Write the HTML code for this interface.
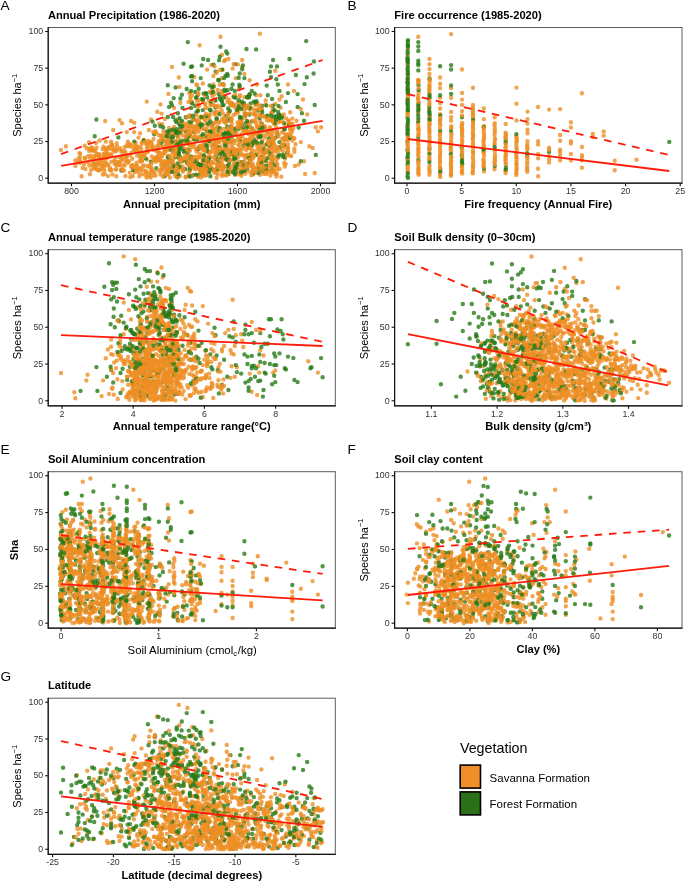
<!DOCTYPE html><html><head><meta charset="utf-8"><style>html,body{margin:0;padding:0;background:#fff;width:685px;height:881px;overflow:hidden} svg{display:block;filter:blur(0.3px)} text{font-family:"Liberation Sans", sans-serif} .tk{font-size:8.8px;fill:#333333} .ti{font-size:11.15px;font-weight:bold;fill:#000} .xt{font-size:11.1px;font-weight:bold;fill:#000} .xtr{font-size:11.4px;fill:#000} .yt{font-size:11px;fill:#000} .lt{font-size:13.6px;fill:#000} path.o{fill:none;stroke:rgb(238, 143, 36);stroke-opacity:0.8;stroke-width:4.4;stroke-linecap:round} path.g{fill:none;stroke:rgb(38, 122, 22);stroke-opacity:0.8;stroke-width:4.4;stroke-linecap:round} .rl{stroke:#FF1A0A;stroke-width:1.8;stroke-linecap:butt} .rd{stroke:#FF1A0A;stroke-width:1.8;stroke-dasharray:7.6 6.8}</style></head><body>
<svg width="685" height="881" viewBox="0 0 685 881">
<rect width="685" height="881" fill="#fff"/>
<clipPath id="cA"><rect x="48.2" y="27.5" width="287.1" height="155.7"/></clipPath>
<g clip-path="url(#cA)">
<path class="o" d="M221.7 163.2h0M167.7 170.1h0M132.8 165.2h0M133.1 147.5h0M145.2 174.8h0M317.9 131.4h0M166.6 144.2h0M170.0 148.1h0M251.9 157.3h0M250.0 127.2h0M231.3 129.8h0M189.3 143.5h0M290.8 133.4h0M195.4 165.5h0M241.5 119.9h0M239.5 96.7h0M218.6 169.9h0M161.5 113.6h0M201.4 155.7h0M229.7 159.9h0M159.5 154.1h0M272.8 160.1h0M182.5 135.4h0M175.6 131.0h0M238.4 161.5h0M280.6 107.7h0M109.7 169.6h0M211.0 132.1h0M117.7 162.0h0M200.7 168.1h0M217.7 153.5h0M117.6 149.6h0M125.7 161.5h0M243.9 130.2h0M163.5 131.7h0M240.5 107.7h0M176.4 141.4h0M251.8 108.0h0M160.6 136.2h0M252.8 163.6h0M263.9 151.3h0M277.4 164.5h0M129.8 172.6h0M189.1 125.7h0M292.5 123.7h0M154.6 160.2h0M259.9 174.8h0M271.4 141.1h0M138.8 168.4h0M105.9 157.6h0M178.8 156.1h0M182.6 166.5h0M281.6 96.3h0M190.0 115.5h0M227.3 101.8h0M96.0 143.0h0M206.1 137.0h0M166.7 161.7h0M153.7 150.0h0M160.5 174.5h0M236.7 132.0h0M194.4 119.2h0M189.6 160.7h0M153.6 139.0h0M80.5 162.0h0M249.9 147.2h0M231.5 145.4h0M161.2 164.5h0M222.6 69.7h0M177.3 146.9h0M196.4 84.5h0M218.5 112.3h0M269.7 155.0h0M192.0 95.5h0M150.6 173.3h0M246.8 139.9h0M188.2 155.5h0M212.5 148.2h0M143.8 139.9h0M280.9 149.5h0M266.9 120.4h0M273.5 168.2h0M216.4 135.0h0M257.6 127.4h0M233.4 96.7h0M200.7 173.7h0M210.5 162.8h0M134.2 132.1h0M122.0 123.3h0M240.9 142.0h0M202.5 162.2h0M207.1 108.1h0M191.8 176.3h0M92.5 150.6h0M215.3 144.0h0M219.9 84.8h0M168.8 135.8h0M284.4 144.4h0M241.6 172.5h0M95.1 168.7h0M253.2 174.4h0M225.2 60.0h0M199.1 119.8h0M312.6 148.0h0M269.5 129.2h0M278.8 155.1h0M140.4 160.3h0M185.0 159.9h0M105.2 121.0h0M286.1 118.4h0M182.2 143.1h0M148.0 148.6h0M199.6 124.8h0M220.9 135.8h0M103.5 146.7h0M242.6 167.3h0M231.4 120.1h0M144.3 165.5h0M254.6 151.1h0M275.3 70.7h0M131.0 153.0h0M256.0 105.0h0M112.7 146.5h0M189.8 150.4h0M94.5 157.8h0M213.0 91.2h0M261.0 156.8h0M233.1 105.5h0M149.1 165.5h0M263.1 115.6h0M223.7 128.9h0M246.8 155.6h0M226.3 156.1h0M185.7 176.7h0M190.2 133.9h0M191.9 103.1h0M112.4 174.5h0M232.6 68.6h0M285.3 124.4h0M170.1 155.7h0M288.1 148.8h0M245.1 115.7h0M253.7 114.0h0M270.7 136.2h0M204.9 115.6h0M175.1 175.7h0M255.5 121.9h0M90.0 174.2h0M294.4 148.7h0M95.3 163.8h0M81.6 176.3h0M103.8 168.4h0M194.1 131.2h0M300.8 142.1h0M231.2 170.8h0M198.0 109.9h0M164.1 151.4h0M220.5 36.8h0M204.0 148.3h0M214.5 100.1h0M178.8 77.5h0M219.0 122.8h0M222.3 152.9h0M234.6 140.7h0M157.3 111.7h0M224.5 121.9h0M269.0 171.4h0M206.3 174.8h0M134.6 172.0h0M158.8 141.4h0M107.6 153.2h0M212.3 123.3h0M244.4 73.9h0M161.1 147.1h0M218.7 159.0h0M237.8 64.4h0M198.1 95.1h0M228.3 166.1h0M265.4 104.8h0M238.3 156.7h0M168.5 93.9h0M180.3 161.5h0M234.8 149.6h0M220.4 107.2h0M294.0 90.9h0M207.9 169.9h0M194.2 139.9h0M189.4 165.7h0M246.1 150.0h0M288.5 139.6h0M160.3 159.7h0M104.8 174.2h0M202.8 83.5h0M261.2 134.4h0M174.3 166.8h0M254.4 131.7h0M222.6 94.8h0M249.7 94.1h0M278.3 136.5h0M126.6 155.9h0M180.4 102.7h0M279.3 121.6h0M262.2 166.7h0M184.0 152.3h0M137.5 150.6h0M204.1 129.0h0M169.9 177.5h0M98.2 154.2h0M222.0 54.7h0M206.0 158.1h0M226.8 172.5h0M242.0 67.1h0M264.9 126.6h0M213.4 76.0h0M75.3 160.5h0M296.6 120.8h0M196.7 151.7h0M193.8 126.1h0M139.5 155.7h0M205.2 93.7h0M106.1 162.8h0M272.8 108.9h0M199.3 129.9h0M245.4 105.9h0M86.8 148.3h0M257.4 168.0h0M263.2 171.5h0M225.8 144.3h0M140.1 133.2h0M215.7 129.3h0M111.1 141.6h0M138.5 137.6h0M225.1 138.8h0M237.2 112.4h0M266.1 144.5h0M286.4 135.3h0M151.8 156.5h0M260.3 95.2h0M209.2 118.6h0M132.3 158.8h0M217.7 89.9h0M211.3 64.9h0M125.5 176.0h0M210.7 105.1h0M164.7 119.1h0M80.1 157.0h0M284.8 166.6h0M182.1 129.6h0M179.9 176.0h0M240.5 150.8h0M75.4 165.9h0M218.8 147.9h0M85.4 168.9h0M294.4 138.5h0M124.4 151.2h0M202.9 100.7h0M255.8 141.6h0M237.4 122.4h0M300.8 109.0h0M144.8 153.4h0M244.4 97.3h0M283.8 114.4h0M162.3 124.2h0M173.1 152.0h0M121.5 157.7h0M228.3 150.4h0M248.6 171.4h0M268.3 166.4h0M212.1 157.2h0M261.9 108.9h0M292.3 118.6h0M275.3 103.7h0M139.2 176.3h0M177.6 171.0h0M248.9 134.5h0M271.0 147.1h0M259.9 33.8h0M315.8 127.2h0M198.8 105.2h0M127.0 146.0h0M238.0 102.7h0M85.2 158.7h0M290.2 112.2h0M305.1 174.0h0M105.8 141.6h0M155.3 131.2h0M222.0 173.7h0M236.8 168.3h0M155.7 175.4h0M228.5 113.7h0M233.7 164.3h0M201.0 140.0h0M282.0 132.1h0M199.6 45.3h0M184.0 125.1h0M116.7 143.3h0M239.0 88.8h0M100.8 163.2h0M111.3 155.9h0M273.1 121.8h0M131.0 121.0h0M111.4 161.7h0M207.1 69.6h0M264.2 160.7h0M289.8 155.4h0M278.0 117.1h0M171.4 161.5h0M121.1 169.8h0M298.7 164.5h0M253.3 136.6h0M242.2 60.0h0M239.2 126.9h0M182.9 171.5h0M61.0 150.0h0M89.0 142.2h0M276.0 149.0h0M206.1 124.0h0M126.8 132.1h0M304.0 161.3h0M194.4 145.4h0M288.0 84.5h0M216.6 177.8h0M285.0 158.8h0M260.2 121.2h0M211.6 138.4h0M148.9 130.0h0M257.1 84.5h0M135.6 142.5h0M213.4 84.5h0M194.3 77.1h0M207.1 143.5h0M189.0 172.3h0M146.1 144.1h0M151.0 119.5h0M160.5 104.4h0M235.8 78.1h0M276.9 173.7h0M208.9 100.8h0M179.4 86.9h0M214.3 172.8h0M265.1 137.4h0M161.2 169.4h0M65.9 146.2h0M240.7 135.9h0M279.6 169.0h0M303.0 99.5h0M281.3 176.7h0M143.4 170.1h0M259.6 148.1h0M262.0 141.6h0M307.2 114.4h0M115.9 169.6h0M199.4 146.1h0M195.2 156.8h0M140.6 146.7h0M321.1 127.2h0M314.7 173.0h0M208.6 151.7h0M258.7 161.6h0M174.1 107.9h0M248.5 122.8h0M113.2 130.0h0M147.1 159.6h0M221.6 78.3h0M146.8 101.6h0M235.1 174.9h0M276.1 127.0h0M89.3 165.5h0M172.0 66.9h0M168.9 127.9h0M277.2 131.5h0M178.3 119.5h0M244.6 161.8h0M249.7 80.3h0"/>
<path class="g" d="M212.7 132.2h0M227.1 134.4h0M187.0 139.7h0M185.4 169.1h0M218.7 131.1h0M304.5 84.1h0M290.2 137.8h0M314.7 105.0h0M207.0 147.8h0M238.9 128.8h0M238.8 164.5h0M195.1 105.8h0M197.9 163.9h0M230.5 118.6h0M279.7 147.1h0M200.4 126.7h0M240.0 139.4h0M174.9 157.3h0M272.3 143.6h0M228.2 108.5h0M167.8 117.0h0M236.0 172.2h0M222.0 69.6h0M258.7 168.9h0M288.0 93.1h0M278.5 105.9h0M277.3 133.5h0M134.2 141.6h0M222.0 101.6h0M176.4 141.9h0M193.5 119.6h0M195.3 92.0h0M279.4 114.6h0M261.8 157.2h0M250.6 142.7h0M239.7 73.5h0M279.5 90.9h0M239.3 84.7h0M170.0 137.0h0M258.0 135.6h0M225.6 75.6h0M271.5 170.2h0M118.4 137.4h0M208.6 140.5h0M251.9 121.4h0M279.5 154.9h0M237.8 109.3h0M167.0 131.5h0M196.2 98.0h0M145.8 158.4h0M203.7 93.7h0M219.1 60.3h0M268.0 151.0h0M266.7 116.5h0M301.9 113.3h0M247.2 96.9h0M209.6 85.4h0M96.4 119.5h0M215.6 100.5h0M212.7 124.5h0M202.8 110.1h0M256.1 49.4h0M269.0 138.4h0M240.2 118.9h0M272.6 118.6h0M243.3 145.9h0M216.2 155.8h0M246.5 49.0h0M188.8 157.1h0M263.4 167.8h0M247.4 157.2h0M223.1 84.2h0M265.8 160.8h0M224.7 144.1h0M275.3 137.8h0M226.4 157.7h0M258.5 144.2h0M198.9 148.1h0M273.1 111.2h0M207.0 158.2h0M289.1 125.0h0M94.7 136.3h0M133.1 170.0h0M249.8 161.2h0M272.1 99.0h0M174.6 132.7h0M251.1 153.7h0M272.0 163.2h0M164.7 163.7h0M238.8 100.4h0M283.6 138.8h0M283.8 123.0h0M201.7 65.4h0M277.0 66.4h0M179.0 123.7h0M263.6 152.5h0M284.0 128.8h0M249.4 114.5h0M186.7 131.1h0M235.8 158.1h0M166.8 172.1h0M190.9 76.4h0M95.3 164.7h0M121.6 170.6h0M177.9 113.2h0M196.4 112.2h0M205.8 165.0h0M180.4 98.5h0M250.6 103.4h0M172.0 105.2h0M260.7 127.3h0M182.5 161.0h0M177.6 136.2h0M182.4 148.8h0M170.4 168.2h0M193.3 175.1h0M277.8 84.5h0M189.9 170.0h0M245.6 123.4h0M284.8 157.0h0M156.3 168.3h0M243.9 103.2h0M256.0 103.6h0M194.1 138.9h0M173.7 98.1h0M198.7 88.8h0M231.4 150.7h0M315.8 154.9h0M192.1 66.4h0M175.6 87.5h0M174.1 148.9h0M306.2 41.1h0M210.4 176.3h0M205.0 118.7h0M177.7 163.5h0M215.6 71.8h0M246.8 106.9h0M273.1 60.0h0M189.0 122.2h0M267.8 95.2h0M161.2 143.1h0M240.6 171.4h0M232.3 104.2h0M287.0 152.7h0M175.4 120.3h0M230.7 126.6h0M298.7 127.6h0M227.5 90.2h0M152.5 121.6h0M201.7 99.3h0M201.2 136.3h0M233.9 96.7h0M242.2 69.2h0M213.2 169.9h0M271.0 66.4h0M237.6 153.7h0M277.9 119.6h0M218.4 162.1h0M187.8 42.1h0M259.6 118.1h0M276.3 79.2h0M252.7 167.1h0M178.5 152.4h0M216.7 119.3h0M226.1 115.9h0M235.0 64.1h0M269.9 71.8h0M271.0 77.1h0M251.9 128.5h0M203.2 59.0h0M170.4 160.5h0M234.9 133.7h0M177.4 177.3h0M218.8 80.3h0M217.9 150.3h0M183.6 63.8h0M224.0 166.7h0M257.9 110.5h0M261.8 105.8h0M313.6 73.5h0M188.3 149.8h0M228.4 169.3h0M289.5 59.0h0M164.7 176.3h0M198.7 175.3h0M168.7 142.1h0M143.6 140.5h0M251.8 90.9h0M300.8 161.3h0M279.5 142.1h0M180.4 129.0h0M253.6 173.3h0M218.8 94.0h0M210.7 110.6h0M215.3 107.5h0M244.4 78.1h0M208.1 60.0h0M214.2 145.1h0M297.6 94.1h0M261.5 163.4h0M151.0 161.6h0M219.6 114.3h0M273.0 105.8h0M206.1 136.1h0M266.4 105.4h0M304.0 120.8h0M266.7 85.6h0M232.6 84.5h0M295.9 75.0h0M285.9 102.0h0M154.8 125.8h0M190.0 116.5h0M266.9 144.4h0M267.2 131.6h0M221.6 157.5h0M186.7 89.0h0M224.1 150.7h0M215.5 140.0h0M234.8 90.9h0M247.1 168.2h0M154.2 134.2h0M189.7 135.7h0M193.9 131.9h0M179.6 118.2h0M213.6 64.7h0M211.3 93.1h0M231.5 141.2h0M228.4 174.0h0M314.0 61.5h0M207.1 97.3h0M227.3 53.6h0M246.5 131.2h0M229.1 163.1h0M167.8 85.2h0M220.5 46.8h0M182.5 107.9h0M297.6 106.9h0M306.8 77.3h0M192.1 81.3h0M163.2 127.5h0M240.5 124.1h0M207.0 130.9h0M200.7 78.1h0"/>
<path class="o" d="M290.2 129.3h0M171.0 143.0h0M226.3 159.7h0M126.3 157.6h0M158.5 170.5h0M172.4 130.7h0M221.4 168.0h0M247.9 148.6h0M229.8 141.9h0M180.3 158.2h0M113.2 150.2h0M219.7 70.1h0M129.0 161.4h0M283.8 146.3h0M186.7 126.6h0M148.0 140.9h0M262.2 148.8h0M195.9 120.3h0M198.7 168.0h0M249.4 162.6h0M163.0 168.1h0M245.2 118.0h0M119.5 120.1h0M159.2 152.7h0M202.0 171.7h0M193.3 167.5h0M241.2 126.7h0M205.3 103.9h0M254.3 110.5h0M216.0 115.6h0M245.3 173.8h0M240.2 137.7h0M251.0 130.5h0M288.3 134.0h0M198.5 156.9h0M246.2 144.4h0M272.1 140.3h0M120.2 148.3h0M214.4 139.7h0M202.7 138.7h0M217.0 152.0h0M164.3 161.5h0M92.7 166.0h0M147.9 152.1h0M107.3 154.4h0M232.4 147.4h0M138.4 172.5h0M121.0 161.1h0M150.0 176.3h0M309.4 146.3h0M182.7 170.0h0M244.5 168.4h0M197.2 125.1h0M241.4 162.5h0M239.4 144.0h0M167.9 155.9h0M270.6 157.4h0M165.0 173.2h0M230.6 130.9h0M240.5 121.2h0M211.6 161.9h0M251.8 151.4h0M215.9 144.1h0M214.7 93.7h0M209.4 115.2h0M254.4 103.6h0M230.8 105.5h0M218.7 134.1h0M110.3 170.0h0M188.1 116.5h0M124.9 165.4h0M89.3 150.9h0M221.7 110.4h0M194.7 131.0h0M151.8 148.2h0M212.3 151.4h0M223.8 117.6h0M80.1 162.8h0M96.6 147.6h0M164.3 147.2h0M243.4 105.7h0M99.5 140.5h0M272.0 129.7h0M158.6 160.4h0M244.6 112.1h0M248.1 105.5h0M255.9 172.9h0M107.8 148.1h0M265.7 100.5h0M98.0 164.0h0M206.5 151.2h0M261.2 116.2h0M183.1 145.5h0M288.0 144.2h0M213.5 129.8h0M187.6 162.5h0M277.0 166.5h0M151.6 163.5h0M291.0 124.4h0M99.0 170.5h0M198.0 94.0h0M166.3 140.4h0M223.6 138.4h0M250.0 138.5h0M271.5 145.4h0M228.9 99.8h0M178.0 137.5h0M141.3 149.5h0M142.1 143.2h0M172.3 169.3h0M131.9 166.9h0M173.0 135.9h0M176.3 148.0h0M134.8 150.0h0M161.9 135.5h0M252.0 157.3h0M238.9 150.3h0M134.9 144.6h0M205.1 165.4h0M256.8 126.8h0M178.0 175.7h0M208.5 131.6h0M153.6 159.3h0M189.6 145.4h0M256.3 117.1h0M202.6 146.9h0M275.4 121.0h0M240.4 172.5h0M295.5 144.3h0M208.7 171.6h0M227.2 174.6h0M108.4 164.6h0M260.3 105.9h0M78.5 158.4h0M254.0 168.5h0M191.8 101.6h0M114.9 164.2h0M231.5 166.8h0M222.6 155.8h0M258.9 164.6h0M232.5 153.5h0M259.0 133.5h0M137.0 155.6h0M99.4 156.1h0M170.7 162.6h0M142.9 154.2h0M192.1 161.1h0M224.1 61.1h0M269.3 170.6h0M264.4 126.2h0M142.0 160.8h0M202.7 161.3h0M185.7 135.9h0M231.9 123.7h0M175.3 155.4h0M154.2 172.2h0M186.5 149.1h0M285.7 164.0h0M201.0 177.4h0M263.6 156.7h0M233.8 172.9h0M278.8 134.9h0M164.4 153.0h0M292.4 140.5h0M231.6 118.9h0M216.2 121.0h0M216.3 172.3h0M235.1 133.0h0M278.3 148.1h0M185.0 156.5h0M256.1 95.2h0M270.4 175.5h0M166.3 133.9h0M188.8 132.1h0M125.4 152.3h0M178.6 130.9h0M209.3 157.5h0M197.8 149.8h0M199.8 117.0h0M250.2 113.1h0M204.4 155.9h0M279.5 99.5h0M111.9 145.0h0M294.4 151.7h0M215.3 159.0h0M116.3 176.3h0M190.0 92.4h0M245.2 158.3h0M246.2 132.5h0M266.6 116.9h0M223.9 85.0h0M265.9 152.7h0M236.5 110.0h0M256.7 154.8h0M284.9 140.2h0M191.5 175.2h0M159.4 123.7h0M194.1 136.8h0M282.1 116.2h0M271.0 105.9h0M263.6 170.7h0M124.7 147.0h0M247.6 125.4h0M271.4 163.2h0M251.3 173.1h0M90.8 155.8h0M209.9 91.8h0M264.7 135.1h0M211.2 104.3h0M220.6 146.4h0M211.2 145.0h0M212.4 125.0h0M185.6 177.4h0M190.3 97.2h0M153.1 132.1h0M136.6 165.8h0M256.2 139.3h0M207.3 139.6h0M288.1 151.7h0M104.4 170.7h0M271.3 135.0h0M203.3 129.1h0M222.0 90.9h0M197.4 105.8h0M205.0 95.3h0M252.5 121.0h0M177.2 142.1h0M129.9 144.2h0M236.4 127.4h0M240.1 95.2h0M115.5 157.4h0M291.2 156.0h0M228.7 111.9h0M122.5 170.5h0M228.4 59.0h0M159.4 141.6h0M222.1 175.9h0M199.0 100.3h0M252.3 142.9h0M282.2 121.7h0M214.5 66.4h0M204.5 118.5h0M235.2 94.7h0M168.4 149.8h0M241.6 154.1h0M177.1 170.9h0M134.2 122.7h0M278.5 157.6h0M142.7 166.2h0M283.6 132.8h0M238.7 105.6h0M84.6 157.8h0M288.4 120.5h0M145.7 170.9h0M245.5 139.8h0M197.1 85.2h0M102.6 149.1h0M181.1 122.2h0M187.5 140.2h0M217.3 107.3h0M257.3 146.5h0M271.6 150.8h0M79.5 153.1h0M227.5 147.6h0M217.8 127.2h0M295.0 166.0h0M217.1 165.6h0M116.2 169.0h0M270.6 120.1h0M275.3 174.0h0M102.5 166.3h0M272.1 112.8h0M130.3 177.0h0M262.3 140.8h0M233.7 64.3h0M236.3 156.6h0M211.9 167.7h0M234.4 143.0h0M84.8 145.8h0M225.9 123.3h0M88.1 162.3h0M231.3 159.9h0M82.7 167.9h0M108.1 176.1h0M147.7 166.3h0M226.1 152.1h0M103.5 159.1h0M221.4 162.9h0"/>
<path class="o" d="M179.5 155.9h0M174.1 126.9h0M169.4 138.9h0M116.4 150.8h0M228.5 157.8h0M202.4 175.0h0M248.3 147.7h0M237.7 140.1h0M217.8 170.5h0M188.1 123.8h0M217.6 140.8h0M124.0 159.3h0M251.3 159.3h0M180.7 166.5h0M197.2 166.3h0M146.5 177.6h0M197.6 157.8h0M222.4 159.4h0M181.0 161.3h0M232.6 127.9h0M168.8 160.3h0M221.5 133.9h0M198.2 131.9h0M246.0 114.0h0M119.6 165.0h0M283.4 145.8h0M90.6 149.5h0M190.9 165.4h0M174.5 145.2h0M160.6 172.3h0M264.4 151.9h0M168.8 145.2h0M248.0 141.5h0M250.7 154.0h0M190.6 131.1h0M163.0 146.8h0M248.0 132.0h0M222.0 166.6h0M157.2 151.4h0M242.2 122.8h0M241.4 175.7h0M210.9 130.7h0M189.6 158.8h0M158.6 159.4h0M97.9 165.2h0M241.9 128.7h0M163.7 165.5h0M255.6 109.8h0M154.6 147.4h0M238.3 145.1h0M271.9 142.6h0M203.1 150.5h0M106.1 151.3h0M257.7 149.6h0M269.8 154.9h0M190.2 170.0h0M232.5 133.7h0M184.6 143.3h0M184.8 158.6h0M212.3 137.0h0M243.5 171.6h0M192.3 120.5h0M226.9 119.2h0M185.4 149.1h0M207.5 167.8h0M245.9 164.7h0M133.8 150.5h0M190.1 115.7h0M205.6 107.6h0M245.2 107.8h0M287.0 135.1h0M282.8 150.7h0M274.4 137.8h0M126.7 154.9h0M236.6 150.8h0M252.4 170.8h0M253.2 133.2h0M108.8 146.9h0M153.5 175.6h0M172.1 134.1h0M224.9 174.7h0M208.2 116.5h0M222.1 119.2h0M288.0 147.1h0M105.1 157.8h0M137.0 146.2h0M260.9 114.8h0M173.2 162.4h0M121.8 150.6h0M205.0 162.3h0M212.1 142.1h0M231.4 102.8h0M255.3 120.0h0M170.5 171.4h0M131.7 167.5h0M117.0 146.2h0M270.1 130.9h0M141.8 142.5h0M214.6 163.1h0M111.0 155.2h0M271.6 159.6h0M277.5 169.6h0M93.3 161.7h0M163.5 136.6h0M284.1 163.2h0M104.1 165.3h0M163.0 154.0h0M265.9 169.4h0M128.0 162.7h0M291.3 129.5h0M111.6 169.6h0M258.7 126.4h0M100.0 169.5h0M145.9 152.0h0M212.5 96.2h0M137.6 168.2h0M249.9 127.0h0M222.7 138.8h0M231.1 142.5h0M151.4 167.4h0M167.3 133.8h0M175.8 131.3h0M201.6 168.5h0M277.7 118.4h0M98.9 154.6h0M265.5 128.6h0M257.5 103.3h0M243.3 141.7h0M271.0 167.7h0M242.1 149.2h0M80.4 161.0h0M205.9 140.6h0M234.4 169.2h0M243.8 155.6h0M140.2 160.1h0M177.1 176.7h0M216.7 145.6h0M198.0 123.2h0M215.8 111.6h0M182.5 125.8h0M226.3 141.7h0M215.4 122.7h0M188.5 175.4h0M241.6 103.2h0M173.8 150.9h0M285.1 139.6h0M268.9 120.5h0M226.2 97.3h0M198.1 176.8h0M195.9 148.9h0M230.1 172.5h0M231.2 150.9h0M261.8 109.9h0M251.5 165.8h0M178.3 148.7h0M276.8 132.8h0M200.8 116.4h0M253.9 142.4h0M88.1 156.3h0M209.6 151.8h0M188.6 102.0h0M93.9 167.9h0M98.0 160.2h0M189.4 93.2h0M151.5 142.4h0M228.3 113.5h0M273.4 172.3h0M216.6 72.8h0M262.3 162.7h0M216.7 154.1h0M276.6 146.7h0M258.3 165.0h0M274.1 124.1h0M114.3 160.7h0M234.2 157.2h0M234.4 163.3h0M95.5 150.7h0M240.6 164.7h0M186.8 163.2h0M269.2 147.8h0M175.4 171.3h0M192.2 144.9h0M139.6 152.8h0M93.9 156.1h0M191.5 137.1h0M212.2 88.3h0M119.2 156.9h0M155.1 132.6h0M197.2 101.5h0M198.5 93.1h0M204.7 134.8h0M130.7 145.0h0M258.5 136.0h0M206.8 158.0h0M234.5 106.8h0M200.4 145.6h0M275.3 151.4h0M198.9 137.4h0M242.5 136.6h0M276.7 159.2h0M208.5 125.4h0M288.9 121.2h0M254.5 114.6h0M84.1 164.3h0M180.8 140.2h0M221.7 149.8h0M235.5 113.8h0M268.6 163.2h0M210.4 103.7h0M221.7 93.3h0M147.9 145.3h0M180.9 133.1h0M257.1 154.2h0M163.0 176.7h0M226.4 130.6h0M217.0 127.2h0M186.0 137.6h0M286.7 155.4h0M146.1 171.9h0M124.0 170.5h0M249.8 108.8h0M217.7 105.7h0M141.9 174.3h0M263.5 145.8h0M263.9 174.1h0M199.0 105.8h0M196.0 115.2h0M271.1 112.9h0M221.9 83.9h0M205.4 120.6h0M80.1 153.6h0M102.8 174.5h0M222.9 113.6h0M142.8 156.3h0M293.4 137.8h0M258.6 144.4h0M174.3 155.6h0M247.7 121.5h0M229.3 168.0h0M167.1 150.5h0M132.8 176.0h0M276.4 176.5h0"/>
<path class="g" d="M188.1 136.8h0M178.6 157.9h0M233.2 172.0h0M252.8 143.2h0M195.3 160.6h0M192.2 103.3h0M269.6 142.8h0M209.9 132.2h0M212.1 87.0h0M191.1 108.0h0M283.1 154.6h0M279.4 114.9h0M267.3 115.8h0M234.8 129.3h0M261.0 161.7h0M226.0 134.4h0M239.8 116.7h0M187.4 153.4h0M166.7 135.8h0M171.4 137.5h0M204.5 144.3h0M238.7 77.7h0M170.0 130.4h0M283.8 145.3h0M289.5 137.7h0M210.2 121.5h0M258.6 172.9h0M198.6 167.7h0M249.2 95.5h0M180.1 125.7h0M247.9 164.2h0M175.7 131.6h0M193.1 115.7h0M182.0 121.0h0M198.5 149.0h0M227.7 75.7h0M274.6 110.1h0M245.4 114.4h0M178.5 144.1h0M186.7 161.6h0M229.9 111.0h0M190.9 159.0h0M263.7 148.6h0M185.6 131.6h0M217.3 159.1h0M230.4 152.4h0M192.1 76.0h0M209.3 141.0h0M196.1 174.6h0M253.9 101.6h0M199.0 126.4h0M228.3 120.4h0M205.6 93.4h0M245.6 144.0h0M224.6 154.8h0M196.4 97.3h0M267.2 158.3h0M176.3 122.0h0M175.2 165.8h0M190.9 122.7h0M225.2 146.5h0M242.1 162.0h0M266.0 169.5h0M209.3 172.1h0M211.2 101.6h0M209.0 158.5h0M218.4 166.1h0M183.8 140.7h0M223.8 97.5h0M254.8 132.1h0M242.9 65.4h0M235.6 166.7h0M228.8 160.0h0M260.6 136.6h0M220.0 154.1h0M218.6 147.6h0M224.4 141.5h0M181.9 94.7h0M243.3 170.8h0M190.0 168.3h0M167.8 157.4h0M227.2 126.7h0M227.7 165.7h0M222.6 104.7h0M197.9 111.0h0M241.9 101.7h0M167.3 164.6h0M234.6 157.8h0M203.9 155.3h0M170.9 171.5h0M206.7 116.0h0M247.1 121.2h0M274.3 116.8h0M243.3 127.6h0M191.1 90.9h0M249.8 108.3h0M202.8 134.2h0M235.4 97.8h0M178.3 153.1h0M241.6 109.0h0M206.6 167.9h0M278.1 156.2h0M270.8 153.7h0M219.8 128.1h0M224.5 89.8h0M178.3 174.2h0M261.5 142.5h0M203.2 99.4h0M201.7 117.3h0M231.5 88.8h0M255.3 155.1h0M171.0 102.7h0M207.2 150.9h0M274.5 164.7h0M261.8 123.6h0M212.7 91.9h0M196.9 139.7h0M185.7 117.3h0M173.1 117.0h0M189.6 176.5h0M231.5 136.5h0M162.6 140.5h0M210.1 109.8h0M275.3 122.9h0M216.7 118.6h0M254.6 93.5h0M171.2 149.8h0M249.6 158.0h0M169.1 106.9h0M239.8 86.6h0M218.2 80.0h0M226.2 51.5h0M227.6 172.0h0M219.8 56.8h0M160.4 126.2h0M262.2 112.0h0M190.9 66.9h0M284.8 129.3h0M259.5 130.0h0"/>
<path class="o" d="M173.6 140.5h0M181.5 160.0h0M200.0 171.6h0M224.7 158.6h0M218.8 166.5h0M286.4 148.0h0M168.5 146.7h0M249.9 159.5h0M220.8 130.8h0M247.3 143.2h0M200.5 157.6h0M267.9 141.7h0M249.4 147.8h0M114.6 151.6h0M105.5 155.2h0M253.8 155.5h0M193.4 164.5h0M256.7 170.1h0M89.6 148.8h0M223.6 121.2h0M282.3 144.3h0M116.9 165.2h0M157.6 159.0h0M147.5 176.6h0M253.0 166.5h0M195.0 134.2h0M273.4 142.4h0M222.3 170.0h0M195.3 129.4h0M285.9 135.7h0M240.3 121.2h0M175.2 145.3h0M246.8 166.2h0M135.2 146.4h0M235.7 154.1h0M132.7 165.4h0M206.7 168.7h0M292.1 131.5h0M231.9 132.4h0M173.3 158.9h0M154.1 172.6h0M230.2 160.4h0M234.5 104.7h0M110.8 170.5h0M260.3 150.6h0M273.2 159.1h0M238.9 174.3h0M205.7 161.1h0M176.5 154.0h0M231.8 139.7h0M273.9 130.3h0M96.0 168.4h0M225.2 139.2h0M170.1 135.4h0M188.4 164.4h0M204.9 103.8h0M152.1 145.9h0M195.1 169.3h0M190.8 156.8h0M266.4 172.4h0M99.2 157.5h0M105.4 148.5h0M95.6 163.6h0M164.0 165.4h0M159.6 152.4h0M259.2 114.8h0M110.0 148.9h0M170.8 170.8h0M231.1 118.5h0M182.4 169.6h0M259.2 108.8h0M217.7 135.6h0M168.4 164.3h0M266.4 149.9h0M175.7 173.1h0M212.5 137.4h0M219.1 159.9h0M123.0 165.2h0M252.8 129.7h0M121.4 151.5h0M270.8 146.5h0M204.6 175.8h0M246.0 131.1h0M175.3 165.9h0M252.4 135.8h0M262.2 125.0h0M243.9 146.6h0M228.6 149.4h0M93.4 159.5h0M121.4 159.4h0M290.5 136.0h0M177.5 131.4h0M271.0 172.2h0M144.7 156.4h0M188.7 128.4h0M140.2 161.6h0M102.0 166.0h0M212.5 146.7h0M272.5 121.2h0M167.0 174.2h0M211.9 127.2h0M241.2 169.4h0M106.8 165.4h0M145.4 142.2h0M212.5 162.6h0M136.5 170.4h0M219.9 148.7h0M200.6 148.3h0M271.9 167.4h0M256.4 124.2h0M267.8 132.5h0M238.0 149.6h0M149.1 166.6h0M77.6 162.4h0M218.1 141.1h0M126.3 156.6h0M166.6 141.6h0M264.4 117.2h0M263.7 158.7h0M276.6 149.1h0M209.8 114.8h0M209.1 154.7h0M247.4 108.0h0M226.1 175.5h0M279.8 118.2h0M160.9 140.0h0M127.9 141.6h0M129.7 146.4h0M261.8 171.2h0M215.2 152.9h0M91.1 170.0h0M213.5 170.1h0M184.8 123.8h0M187.4 143.9h0M257.6 104.2h0M184.0 128.7h0M269.2 117.6h0M158.4 145.1h0M247.3 154.6h0M217.7 174.4h0M241.6 154.9h0M111.6 144.1h0M204.9 150.3h0M247.1 114.2h0M237.9 136.5h0M262.9 131.1h0M198.7 137.1h0M146.9 148.0h0M158.8 134.9h0M214.9 157.8h0M190.8 100.3h0M188.9 133.7h0M197.5 121.6h0M242.1 126.2h0M186.7 117.4h0M164.6 152.6h0M257.0 134.2h0M238.3 111.7h0M214.6 105.8h0M228.5 127.4h0M256.4 143.7h0M208.6 134.1h0M196.0 149.1h0M263.3 165.9h0M276.3 162.8h0M249.8 125.7h0M212.7 100.4h0M214.7 112.4h0M259.1 158.3h0M228.4 155.4h0M281.9 139.3h0M289.2 122.5h0M258.0 163.9h0M269.9 127.2h0M205.0 119.5h0M203.6 143.8h0M189.2 151.1h0M206.7 128.5h0M200.8 165.4h0M251.3 175.2h0M242.4 162.3h0M162.4 169.9h0M229.6 103.3h0"/>
<path class="o" d="M197.7 168.5h0M179.2 158.3h0M219.0 165.1h0M269.4 140.7h0M170.5 146.1h0M255.9 169.9h0M92.4 148.1h0M226.4 120.6h0M193.6 165.1h0M157.5 156.5h0M103.5 157.8h0M199.7 153.9h0M239.8 122.1h0M118.8 163.0h0M165.7 143.2h0M184.8 157.8h0M282.6 145.2h0M236.1 153.6h0M271.2 159.5h0M151.9 171.2h0M131.1 165.9h0M290.2 129.5h0M251.6 148.0h0M155.8 161.8h0M205.5 169.7h0M166.6 134.4h0M168.4 168.7h0M214.8 138.6h0M108.2 157.3h0M247.3 141.6h0M165.0 149.3h0M274.2 138.6h0M175.7 146.9h0M206.0 160.3h0M261.7 147.6h0M259.2 109.3h0M193.6 129.6h0M210.7 134.8h0M179.0 168.5h0M109.9 167.6h0M246.2 167.8h0M255.0 133.0h0M198.1 127.9h0M97.4 170.0h0M272.6 133.6h0M224.2 142.0h0M136.3 165.4h0M230.1 134.1h0M99.4 154.6h0M231.9 127.9h0M237.9 168.8h0M136.4 149.2h0M163.1 164.5h0M244.2 131.5h0M157.2 151.2h0M172.8 152.3h0M287.9 151.6h0M186.8 131.4h0M149.5 166.6h0M114.1 149.3h0M175.5 134.0h0M263.3 153.8h0M223.2 170.0h0M274.3 145.1h0M208.8 164.8h0M92.5 163.9h0M213.3 128.7h0M231.1 120.9h0M219.1 121.7h0M210.5 152.1h0M162.2 156.1h0M271.1 165.2h0M130.1 155.2h0M90.3 158.7h0M260.2 159.7h0M168.2 174.5h0M196.0 137.6h0M190.4 161.3h0M215.9 149.8h0M171.6 163.0h0M232.8 140.2h0M228.9 152.0h0M106.4 149.3h0M283.9 137.7h0M261.1 124.1h0M250.4 163.1h0M219.3 142.0h0M245.3 108.8h0M140.6 169.9h0M273.1 120.3h0M260.7 167.9h0M266.3 172.4h0M214.2 113.7h0M140.6 157.1h0M201.7 173.2h0M181.0 130.9h0M241.1 174.1h0M205.9 113.8h0M215.5 144.9h0M215.8 169.5h0M127.7 160.8h0M227.7 115.6h0M186.5 136.0h0M151.4 142.9h0M245.6 155.4h0M224.5 149.3h0M204.1 147.6h0M169.9 156.4h0M252.5 158.8h0M233.4 115.1h0M277.7 151.9h0M244.3 114.2h0M227.3 160.5h0M150.6 177.6h0M122.1 168.9h0M238.9 137.9h0M122.6 155.1h0M225.2 136.8h0M163.0 139.2h0M206.7 175.0h0M192.1 147.3h0M233.8 149.4h0M190.3 142.0h0M255.3 114.0h0M230.5 103.7h0M183.4 169.9h0M200.7 123.2h0M190.2 126.1h0M157.6 145.6h0M156.2 132.8h0M278.1 122.4h0M240.1 148.3h0M127.5 144.0h0M183.5 143.4h0M237.8 127.3h0M104.5 162.6h0M273.0 151.0h0M197.0 160.5h0M213.3 105.1h0M274.5 170.7h0M248.6 126.9h0M98.8 162.6h0"/>
<path class="g" d="M187.3 140.9h0M276.3 116.3h0M278.1 112.0h0M197.1 163.1h0M224.1 133.6h0M283.0 156.8h0M206.6 145.6h0M229.8 135.0h0M210.4 131.5h0M247.5 97.5h0M168.2 132.5h0M176.8 144.9h0M172.0 135.9h0M202.4 124.9h0M176.2 132.1h0M256.8 142.4h0M180.6 141.7h0M208.2 123.5h0M282.1 117.5h0M266.0 165.6h0M183.8 151.2h0M191.6 156.6h0M227.3 73.9h0M252.1 145.1h0M220.3 99.0h0M237.2 163.7h0M213.8 86.6h0M216.9 168.9h0M226.4 159.3h0M210.4 168.2h0M256.5 101.1h0M224.1 78.1h0M179.2 166.8h0M259.6 136.2h0M241.6 125.6h0M241.2 117.6h0M271.0 115.4h0M234.9 169.2h0M244.8 170.5h0M270.5 146.2h0M205.6 165.9h0M225.2 91.1h0M237.2 110.1h0M246.9 127.1h0M232.3 154.4h0M206.5 93.5h0M243.8 104.4h0M234.9 174.1h0M173.1 166.4h0M182.2 126.3h0M223.6 105.1h0M178.7 151.8h0M262.6 127.7h0M208.1 161.0h0M203.6 159.9h0M234.2 159.2h0M226.7 143.7h0M262.3 170.6h0M171.9 141.7h0M222.0 152.2h0M172.3 172.0h0M243.6 165.4h0M180.4 157.4h0"/>
<path class="o" d="M180.4 158.2h0M195.3 161.7h0M172.6 147.5h0M201.1 170.6h0M282.2 145.0h0M167.9 146.9h0M235.7 150.3h0M158.1 160.3h0M206.8 159.8h0M196.5 167.7h0M252.5 170.7h0M152.0 169.6h0M217.7 137.0h0M191.3 166.9h0M205.9 164.7h0M210.4 135.8h0M293.4 128.2h0M164.4 167.1h0M214.8 133.2h0M190.4 126.6h0M245.1 140.3h0M187.1 156.1h0M136.0 168.8h0M96.5 155.2h0M175.8 151.1h0M224.1 165.9h0M91.6 147.4h0M111.2 154.1h0M196.1 126.7h0M248.0 133.2h0M238.7 124.3h0M273.7 143.9h0M103.8 153.7h0M166.3 171.8h0M137.6 147.4h0M118.4 164.4h0M210.4 166.0h0M268.6 134.7h0M95.0 166.5h0M189.7 132.2h0M217.5 167.4h0M246.2 164.7h0M254.8 131.7h0M272.2 155.0h0M176.6 171.5h0M101.5 158.1h0M263.7 153.4h0M225.9 140.5h0M219.1 149.8h0M170.5 167.6h0M218.8 141.6h0M250.5 139.5h0M100.6 169.6h0M262.2 170.2h0M228.6 130.9h0M149.7 141.6h0M241.5 133.8h0M172.7 134.9h0M268.3 142.0h0M192.3 157.2h0M200.0 148.2h0M141.6 159.8h0M168.1 140.7h0M240.5 165.3h0M286.5 139.8h0M253.7 156.9h0M112.0 145.2h0M169.9 161.5h0M164.8 161.3h0M148.3 173.6h0M260.0 157.8h0M136.6 162.7h0M157.7 148.5h0M249.9 145.3h0M230.0 155.3h0M266.6 174.1h0M152.2 146.4h0M245.2 105.4h0M187.8 160.8h0"/>
<path class="o" d="M180.8 161.4h0M200.8 168.1h0M196.5 164.8h0M203.9 172.0h0M160.2 158.3h0M233.7 153.1h0M246.1 141.4h0M214.2 135.4h0M191.8 164.2h0M150.8 170.5h0M167.2 164.3h0M251.9 133.1h0M93.7 150.6h0M208.5 137.5h0M161.6 166.5h0M168.2 145.2h0M220.8 139.6h0M155.2 157.8h0M273.5 139.9h0M167.9 172.6h0M210.6 162.6h0M101.5 161.3h0M189.2 131.3h0M119.2 164.4h0M271.4 147.0h0M261.2 166.7h0M249.0 166.2h0M192.8 127.1h0M215.5 148.0h0M259.1 132.2h0M253.7 166.7h0M224.7 167.5h0M175.7 147.0h0M114.8 161.7h0M227.6 142.7h0M140.2 168.5h0M244.0 168.1h0M271.8 157.9h0M266.1 152.2h0M217.6 164.5h0M240.9 125.3h0M216.3 153.0h0M187.7 155.9h0M259.8 152.4h0M108.8 155.7h0M141.8 161.4h0M148.2 144.1h0M214.3 169.6h0M103.8 154.8h0M176.8 167.4h0M176.7 154.9h0"/>
<path class="g" d="M279.8 117.8h0M200.6 164.9h0M223.5 134.7h0M180.4 146.3h0M194.7 161.3h0M166.8 136.3h0M172.9 129.4h0M221.5 100.5h0M179.5 132.5h0M228.3 132.7h0M249.6 94.4h0M248.1 144.6h0M255.4 102.4h0M241.3 172.2h0M236.0 167.5h0M259.3 137.1h0M200.7 124.5h0M254.2 140.4h0M228.1 138.7h0M178.8 154.3h0M172.9 137.0h0M238.6 106.5h0"/>
<path class="o" d="M179.7 160.0h0M199.6 169.6h0M204.8 170.4h0M234.2 152.4h0M93.7 150.2h0M157.0 156.9h0M160.7 160.6h0M164.8 163.3h0M192.9 160.1h0M273.3 139.7h0M96.6 154.0h0M165.3 168.0h0M188.5 165.1h0M196.6 127.0h0M169.2 144.3h0M268.9 143.7h0M272.5 147.9h0M238.7 124.3h0M216.5 148.7h0M106.1 158.5h0M274.1 156.7h0M116.4 164.0h0M101.0 158.9h0M264.3 167.7h0"/>
<path class="o" d="M203.4 167.2h0M204.6 173.0h0M163.9 162.7h0M156.5 159.5h0M196.6 166.9h0M269.0 143.4h0M233.7 149.0h0"/>
<path class="g" d="M279.5 117.6h0M176.7 129.1h0M198.3 164.3h0M249.1 97.3h0M179.6 149.1h0M260.6 136.6h0M225.6 133.0h0M219.8 97.3h0"/>
<path class="o" d="M203.9 170.1h0M162.2 163.3h0M166.9 164.1h0M154.8 158.9h0"/>
<path class="o" d="M204.4 168.6h0"/>
<path class="g" d="M276.0 119.7h0M176.4 132.9h0M201.2 165.0h0"/>
<path class="o" d="M204.7 168.3h0"/>
<line x1="61.1" y1="165.8" x2="322.6" y2="120.8" class="rl"/>
<line x1="61.1" y1="154.1" x2="322.6" y2="60.0" class="rd"/>
</g>
<rect x="48.2" y="27.5" width="287.1" height="155.7" fill="none" stroke="#5c5c5c" stroke-width="1.0"/>
<path d="M48.2 27.0V183.2H335.8" fill="none" stroke="#111" stroke-width="1.2"/>
<line x1="45.2" y1="178.20" x2="48.2" y2="178.20" stroke="#111" stroke-width="1.1"/>
<text x="43.2" y="180.90" class="tk" text-anchor="end">0</text>
<line x1="45.2" y1="141.52" x2="48.2" y2="141.52" stroke="#111" stroke-width="1.1"/>
<text x="43.2" y="144.22" class="tk" text-anchor="end">25</text>
<line x1="45.2" y1="104.85" x2="48.2" y2="104.85" stroke="#111" stroke-width="1.1"/>
<text x="43.2" y="107.55" class="tk" text-anchor="end">50</text>
<line x1="45.2" y1="68.17" x2="48.2" y2="68.17" stroke="#111" stroke-width="1.1"/>
<text x="43.2" y="70.87" class="tk" text-anchor="end">75</text>
<line x1="45.2" y1="31.50" x2="48.2" y2="31.50" stroke="#111" stroke-width="1.1"/>
<text x="43.2" y="34.20" class="tk" text-anchor="end">100</text>
<line x1="71.50" y1="183.2" x2="71.50" y2="186.2" stroke="#111" stroke-width="1.1"/>
<text x="71.50" y="194.30" class="tk" text-anchor="middle">800</text>
<line x1="154.50" y1="183.2" x2="154.50" y2="186.2" stroke="#111" stroke-width="1.1"/>
<text x="154.50" y="194.30" class="tk" text-anchor="middle">1200</text>
<line x1="237.50" y1="183.2" x2="237.50" y2="186.2" stroke="#111" stroke-width="1.1"/>
<text x="237.50" y="194.30" class="tk" text-anchor="middle">1600</text>
<line x1="320.50" y1="183.2" x2="320.50" y2="186.2" stroke="#111" stroke-width="1.1"/>
<text x="320.50" y="194.30" class="tk" text-anchor="middle">2000</text>
<text x="47.900000000000006" y="18.7" class="ti">Annual Precipitation (1986-2020)</text>
<text x="0.6" y="9.899999999999999" class="lt">A</text>
<text x="191.8" y="207.6" class="xt" text-anchor="middle">Annual precipitation (mm)</text>
<text transform="translate(21.2,105.3) rotate(-90)" class="yt" text-anchor="middle">Species ha<tspan font-size="7.5" dy="-4.5">−1</tspan></text>
<clipPath id="cB"><rect x="394.6" y="27.5" width="287.4" height="155.7"/></clipPath>
<g clip-path="url(#cB)">
<path class="o" d="M429.5 88.5h0M473.1 118.4h0M538.1 107.0h0M527.5 129.7h0M450.8 163.1h0M440.0 123.5h0M407.8 98.6h0M451.3 126.2h0M418.6 127.8h0M483.7 132.0h0M483.9 162.2h0M483.8 153.3h0M473.2 167.2h0M440.0 155.2h0M516.3 174.9h0M418.5 134.1h0M462.3 141.3h0M516.4 142.5h0M451.3 137.6h0M505.8 145.9h0M516.5 87.6h0M407.5 112.2h0M451.1 117.3h0M451.2 152.1h0M527.2 168.5h0M407.9 88.0h0M494.5 144.2h0M494.5 169.3h0M581.9 155.1h0M451.0 173.6h0M494.7 130.5h0M418.6 92.2h0M451.2 157.6h0M462.0 92.9h0M472.7 132.6h0M418.4 144.9h0M516.5 157.4h0M407.6 143.6h0M462.0 134.7h0M636.5 159.7h0M570.9 160.4h0M472.9 152.2h0M429.4 129.6h0M440.4 169.0h0M440.1 140.5h0M440.1 88.1h0M440.1 103.1h0M483.9 126.3h0M462.2 129.8h0M451.1 97.8h0M473.1 147.1h0M570.9 127.5h0M603.7 135.6h0M472.9 111.2h0M570.9 141.3h0M440.0 175.3h0M505.9 134.2h0M527.4 141.1h0M451.1 112.0h0M418.5 157.0h0M581.9 147.0h0M429.5 103.2h0M429.2 109.1h0M451.3 144.4h0M451.1 88.1h0M418.6 102.6h0M473.0 87.7h0M418.4 120.8h0M473.2 124.0h0M462.1 158.2h0M429.5 64.2h0M407.9 48.0h0M473.3 161.4h0M440.0 145.8h0M560.1 140.7h0M516.5 120.5h0M527.5 123.5h0M451.2 168.1h0M581.9 167.8h0M429.5 160.1h0M581.9 93.3h0M429.7 124.1h0M429.4 142.7h0M527.3 161.5h0M505.7 170.8h0M549.1 162.5h0M407.9 161.1h0M462.0 165.5h0M549.1 156.1h0M495.0 148.9h0M538.1 144.5h0M505.8 164.8h0M527.5 111.6h0M440.1 132.7h0M516.7 169.3h0M429.5 170.3h0M538.1 168.8h0M483.8 119.1h0M407.9 153.1h0M494.7 117.3h0M418.5 107.6h0M494.7 159.3h0M472.7 138.6h0M462.1 151.4h0M483.5 140.3h0M516.5 152.6h0M560.1 109.1h0M505.6 158.7h0M440.1 114.1h0M495.0 138.4h0M592.9 137.1h0M440.1 161.4h0M462.0 99.6h0M418.6 174.7h0M560.1 135.0h0M440.1 77.5h0M429.2 98.5h0M408.0 138.0h0M429.5 73.9h0M472.7 172.3h0M407.7 170.1h0M418.3 36.7h0M484.0 145.0h0M407.8 125.8h0M462.3 173.5h0M570.9 122.3h0M418.1 112.8h0M505.7 153.7h0M418.5 81.2h0M516.3 136.5h0M462.0 111.1h0M440.1 108.5h0M429.2 152.2h0M462.0 69.5h0M494.5 125.3h0M549.1 147.7h0M581.9 160.4h0M418.4 151.3h0M429.5 69.1h0M473.0 105.0h0M429.6 165.6h0M516.5 103.7h0M538.1 154.0h0M429.5 135.8h0M560.1 151.9h0M407.6 54.8h0M429.7 117.1h0M462.0 104.9h0M527.2 149.3h0M408.0 74.8h0M451.1 34.1h0M429.5 58.9h0M516.5 147.9h0M462.2 122.9h0M418.5 167.1h0M407.5 81.3h0M538.1 176.2h0M429.7 79.9h0M429.5 93.7h0M516.5 163.7h0M440.1 97.8h0M560.1 160.4h0M570.9 154.0h0M407.6 64.5h0M505.7 124.0h0M549.1 109.6h0M483.8 108.5h0M614.7 170.3h0M484.0 171.4h0M614.7 160.8h0M451.3 132.9h0"/>
<path class="g" d="M461.8 155.2h0M440.1 66.3h0M407.6 89.5h0M407.6 123.9h0M484.0 168.5h0M418.2 115.1h0M407.5 59.1h0M407.9 46.7h0M407.6 82.8h0M429.4 162.1h0M418.5 85.0h0M429.5 154.1h0M516.4 134.2h0M407.7 77.9h0M429.4 112.7h0M527.2 154.9h0M407.5 117.5h0M407.8 106.1h0M505.7 142.4h0M407.8 135.3h0M407.9 111.0h0M451.1 69.5h0M429.7 120.3h0M429.7 97.2h0M505.6 170.0h0M407.7 158.2h0M440.2 130.6h0M418.3 160.1h0M407.5 176.1h0M494.6 146.9h0M440.2 172.4h0M418.3 65.1h0M483.5 150.2h0M407.8 130.1h0M451.1 85.4h0M418.3 70.4h0M429.4 148.4h0M407.4 150.3h0M473.1 120.0h0M407.5 164.5h0M418.4 104.1h0M407.8 70.6h0M407.8 101.4h0M407.5 140.9h0M461.7 147.4h0M462.0 117.3h0M418.6 89.9h0M408.0 40.3h0M462.3 163.8h0M418.3 50.9h0M549.1 151.9h0M669.3 141.9h0M483.8 127.0h0M451.1 130.4h0M418.3 137.8h0M494.8 166.1h0M418.1 122.1h0M407.7 53.3h0M429.5 78.4h0M451.1 93.9h0M450.8 154.1h0M429.4 107.0h0M418.3 42.1h0M440.1 95.2h0M440.3 115.4h0M418.4 109.0h0"/>
<path class="o" d="M440.3 119.7h0M418.6 129.7h0M527.2 170.0h0M494.5 135.0h0M451.2 161.2h0M440.0 159.6h0M494.7 142.7h0M439.9 128.1h0M483.5 159.4h0M473.2 153.6h0M461.9 143.6h0M407.6 94.2h0M462.1 132.6h0M451.3 128.0h0M450.8 149.7h0M516.3 171.2h0M418.3 135.5h0M440.2 150.7h0M516.3 153.8h0M439.9 166.2h0M472.8 113.2h0M473.1 129.8h0M483.6 152.2h0M451.1 120.8h0M505.8 150.3h0M418.4 152.7h0M527.5 119.1h0M516.7 139.5h0M451.0 169.8h0M483.6 165.5h0M451.0 174.4h0M484.0 136.5h0M527.3 163.6h0M462.2 168.6h0M407.5 141.9h0M505.8 162.6h0M418.6 87.9h0M429.5 144.4h0M461.8 126.3h0M472.8 107.4h0M407.7 115.1h0M418.5 101.9h0M462.1 156.7h0M429.3 158.4h0M418.4 147.8h0M473.1 158.9h0M472.9 166.0h0M473.0 122.1h0M527.3 158.5h0M506.0 155.2h0M527.5 133.2h0M581.9 157.2h0M429.4 174.8h0M429.5 131.3h0M407.6 160.0h0M505.7 143.5h0M570.9 143.4h0M429.3 168.1h0M483.5 127.4h0M505.7 135.9h0M429.2 104.7h0M439.9 135.7h0M440.2 173.6h0M429.3 125.2h0M418.6 161.1h0M494.7 164.8h0M483.5 142.1h0M429.3 91.4h0M494.9 157.3h0M418.3 140.9h0M473.2 137.0h0M505.6 173.0h0M418.3 80.1h0M494.8 151.5h0M592.9 133.9h0M516.6 159.4h0M462.2 149.7h0M408.0 151.6h0M603.7 131.4h0M516.5 164.9h0M473.1 143.5h0M538.1 158.2h0M440.4 144.0h0M549.1 149.8h0M429.4 85.2h0M560.1 155.1h0M527.5 148.3h0M451.1 140.5h0M418.1 124.8h0M451.4 135.0h0M407.8 101.0h0M440.1 83.7h0M494.7 123.1h0M418.3 95.4h0M516.4 145.5h0M472.7 173.4h0M429.5 138.3h0M407.9 137.2h0M429.7 115.9h0M407.8 166.1h0M538.1 141.3h0M407.6 171.9h0M418.4 168.9h0M429.3 78.5h0M462.0 115.5h0M549.1 159.3h0M560.1 149.8h0M494.8 128.2h0M429.5 149.7h0"/>
<path class="g" d="M407.5 126.7h0M429.6 114.4h0M407.8 90.2h0M407.9 109.9h0M407.7 79.2h0M407.9 45.4h0M527.2 153.3h0M407.7 59.7h0M408.0 177.9h0M505.7 140.3h0M407.9 84.6h0M407.5 156.9h0M407.5 102.9h0M407.6 50.7h0M462.1 160.3h0M440.3 170.8h0M407.9 173.3h0M418.3 46.5h0M418.3 106.0h0M407.7 74.5h0M407.5 68.7h0M451.1 65.1h0M418.3 118.3h0M408.0 121.7h0M418.3 110.8h0M418.3 63.3h0M505.9 167.7h0M407.5 133.6h0M408.0 162.3h0M429.5 95.0h0M483.7 149.2h0"/>
<path class="o" d="M527.2 166.4h0M461.9 145.8h0M439.9 120.8h0M473.0 128.1h0M473.1 133.7h0M450.8 148.0h0M483.6 166.7h0M462.3 136.6h0M439.9 157.3h0M516.6 167.6h0M429.7 140.8h0M494.8 132.6h0M418.6 132.2h0M494.9 139.9h0M451.0 159.9h0M451.0 166.3h0M516.8 149.7h0M407.8 139.3h0M516.6 138.0h0M473.0 150.4h0M429.4 157.0h0M483.8 129.6h0M439.9 163.0h0M429.3 90.0h0M472.9 140.8h0M472.9 156.6h0M527.3 171.8h0M472.8 109.3h0M483.5 146.3h0M440.0 133.9h0M418.3 149.1h0M516.3 156.1h0M472.9 170.0h0M418.2 82.9h0M440.1 148.4h0M418.1 155.0h0M462.2 153.2h0M440.3 177.1h0M429.4 133.0h0M505.5 137.0h0M440.2 168.4h0M418.1 142.9h0M505.9 151.6h0M472.8 116.2h0M505.4 156.7h0M418.1 98.0h0M408.0 96.5h0M495.0 155.0h0M429.4 146.7h0M407.9 148.6h0M516.4 162.0h0M527.4 156.9h0M527.2 146.2h0M461.8 172.3h0M484.0 156.1h0M440.0 138.7h0M418.4 162.5h0M407.6 114.0h0M429.4 121.9h0M451.2 142.8h0M451.0 171.6h0M429.7 81.9h0M494.5 162.2h0M473.1 163.9h0M516.4 173.3h0M418.6 173.5h0M407.5 168.3h0M461.9 166.4h0M484.0 138.4h0M462.1 130.7h0M429.2 127.8h0M429.6 172.0h0M462.0 124.5h0M429.2 100.5h0"/>
<path class="g" d="M407.5 87.0h0M407.8 44.7h0M407.6 82.2h0M429.4 119.0h0M408.0 93.3h0M407.5 99.7h0M407.5 57.4h0M407.7 108.3h0M407.9 62.8h0M461.9 162.1h0M407.5 129.2h0M407.8 72.6h0M429.3 111.0h0M408.0 119.8h0M408.0 154.0h0M418.3 60.6h0"/>
<path class="o" d="M461.9 139.5h0M450.8 146.9h0M440.4 125.0h0M440.2 152.9h0M473.2 135.6h0M418.1 129.3h0M451.2 156.8h0M484.0 134.2h0M440.3 117.7h0M505.4 160.5h0M472.8 125.9h0M451.0 165.0h0M483.6 163.9h0M407.5 144.9h0M418.1 99.1h0M440.1 142.2h0M505.6 132.8h0M429.5 86.5h0M505.7 138.7h0M473.2 114.4h0M418.3 164.4h0M505.4 148.0h0M516.7 141.1h0M462.1 170.9h0M495.0 161.0h0M418.3 172.2h0M450.9 175.8h0M461.7 127.8h0M418.3 79.9h0M472.7 145.1h0M527.4 144.2h0"/>
<path class="g" d="M407.5 61.4h0M407.9 66.6h0M407.7 91.6h0M407.7 104.4h0M407.7 42.0h0M407.5 132.3h0"/>
<path class="o" d="M483.5 160.6h0M407.7 147.0h0M418.4 170.2h0"/>
<line x1="407.7" y1="139.0" x2="669.3" y2="171.0" class="rl"/>
<line x1="407.7" y1="94.1" x2="669.3" y2="155.0" class="rd"/>
</g>
<rect x="394.6" y="27.5" width="287.4" height="155.7" fill="none" stroke="#5c5c5c" stroke-width="1.0"/>
<path d="M394.6 27.0V183.2H682.5" fill="none" stroke="#111" stroke-width="1.2"/>
<line x1="391.6" y1="178.20" x2="394.6" y2="178.20" stroke="#111" stroke-width="1.1"/>
<text x="389.6" y="180.90" class="tk" text-anchor="end">0</text>
<line x1="391.6" y1="141.52" x2="394.6" y2="141.52" stroke="#111" stroke-width="1.1"/>
<text x="389.6" y="144.22" class="tk" text-anchor="end">25</text>
<line x1="391.6" y1="104.85" x2="394.6" y2="104.85" stroke="#111" stroke-width="1.1"/>
<text x="389.6" y="107.55" class="tk" text-anchor="end">50</text>
<line x1="391.6" y1="68.17" x2="394.6" y2="68.17" stroke="#111" stroke-width="1.1"/>
<text x="389.6" y="70.87" class="tk" text-anchor="end">75</text>
<line x1="391.6" y1="31.50" x2="394.6" y2="31.50" stroke="#111" stroke-width="1.1"/>
<text x="389.6" y="34.20" class="tk" text-anchor="end">100</text>
<line x1="407.00" y1="183.2" x2="407.00" y2="186.2" stroke="#111" stroke-width="1.1"/>
<text x="407.00" y="194.30" class="tk" text-anchor="middle">0</text>
<line x1="461.64" y1="183.2" x2="461.64" y2="186.2" stroke="#111" stroke-width="1.1"/>
<text x="461.64" y="194.30" class="tk" text-anchor="middle">5</text>
<line x1="516.28" y1="183.2" x2="516.28" y2="186.2" stroke="#111" stroke-width="1.1"/>
<text x="516.28" y="194.30" class="tk" text-anchor="middle">10</text>
<line x1="570.92" y1="183.2" x2="570.92" y2="186.2" stroke="#111" stroke-width="1.1"/>
<text x="570.92" y="194.30" class="tk" text-anchor="middle">15</text>
<line x1="625.56" y1="183.2" x2="625.56" y2="186.2" stroke="#111" stroke-width="1.1"/>
<text x="625.56" y="194.30" class="tk" text-anchor="middle">20</text>
<line x1="680.20" y1="183.2" x2="680.20" y2="186.2" stroke="#111" stroke-width="1.1"/>
<text x="680.20" y="194.30" class="tk" text-anchor="middle">25</text>
<text x="394.3" y="18.7" class="ti">Fire occurrence (1985-2020)</text>
<text x="347.5" y="9.899999999999999" class="lt">B</text>
<text x="538.3" y="207.6" class="xt" text-anchor="middle">Fire frequency (Annual Fire)</text>
<text transform="translate(367.6,105.3) rotate(-90)" class="yt" text-anchor="middle">Species ha<tspan font-size="7.5" dy="-4.5">−1</tspan></text>
<clipPath id="cC"><rect x="48.2" y="249.7" width="287.1" height="156.10000000000002"/></clipPath>
<g clip-path="url(#cC)">
<path class="o" d="M194.3 333.7h0M206.0 389.6h0M135.9 395.3h0M150.4 293.7h0M135.6 374.3h0M175.2 340.8h0M153.3 338.4h0M87.5 374.7h0M131.0 319.4h0M136.8 354.6h0M101.6 396.1h0M203.9 377.9h0M164.8 342.2h0M148.7 358.4h0M161.1 358.9h0M160.5 381.4h0M162.8 352.5h0M163.1 374.1h0M131.7 364.5h0M207.8 359.7h0M123.8 362.0h0M149.4 310.7h0M153.6 362.9h0M123.7 256.4h0M170.5 356.2h0M168.1 334.6h0M163.8 323.6h0M116.0 368.2h0M177.9 368.6h0M191.1 342.7h0M142.0 342.6h0M121.6 348.2h0M150.1 350.4h0M177.2 375.4h0M139.5 330.5h0M143.8 374.1h0M180.4 319.4h0M143.0 386.8h0M183.9 364.0h0M129.3 392.0h0M147.2 390.1h0M146.6 395.5h0M111.1 354.1h0M152.9 356.4h0M215.6 358.7h0M147.4 321.5h0M157.3 281.6h0M152.0 383.1h0M171.0 380.3h0M143.6 351.9h0M140.2 361.1h0M139.8 336.6h0M164.5 329.9h0M169.2 366.3h0M195.4 358.4h0M146.4 366.5h0M154.0 390.6h0M235.8 335.3h0M157.7 373.0h0M194.0 383.6h0M120.1 343.5h0M105.8 358.3h0M139.8 318.2h0M170.5 398.4h0M188.5 359.0h0M168.2 372.6h0M128.1 356.9h0M171.5 314.6h0M138.5 382.3h0M161.9 390.6h0M159.4 344.7h0M196.4 367.2h0M182.3 394.5h0M166.4 377.8h0M130.0 371.9h0M135.1 369.0h0M211.3 349.1h0M178.1 353.5h0M159.9 333.9h0M192.1 369.8h0M212.4 333.1h0M122.3 381.1h0M167.8 389.0h0M156.1 317.7h0M144.6 306.8h0M183.8 331.9h0M158.2 326.5h0M169.0 322.9h0M202.8 365.1h0M218.5 380.2h0M166.2 361.1h0M149.6 370.5h0M220.6 371.6h0M162.6 277.4h0M195.3 376.8h0M195.0 348.7h0M138.3 387.9h0M178.2 346.4h0M153.5 396.2h0M176.3 383.6h0M156.3 312.9h0M175.3 400.6h0M175.6 357.4h0M149.0 332.5h0M145.6 382.4h0M185.7 304.7h0M152.1 321.6h0M174.8 333.5h0M144.7 338.2h0M172.5 346.6h0M187.8 287.9h0M61.0 373.0h0M123.8 334.2h0M205.2 350.8h0M159.1 396.8h0M233.7 328.9h0M185.6 399.1h0M113.2 373.0h0M233.7 354.4h0M153.2 377.1h0M141.5 399.9h0M211.0 387.3h0M169.4 304.7h0M183.9 376.8h0M120.5 358.3h0M201.3 371.2h0M308.3 361.3h0M123.7 302.6h0M112.4 387.8h0M188.3 335.8h0M189.6 395.1h0M172.3 370.4h0M167.9 349.4h0M197.5 321.4h0M194.5 389.3h0M147.1 301.6h0M161.9 364.2h0M208.1 323.6h0M251.8 321.9h0M134.0 348.5h0M107.9 349.5h0M147.1 316.6h0M146.8 286.8h0M113.8 394.8h0M230.5 377.9h0M165.6 313.4h0M122.6 389.5h0M148.8 345.3h0M154.2 348.2h0M221.2 389.5h0M139.3 366.4h0M258.2 366.2h0M129.4 399.7h0M131.9 383.0h0M161.0 339.6h0M154.9 307.8h0M74.3 392.3h0M182.5 370.9h0M222.0 349.1h0M172.1 351.6h0M160.3 368.7h0M259.3 372.6h0M162.2 304.0h0M218.4 367.4h0M148.8 375.8h0M111.1 339.4h0M188.9 324.7h0M171.2 392.4h0M144.8 362.0h0M158.5 321.9h0M174.8 327.2h0M128.9 310.0h0M192.1 305.5h0M114.2 362.5h0M256.1 329.9h0M179.9 387.3h0M179.8 361.3h0M251.8 391.7h0M242.2 340.6h0M217.4 385.0h0M135.2 259.1h0M182.9 337.0h0M189.4 374.0h0M228.4 329.9h0M103.1 380.4h0M162.6 316.9h0M199.6 345.9h0M223.5 379.4h0M145.8 328.3h0M164.4 397.7h0M231.6 366.2h0M119.5 321.5h0M214.5 343.8h0M137.7 307.4h0M158.4 385.9h0M190.0 351.3h0M249.7 373.6h0M178.3 391.9h0M165.6 383.2h0M198.9 392.7h0M187.4 385.3h0M127.4 377.0h0M213.3 398.0h0M118.9 352.8h0M161.5 267.5h0M243.3 347.0h0M135.1 379.1h0M257.1 394.9h0M230.5 350.2h0M117.7 398.9h0M317.9 372.6h0M160.4 296.8h0M165.7 300.4h0M236.9 367.2h0M86.3 380.4h0M168.9 288.9h0M157.3 272.1h0M151.0 303.9h0M232.6 299.7h0M241.2 334.2h0M273.1 372.6h0M184.6 349.9h0M184.6 310.0h0M169.0 340.3h0M141.5 325.5h0M202.8 306.1h0M75.3 398.2h0M234.8 345.9h0M134.7 340.0h0M140.8 393.8h0M134.0 391.0h0M191.1 291.6h0M135.2 400.2h0M202.9 397.0h0M263.5 355.5h0M155.5 294.7h0M260.3 350.2h0M151.0 281.6h0M209.2 373.6h0M109.0 394.0h0M125.8 328.9h0M117.4 379.3h0M172.7 363.2h0M183.6 323.6h0"/>
<path class="g" d="M263.5 390.0h0M169.1 312.9h0M113.2 284.7h0M212.4 369.4h0M172.0 327.8h0M138.4 316.3h0M190.0 342.7h0M132.1 332.4h0M164.5 389.3h0M260.3 380.6h0M170.6 307.9h0M154.2 370.5h0M136.9 353.0h0M141.6 348.5h0M193.2 381.1h0M172.8 334.8h0M131.0 393.0h0M112.1 290.0h0M126.5 326.7h0M216.6 355.5h0M128.9 347.8h0M172.9 365.4h0M128.9 294.2h0M174.3 373.9h0M236.9 372.1h0M159.1 324.4h0M177.0 356.3h0M113.6 316.7h0M138.1 363.1h0M152.3 355.6h0M285.9 369.4h0M121.6 350.9h0M134.5 306.9h0M129.8 366.8h0M173.2 322.4h0M127.2 379.9h0M235.8 365.1h0M248.6 381.1h0M235.8 341.7h0M281.6 319.3h0M167.3 358.0h0M198.5 330.6h0M136.6 348.3h0M140.3 342.4h0M191.1 353.4h0M154.2 292.1h0M186.7 334.8h0M109.0 263.3h0M145.4 337.0h0M288.0 356.6h0M153.1 303.6h0M248.6 390.7h0M275.3 382.1h0M282.7 334.2h0M271.0 319.3h0M162.9 368.6h0M96.4 367.1h0M157.3 299.4h0M142.6 398.5h0M140.5 286.4h0M172.3 359.0h0M162.9 349.6h0M260.3 361.9h0M137.2 328.8h0M163.2 307.8h0M195.3 311.8h0M175.9 292.7h0M149.1 362.2h0M158.4 375.5h0M217.7 370.4h0M135.2 289.6h0M184.6 317.3h0M251.8 368.3h0M164.4 394.9h0M153.1 381.4h0M111.1 299.4h0M166.1 338.0h0M269.9 364.0h0M156.6 344.3h0M151.0 322.6h0M170.6 299.0h0M114.8 327.2h0M228.4 390.0h0M176.3 341.9h0M251.8 355.9h0M147.9 293.1h0M169.9 349.3h0M293.4 358.1h0M201.7 342.7h0M229.4 336.3h0M139.0 368.3h0M118.4 320.5h0M106.9 376.8h0M142.7 358.9h0M260.3 333.1h0M191.1 359.8h0M297.6 382.1h0M248.6 334.2h0M144.7 304.7h0M170.7 390.7h0M133.4 359.1h0M310.4 368.3h0M139.4 299.4h0M158.7 334.8h0M144.8 371.6h0M143.6 381.2h0M175.3 349.8h0M133.6 385.5h0M158.4 287.9h0M274.2 375.8h0M218.8 393.4h0M161.4 382.5h0M322.6 377.2h0M264.6 372.6h0M145.6 328.0h0M149.8 373.1h0M113.2 382.5h0M182.5 345.7h0M117.0 301.5h0M276.3 365.1h0M245.4 329.9h0M110.6 324.2h0M261.4 347.0h0M233.7 321.4h0M167.6 375.2h0M163.6 275.3h0M136.3 379.3h0M245.4 324.6h0M199.6 363.0h0M146.8 318.4h0M111.1 369.9h0M259.3 354.4h0M214.5 327.8h0M262.9 396.6h0M161.5 314.9h0M275.3 356.6h0M120.5 393.0h0M174.2 314.7h0M104.3 286.8h0M244.4 354.4h0M151.7 309.9h0M148.5 280.1h0M279.5 353.4h0M269.9 336.3h0M122.6 368.8h0M277.4 329.5h0M140.6 323.6h0M160.0 339.7h0M196.4 356.6h0M210.2 354.4h0M153.1 286.4h0M157.7 273.2h0M227.3 376.8h0M140.9 332.5h0M142.6 387.3h0M138.8 279.1h0M283.4 339.5h0M120.5 373.0h0M149.0 367.6h0M120.5 335.2h0M80.6 390.9h0M135.9 264.8h0M113.8 308.5h0M215.6 335.3h0M206.0 350.2h0M121.2 315.8h0M255.0 376.8h0M267.8 343.8h0M147.2 332.7h0M247.5 364.0h0M321.1 358.1h0M146.8 341.5h0M145.4 299.8h0M97.4 390.9h0M123.7 322.6h0M222.0 384.7h0M177.6 393.5h0M164.6 329.7h0M146.8 396.1h0M118.4 343.2h0M140.1 391.4h0M150.0 271.1h0M160.4 292.4h0M131.3 339.3h0M200.7 397.7h0M179.4 315.2h0M224.1 359.8h0M162.5 354.9h0M143.4 311.5h0M144.7 269.0h0M177.1 332.5h0M253.9 342.7h0"/>
<path class="o" d="M146.8 361.6h0M135.0 372.7h0M137.1 353.3h0M162.4 377.4h0M171.3 331.8h0M151.7 296.1h0M130.0 392.6h0M148.3 349.3h0M173.6 375.7h0M180.2 373.0h0M171.4 359.2h0M151.4 385.8h0M158.2 381.6h0M150.3 368.1h0M164.3 372.5h0M159.7 350.0h0M162.1 321.3h0M185.7 356.2h0M175.5 342.8h0M215.0 359.1h0M155.9 354.1h0M142.6 334.1h0M139.9 372.9h0M144.2 370.1h0M136.5 360.3h0M137.1 377.6h0M137.5 337.8h0M148.4 381.9h0M178.4 393.8h0M188.8 366.7h0M164.3 361.9h0M143.9 375.6h0M167.7 335.5h0M149.2 353.8h0M196.4 382.1h0M119.5 346.1h0M170.9 379.9h0M155.5 341.2h0M142.3 338.8h0M155.1 324.4h0M158.0 363.3h0M170.6 365.2h0M156.4 371.4h0M134.9 392.8h0M167.8 355.6h0M142.8 390.1h0M194.5 338.3h0M163.8 338.1h0M182.1 363.5h0M176.8 381.7h0M155.5 392.5h0M206.0 355.5h0M134.7 397.6h0M183.7 391.1h0M151.7 362.2h0M165.4 342.9h0M192.1 385.3h0M165.8 387.9h0M142.2 396.6h0M136.6 384.7h0M158.5 345.4h0M172.1 370.7h0M211.3 387.5h0M154.8 399.7h0M125.4 364.0h0M140.5 346.7h0M118.0 354.4h0M142.0 320.2h0M150.0 398.8h0M158.5 318.5h0M182.4 320.7h0M116.8 360.6h0M207.1 364.0h0M177.3 365.5h0M206.0 374.7h0M137.2 368.1h0M156.0 330.4h0M200.7 379.6h0M191.0 395.2h0M188.6 343.1h0M128.8 370.7h0M179.9 377.8h0M184.8 372.6h0M151.6 376.3h0M174.7 354.7h0M234.8 376.8h0M141.9 359.9h0M161.4 399.8h0M172.0 303.2h0M171.0 388.2h0M220.6 387.5h0M164.6 382.0h0M194.3 357.8h0M148.6 344.1h0M153.6 310.6h0M149.6 333.5h0M166.8 349.4h0M169.7 399.6h0M184.2 333.4h0M169.7 327.2h0M149.2 390.8h0M161.2 307.9h0M219.8 364.0h0M174.1 316.3h0M144.6 356.1h0M130.8 345.6h0M132.2 367.0h0M153.4 348.5h0M173.2 396.0h0M163.8 329.8h0M178.3 346.5h0M162.7 392.6h0M157.6 376.0h0M126.0 397.3h0M141.1 309.2h0M143.1 303.1h0M130.0 362.1h0M197.1 372.5h0M195.4 344.1h0M140.5 329.3h0M195.2 368.0h0M130.7 375.5h0M185.1 327.2h0M214.5 336.3h0M110.9 369.3h0M162.5 301.6h0M170.4 343.2h0M111.1 346.7h0M152.2 357.5h0M180.4 328.9h0M150.3 316.3h0M193.9 376.0h0M201.7 370.6h0M176.8 333.5h0M120.2 340.6h0M189.9 291.0h0M260.3 331.0h0M218.4 371.6h0M175.6 388.5h0M150.0 302.9h0M179.7 358.3h0M225.2 333.1h0M148.0 310.4h0M196.7 391.1h0M224.1 345.9h0M171.8 310.1h0M158.1 304.2h0M165.7 287.9h0M167.8 392.7h0M149.9 327.4h0M131.8 381.8h0M189.2 351.8h0M201.7 391.7h0M162.5 368.0h0M223.1 393.4h0M173.0 347.1h0M182.6 339.2h0M231.6 353.4h0M112.1 388.8h0M213.4 351.3h0M222.0 351.3h0M180.7 353.2h0M169.2 314.7h0M172.0 337.7h0M147.2 321.4h0M192.1 326.8h0M275.3 370.4h0M142.2 383.3h0M162.9 313.1h0M132.5 387.5h0M117.4 320.5h0M190.0 359.8h0M195.3 319.3h0M142.3 365.6h0M112.9 354.8h0M155.5 387.9h0M211.3 342.7h0M176.3 325.9h0M153.7 320.0h0M211.3 361.9h0M209.5 378.1h0M132.3 339.3h0M128.2 384.7h0M121.5 359.7h0"/>
<path class="o" d="M151.1 362.3h0M135.4 375.5h0M131.5 392.7h0M157.0 380.4h0M179.2 370.6h0M153.2 383.0h0M165.0 374.0h0M148.4 386.1h0M134.4 351.6h0M158.7 355.9h0M139.1 371.3h0M172.0 381.7h0M171.9 358.2h0M174.7 374.7h0M151.0 341.2h0M145.5 364.6h0M145.0 378.1h0M138.0 390.7h0M159.9 371.8h0M174.7 344.8h0M166.5 360.0h0M165.4 379.1h0M194.9 378.8h0M160.1 351.2h0M148.3 349.0h0M143.0 336.3h0M165.0 341.7h0M144.2 394.0h0M149.8 371.8h0M142.7 342.4h0M154.7 393.7h0M168.5 364.4h0M140.4 397.5h0M169.1 334.7h0M171.9 340.8h0M192.7 366.6h0M152.8 355.4h0M212.4 384.3h0M155.7 388.8h0M136.4 356.5h0M144.6 400.4h0M207.0 363.4h0M136.7 383.5h0M160.8 338.3h0M143.7 360.0h0M175.1 365.2h0M155.6 327.8h0M143.7 349.0h0M180.1 376.7h0M144.1 370.2h0M167.0 346.5h0M159.6 361.0h0M128.7 397.0h0M175.8 354.0h0M176.7 382.6h0M153.7 313.4h0M179.5 392.7h0M148.9 299.4h0M163.4 389.4h0M188.8 341.5h0M137.5 339.9h0M159.8 315.8h0M168.7 392.0h0M152.2 376.3h0M185.2 356.0h0M166.3 399.9h0M150.4 366.8h0M152.2 332.2h0M180.1 362.8h0M163.1 365.5h0M161.5 320.4h0M140.7 354.7h0M130.6 372.7h0M165.8 328.3h0M139.9 321.5h0M194.1 360.5h0M158.1 366.7h0M132.2 384.6h0M161.4 395.6h0M123.6 363.8h0M152.3 307.0h0M156.2 347.3h0M162.7 305.8h0M205.4 378.3h0M143.6 328.0h0M128.2 360.8h0M139.0 327.0h0M134.6 364.4h0M120.8 356.3h0M149.4 398.6h0M200.7 378.5h0M171.0 329.4h0M185.4 370.5h0M147.3 334.4h0M161.0 301.2h0M137.1 333.4h0M146.1 354.8h0M154.3 318.3h0M160.5 324.9h0M186.8 334.8h0M166.2 384.7h0M174.9 389.3h0M172.2 399.2h0M151.0 323.4h0M207.8 356.1h0M175.3 332.0h0M137.9 361.0h0M188.3 387.8h0M193.2 335.9h0M191.7 348.1h0M149.8 392.5h0M194.3 343.8h0M195.3 388.5h0M210.2 389.1h0M155.7 340.7h0M217.9 386.8h0M181.7 387.4h0M190.0 396.0h0M194.1 393.1h0M200.7 371.5h0M157.1 398.3h0M139.4 378.6h0M127.0 376.8h0M172.4 369.5h0M222.4 385.3h0M160.7 384.6h0M166.1 301.2h0M168.4 323.8h0M192.1 374.7h0M166.0 353.9h0M181.1 337.6h0M190.9 326.8h0M169.8 375.9h0M144.2 382.8h0M172.5 349.7h0M205.7 391.2h0M213.4 357.6h0M135.9 399.1h0"/>
<path class="o" d="M131.5 374.3h0M159.6 382.3h0M131.6 391.3h0M158.1 377.1h0M137.2 354.0h0M150.5 386.3h0M147.0 360.5h0M148.1 365.4h0M147.0 374.9h0M174.7 356.4h0M167.1 375.0h0M142.9 379.1h0M139.6 369.8h0M167.9 358.9h0M176.6 378.4h0M152.6 364.1h0M136.5 374.6h0M194.4 382.0h0M143.4 366.4h0M151.4 372.2h0M127.6 394.8h0M173.5 374.1h0M166.1 380.0h0M161.8 350.2h0M193.2 366.8h0M152.2 342.7h0M141.3 344.2h0M172.5 340.0h0M152.7 393.1h0M170.2 363.3h0M169.3 335.8h0M141.5 397.4h0M141.5 388.5h0M211.7 383.0h0M180.7 376.0h0M153.2 331.0h0M165.6 346.0h0M155.4 385.2h0M134.3 379.7h0M178.0 383.0h0M158.1 370.5h0M153.0 325.6h0M207.1 366.2h0M179.2 391.6h0M169.3 399.2h0M176.1 347.3h0M149.5 349.0h0M128.0 371.2h0M168.7 389.7h0M180.1 369.5h0M140.5 360.3h0M156.9 310.7h0M138.0 384.8h0M157.7 361.4h0M162.9 392.2h0M147.6 392.0h0M149.4 353.6h0M147.8 380.4h0M164.1 368.1h0M164.6 325.8h0M138.1 335.9h0M164.0 362.1h0M161.3 315.7h0M171.1 384.6h0M162.2 386.7h0M157.9 329.8h0M206.3 377.0h0M170.6 345.6h0M162.2 399.6h0M172.6 351.9h0M196.5 377.4h0M164.6 300.0h0M159.5 324.5h0M152.9 299.8h0M146.4 339.4h0M160.4 306.7h0M196.3 361.4h0M150.3 397.1h0M130.5 362.1h0M181.2 364.1h0M141.2 328.0h0M188.1 345.5h0M169.6 326.2h0M170.8 378.4h0M152.5 308.4h0M159.8 366.1h0M204.3 359.7h0M207.0 387.4h0M148.2 332.9h0M176.3 363.9h0M118.5 355.2h0M135.9 360.4h0M156.0 315.9h0M201.0 371.4h0M156.3 399.3h0M125.0 360.3h0M186.3 355.2h0M136.7 389.4h0M222.4 386.9h0M168.7 368.2h0M143.5 349.9h0M195.5 346.1h0M166.4 339.4h0M173.3 391.5h0M132.3 396.2h0M144.8 385.0h0M191.7 338.5h0M186.5 369.4h0M183.0 359.3h0"/>
<path class="g" d="M174.1 375.1h0M172.9 307.9h0M133.3 392.3h0M125.2 348.9h0M132.7 346.2h0M176.8 321.5h0M165.7 354.1h0M284.8 368.3h0M241.2 373.6h0M149.9 306.7h0M190.9 383.5h0M156.4 323.8h0M166.7 348.0h0M149.6 354.1h0M188.8 352.0h0M133.7 364.1h0M135.9 308.9h0M155.7 307.5h0M250.7 378.9h0M159.4 370.9h0M139.9 332.1h0M117.4 352.0h0M113.8 297.3h0M131.2 330.0h0M171.5 319.7h0M139.7 395.4h0M198.5 345.9h0M141.7 343.0h0M178.0 359.1h0M162.6 324.7h0M169.8 313.5h0M247.5 356.6h0M130.5 351.0h0M171.7 298.2h0M248.6 387.5h0M142.7 360.9h0M135.0 334.5h0M245.4 382.6h0M136.3 297.3h0M178.6 349.7h0M265.7 373.6h0M153.1 345.7h0M150.0 376.3h0M162.8 338.4h0M163.6 398.2h0M163.3 309.5h0M114.8 282.6h0M169.9 358.3h0M141.5 313.1h0M176.1 370.6h0M152.8 301.2h0M173.0 343.7h0M251.8 366.2h0M142.6 375.1h0M174.1 363.5h0M196.4 378.9h0M159.5 328.7h0M268.9 319.3h0M232.6 337.4h0M244.4 334.2h0M126.0 327.7h0M143.5 348.1h0M144.7 282.2h0M159.5 289.0h0M173.7 354.6h0M176.6 332.3h0M148.9 365.1h0M264.6 343.8h0M294.4 380.0h0M258.2 381.1h0M137.3 348.1h0M170.3 335.3h0M198.5 358.7h0M211.3 367.2h0M274.2 353.4h0M274.2 365.1h0M280.6 331.0h0M169.2 330.0h0M140.5 305.7h0M264.6 363.0h0M110.6 366.7h0M159.7 344.5h0M152.6 295.4h0M143.6 293.7h0M311.5 367.2h0M132.2 381.1h0M175.2 394.0h0M116.3 288.9h0M165.9 316.2h0M150.2 324.3h0M146.8 271.1h0M167.8 387.7h0M256.1 368.3h0M161.5 349.9h0M272.1 384.3h0M251.8 333.1h0"/>
<path class="o" d="M136.4 354.0h0M155.8 381.7h0M151.3 364.7h0M141.7 370.9h0M174.2 358.5h0M133.9 392.4h0M135.4 374.7h0M148.3 386.8h0M167.7 362.3h0M155.0 386.5h0M166.5 375.8h0M159.4 373.3h0M143.6 362.6h0M197.4 380.3h0M170.2 355.5h0M170.9 372.6h0M147.9 360.4h0M154.0 340.3h0M164.9 381.2h0M147.0 376.5h0M151.6 391.1h0M157.4 349.0h0M177.2 381.5h0M153.1 397.3h0M149.2 342.6h0M143.4 344.4h0M167.8 334.5h0M147.7 369.2h0M164.4 357.3h0M178.3 356.2h0M150.0 381.9h0M140.8 340.3h0M141.2 379.4h0M156.8 361.8h0M157.1 330.1h0M161.9 361.9h0M139.0 385.2h0M137.7 358.8h0M175.4 350.3h0M155.4 369.7h0M140.0 394.8h0M162.6 391.5h0M183.7 370.9h0M178.6 394.1h0M162.9 396.3h0M183.2 378.4h0M149.4 331.0h0M167.9 388.7h0M208.0 362.5h0M145.2 395.7h0M145.8 353.9h0M194.3 368.3h0M156.4 391.1h0M172.0 391.1h0M178.6 365.4h0M163.4 322.9h0M162.9 346.7h0M161.5 317.1h0M212.3 386.5h0M127.9 394.4h0M151.2 356.1h0M174.2 376.6h0M130.8 364.5h0M148.6 298.7h0M171.4 398.8h0M133.7 380.3h0M170.1 345.7h0M160.0 305.1h0M176.7 342.7h0M155.2 376.4h0M157.6 324.3h0M133.2 387.7h0M139.0 366.7h0M164.6 351.4h0M165.9 328.2h0M162.4 300.2h0M158.2 398.6h0M172.8 386.0h0M154.7 311.9h0M169.7 381.1h0M164.6 368.9h0M151.7 304.7h0M224.0 386.0h0M143.1 330.7h0M141.7 399.9h0M176.5 370.9h0"/>
<path class="o" d="M160.3 381.0h0M150.1 365.9h0M174.7 357.8h0M147.0 388.6h0M143.9 367.7h0M135.4 372.5h0M152.9 386.5h0M163.9 360.0h0M133.3 391.9h0M168.1 377.7h0M166.6 372.8h0M152.1 360.7h0M167.5 382.9h0M155.0 391.9h0M169.8 357.0h0M135.0 378.0h0M147.4 357.8h0M179.5 378.6h0M166.2 338.2h0M144.1 342.1h0M194.4 383.3h0M146.3 380.2h0M168.6 361.8h0M150.3 393.6h0M159.3 369.5h0M142.6 373.9h0M156.1 374.3h0M180.4 384.2h0M138.7 353.3h0M157.5 363.8h0M134.8 357.6h0M143.1 393.9h0M164.1 388.0h0M149.4 346.8h0M146.1 351.2h0M176.2 346.7h0M150.2 373.8h0M162.9 399.7h0M142.4 362.5h0M138.3 386.4h0M174.7 374.7h0M176.3 393.4h0M183.8 373.2h0M163.8 323.4h0M170.6 394.8h0M153.4 400.5h0M161.0 308.4h0M192.5 367.3h0M173.4 380.6h0M163.6 376.9h0M165.2 366.1h0M158.8 320.5h0M161.1 347.1h0M153.2 349.5h0M153.3 316.1h0M157.0 396.3h0M170.4 370.1h0M165.1 329.9h0M157.4 387.8h0M138.8 366.8h0M133.8 363.7h0M169.1 389.7h0M178.1 364.2h0M161.5 351.8h0M140.8 400.3h0M146.4 329.6h0"/>
<path class="g" d="M130.0 343.6h0M130.4 349.6h0M169.9 305.7h0M176.2 320.5h0M154.0 307.2h0M133.1 305.7h0M137.3 365.8h0M171.5 301.3h0M124.8 346.1h0M175.8 368.4h0M163.5 313.4h0M133.5 353.2h0M142.0 342.2h0M133.8 334.0h0M173.2 294.8h0M144.2 394.8h0M162.4 340.4h0M174.2 375.1h0M146.8 364.6h0M136.3 347.8h0M158.1 327.8h0M165.6 394.9h0M157.6 373.1h0M170.3 362.0h0M149.7 375.9h0M112.1 282.2h0M154.6 298.9h0M173.6 345.0h0M117.0 282.6h0M253.9 365.7h0M130.3 330.5h0M148.0 327.2h0M152.6 356.0h0M139.9 361.2h0M170.5 350.2h0M160.5 291.0h0M168.9 313.9h0M140.1 351.3h0M175.8 335.7h0M157.3 320.5h0M159.7 332.6h0M167.8 329.9h0"/>
<path class="o" d="M138.1 375.4h0M152.1 366.7h0M169.1 380.2h0M157.0 383.8h0M135.5 389.6h0M151.7 361.3h0M151.5 387.1h0M141.3 366.4h0M131.6 393.6h0M156.3 390.8h0M144.7 360.4h0M173.5 357.6h0M147.5 367.7h0M165.9 359.1h0M177.4 381.4h0M139.7 370.7h0M156.0 371.4h0M146.6 374.0h0M158.3 376.0h0M147.0 380.7h0M167.0 372.1h0M138.1 380.3h0M144.7 389.5h0M170.3 361.3h0M139.8 343.7h0M148.4 354.5h0M167.7 365.1h0M135.2 384.6h0M160.2 362.2h0M174.7 391.9h0M164.9 378.1h0M143.7 396.0h0M133.8 354.7h0M133.6 376.9h0M163.1 392.4h0M174.5 346.6h0M168.3 397.8h0M150.0 393.3h0M175.1 371.7h0M138.9 358.3h0M162.0 305.3h0M182.8 372.4h0M145.4 350.6h0M177.0 376.7h0M167.6 325.5h0M165.0 337.2h0M135.0 371.4h0M164.5 352.6h0M136.2 394.6h0M168.7 393.1h0M132.6 366.2h0"/>
<path class="o" d="M147.6 365.7h0M169.9 378.0h0M131.3 393.0h0M152.8 391.7h0M152.3 368.9h0M147.1 386.4h0M176.8 355.4h0M136.0 392.6h0M142.4 369.9h0M156.3 381.3h0M146.6 377.5h0M170.6 360.8h0M156.6 389.0h0M147.5 357.9h0M138.8 379.5h0M154.6 360.9h0M164.9 375.9h0M168.8 372.2h0M141.2 344.0h0M158.7 369.1h0M176.5 384.4h0M167.0 383.9h0M145.7 351.3h0M153.0 385.4h0M147.6 391.7h0M136.4 383.7h0M162.3 380.8h0M166.9 364.6h0M166.2 393.7h0M160.9 359.6h0M177.5 343.5h0M144.1 395.6h0M141.4 360.9h0M164.4 399.2h0M138.0 373.1h0M161.4 306.1h0M142.4 391.2h0M174.5 375.2h0M169.8 397.2h0M138.2 398.2h0M132.1 373.1h0"/>
<path class="o" d="M148.3 366.1h0M167.5 378.3h0M133.5 390.9h0M148.8 386.3h0M159.9 380.6h0M153.0 382.2h0M154.5 388.7h0M151.1 360.9h0M137.0 378.2h0M145.1 360.3h0M152.8 368.1h0M144.1 373.1h0M147.3 353.5h0M143.9 386.2h0M143.6 343.1h0M156.0 360.3h0M150.3 374.8h0M165.1 372.0h0M158.4 371.3h0M143.8 393.5h0M156.3 365.1h0M167.9 364.5h0M168.6 383.5h0M147.4 379.9h0M176.0 342.6h0M164.9 358.2h0M174.7 360.4h0M177.6 384.7h0M170.0 369.6h0M144.4 398.1h0M177.8 375.1h0M163.6 396.9h0M150.6 391.8h0M162.9 304.5h0M137.0 369.6h0"/>
<path class="g" d="M175.5 319.4h0M170.3 305.4h0M151.2 304.6h0M170.7 295.3h0M133.2 333.2h0M127.4 349.5h0M167.7 315.2h0M135.2 367.9h0M140.0 343.5h0M140.6 364.0h0M155.7 326.5h0M155.2 296.3h0M176.1 370.2h0M167.9 350.8h0M135.5 362.4h0"/>
<path class="o" d="M147.5 382.0h0M144.0 366.6h0M147.7 359.9h0M154.8 366.2h0M149.2 353.2h0M165.1 377.2h0M141.0 370.9h0M159.7 381.8h0M142.3 341.5h0M149.9 375.2h0M136.0 381.7h0M145.1 388.3h0M154.8 386.1h0M135.9 391.9h0M154.5 359.5h0M168.2 361.6h0M149.2 390.7h0M164.6 364.9h0M172.5 381.7h0M142.7 360.4h0M141.3 383.0h0"/>
<path class="o" d="M148.1 384.6h0M143.1 370.4h0M148.8 360.2h0M148.4 354.6h0M163.7 377.7h0M150.1 380.4h0M153.2 386.6h0M145.6 374.9h0M152.6 391.9h0M167.6 380.9h0M151.6 364.7h0M136.4 382.0h0M147.1 350.2h0M170.1 360.6h0M156.2 370.3h0M134.2 395.2h0"/>
<path class="g" d="M171.8 306.2h0M172.5 321.7h0M164.7 312.1h0M168.9 317.3h0"/>
<path class="o" d="M146.8 360.0h0M146.4 385.4h0M149.3 351.5h0M145.8 377.0h0M168.2 381.6h0M144.0 367.1h0M137.5 380.3h0M152.0 363.4h0"/>
<path class="o" d="M148.5 358.8h0M146.1 382.6h0M146.6 387.9h0M148.1 364.3h0"/>
<path class="g" d="M172.0 307.8h0M165.8 316.3h0"/>
<path class="o" d="M147.4 384.2h0M145.8 357.3h0M146.8 363.0h0"/>
<path class="o" d="M149.0 356.5h0M148.9 388.4h0M147.7 366.0h0M145.3 385.3h0"/>
<path class="o" d="M148.5 359.8h0M149.1 385.9h0"/>
<path class="g" d="M169.2 311.3h0"/>
<path class="o" d="M146.7 357.5h0"/>
<line x1="61.0" y1="335.2" x2="322.6" y2="346.0" class="rl"/>
<line x1="61.0" y1="285.2" x2="322.6" y2="341.9" class="rd"/>
</g>
<rect x="48.2" y="249.7" width="287.1" height="156.10000000000002" fill="none" stroke="#5c5c5c" stroke-width="1.0"/>
<path d="M48.2 249.2V405.8H335.8" fill="none" stroke="#111" stroke-width="1.2"/>
<line x1="45.2" y1="400.80" x2="48.2" y2="400.80" stroke="#111" stroke-width="1.1"/>
<text x="43.2" y="403.50" class="tk" text-anchor="end">0</text>
<line x1="45.2" y1="364.02" x2="48.2" y2="364.02" stroke="#111" stroke-width="1.1"/>
<text x="43.2" y="366.72" class="tk" text-anchor="end">25</text>
<line x1="45.2" y1="327.25" x2="48.2" y2="327.25" stroke="#111" stroke-width="1.1"/>
<text x="43.2" y="329.95" class="tk" text-anchor="end">50</text>
<line x1="45.2" y1="290.48" x2="48.2" y2="290.48" stroke="#111" stroke-width="1.1"/>
<text x="43.2" y="293.18" class="tk" text-anchor="end">75</text>
<line x1="45.2" y1="253.70" x2="48.2" y2="253.70" stroke="#111" stroke-width="1.1"/>
<text x="43.2" y="256.40" class="tk" text-anchor="end">100</text>
<line x1="62.00" y1="405.8" x2="62.00" y2="408.8" stroke="#111" stroke-width="1.1"/>
<text x="62.00" y="416.90" class="tk" text-anchor="middle">2</text>
<line x1="133.20" y1="405.8" x2="133.20" y2="408.8" stroke="#111" stroke-width="1.1"/>
<text x="133.20" y="416.90" class="tk" text-anchor="middle">4</text>
<line x1="204.40" y1="405.8" x2="204.40" y2="408.8" stroke="#111" stroke-width="1.1"/>
<text x="204.40" y="416.90" class="tk" text-anchor="middle">6</text>
<line x1="275.60" y1="405.8" x2="275.60" y2="408.8" stroke="#111" stroke-width="1.1"/>
<text x="275.60" y="416.90" class="tk" text-anchor="middle">8</text>
<text x="47.900000000000006" y="240.89999999999998" class="ti">Annual temperature range (1985-2020)</text>
<text x="0.6" y="232.1" class="lt">C</text>
<text x="191.8" y="430.2" class="xt" text-anchor="middle">Annual temperature range(°C)</text>
<text transform="translate(21.2,327.8) rotate(-90)" class="yt" text-anchor="middle">Species ha<tspan font-size="7.5" dy="-4.5">−1</tspan></text>
<clipPath id="cD"><rect x="394.6" y="249.7" width="287.4" height="156.10000000000002"/></clipPath>
<g clip-path="url(#cD)">
<path class="o" d="M526.9 350.1h0M495.2 366.2h0M650.8 374.1h0M542.8 356.0h0M591.4 306.1h0M628.6 368.3h0M578.4 370.0h0M543.4 396.7h0M611.4 346.9h0M612.6 373.8h0M529.3 398.8h0M533.9 333.1h0M524.0 300.1h0M513.4 334.2h0M531.0 366.0h0M553.6 353.0h0M579.4 388.1h0M514.7 323.1h0M523.3 318.5h0M609.4 377.6h0M590.4 383.4h0M534.9 396.1h0M523.5 342.5h0M561.9 356.5h0M561.6 343.2h0M573.5 346.0h0M600.6 383.0h0M606.9 358.1h0M583.0 375.7h0M569.3 373.3h0M582.5 330.7h0M535.7 388.1h0M554.3 358.6h0M559.7 365.2h0M659.6 379.4h0M615.1 360.0h0M542.8 341.4h0M553.5 331.9h0M577.8 394.1h0M581.1 342.9h0M548.9 385.4h0M491.6 336.3h0M571.1 364.4h0M590.0 392.1h0M496.7 383.2h0M526.3 366.9h0M582.4 394.3h0M594.5 356.7h0M534.8 339.2h0M566.9 314.4h0M551.4 370.7h0M489.9 384.1h0M570.6 381.1h0M531.5 256.5h0M531.4 380.7h0M513.2 352.2h0M528.3 341.9h0M520.1 362.8h0M540.8 361.9h0M551.9 338.5h0M559.0 397.1h0M522.5 332.6h0M615.5 368.8h0M585.1 383.8h0M564.7 319.8h0M562.1 373.6h0M533.9 347.3h0M549.7 397.7h0M584.0 325.3h0M517.5 379.8h0M555.1 348.0h0M599.5 395.0h0M577.8 357.5h0M611.6 341.7h0M505.8 356.1h0M532.3 354.7h0M563.8 391.0h0M514.5 341.1h0M538.6 378.1h0M522.6 384.7h0M569.4 328.2h0M597.0 387.2h0M593.2 333.2h0M517.6 326.8h0M557.1 392.9h0M524.6 397.5h0M544.2 383.8h0M557.1 373.8h0M595.3 346.6h0M510.2 393.5h0M576.4 312.9h0M572.0 334.7h0M620.4 375.2h0M565.3 362.4h0M519.5 388.7h0M580.2 380.0h0M669.1 382.8h0M512.3 373.7h0M515.3 393.0h0M536.2 383.4h0M595.6 377.9h0M580.7 259.2h0M578.6 338.7h0M544.2 349.0h0M541.5 371.8h0M569.0 393.4h0M491.9 350.4h0M647.8 369.4h0M613.9 386.0h0M526.8 362.1h0M576.4 283.1h0M584.5 351.4h0M545.9 378.4h0M606.3 343.6h0M506.6 333.2h0M562.7 382.0h0M515.3 400.4h0M477.2 373.5h0M590.6 348.7h0M517.8 375.1h0M589.2 360.7h0M533.4 319.6h0M565.7 398.4h0M573.2 398.6h0M526.4 323.2h0M549.8 325.4h0M554.2 396.7h0M594.4 369.8h0M582.8 282.0h0M526.4 329.0h0M594.3 397.8h0M546.6 318.1h0M621.3 370.4h0M530.1 335.9h0M640.4 389.6h0M486.0 350.8h0M594.4 341.2h0M541.5 315.1h0M630.4 360.7h0M598.0 336.5h0M493.9 375.5h0M514.7 386.3h0M506.9 364.6h0M527.4 356.7h0M589.2 370.6h0M528.7 386.1h0M502.2 397.1h0M606.4 398.5h0M500.4 391.2h0M545.8 360.5h0M639.3 378.9h0M559.7 385.8h0M554.7 381.4h0M536.0 326.1h0M565.3 346.5h0M555.5 316.0h0M583.9 339.2h0M578.3 319.1h0M538.2 356.5h0M538.3 368.4h0M559.8 320.4h0M655.3 369.4h0M497.4 353.0h0M547.3 330.1h0M556.2 287.3h0M591.4 310.8h0M622.3 387.5h0M504.5 382.0h0M583.5 356.4h0M525.2 375.9h0M566.0 386.2h0M587.1 300.1h0M513.1 366.3h0M630.0 380.0h0M516.3 306.2h0M598.9 363.5h0M582.3 363.6h0M517.9 356.5h0M510.5 343.9h0M634.7 378.1h0M600.5 341.9h0M593.5 322.5h0M480.3 359.8h0M587.2 344.9h0M528.9 393.6h0M610.8 355.3h0M530.4 307.6h0M564.7 267.7h0M572.9 351.3h0M574.8 383.1h0M548.5 366.9h0M574.7 330.2h0M560.5 325.7h0M529.0 371.7h0M624.1 351.0h0M533.6 287.3h0M566.5 357.4h0M485.8 398.8h0M520.3 322.6h0M500.6 322.5h0M525.9 313.1h0M483.1 366.2h0M635.3 368.7h0M604.4 390.5h0M608.1 371.1h0M490.9 343.5h0M542.7 326.1h0M573.7 277.8h0M540.3 389.4h0M601.2 377.8h0M599.3 353.6h0M503.7 329.5h0M549.8 292.7h0M540.0 345.9h0M515.2 361.4h0M615.5 379.8h0M640.5 372.1h0M552.1 344.2h0M501.0 341.5h0M560.4 282.0h0M587.4 336.0h0M546.0 337.6h0M558.3 311.8h0M548.9 349.6h0M480.7 381.1h0M612.6 396.0h0M509.9 360.5h0M591.4 318.2h0M518.4 338.6h0M622.3 365.1h0M520.7 371.3h0M545.9 390.2h0M535.7 283.1h0M486.8 390.6h0M622.7 358.8h0M589.3 396.8h0M586.0 389.5h0M547.7 307.6h0M558.8 332.3h0M610.6 363.6h0M600.0 358.3h0M604.8 385.6h0M522.9 289.5h0M602.7 346.6h0M543.2 366.6h0M616.6 351.6h0M492.0 331.0h0M502.7 372.7h0M534.7 300.1h0M467.5 371.5h0M603.6 351.3h0M507.4 400.6h0M523.7 390.8h0M513.1 378.4h0M491.2 396.0h0M565.8 306.5h0M511.7 329.7h0M500.9 366.2h0M507.6 370.2h0M511.2 309.7h0M505.3 344.1h0M624.2 378.6h0M563.9 333.0h0M550.5 392.5h0M627.4 375.2h0M518.7 347.2h0M660.7 370.8h0M573.5 368.4h0M613.1 390.7h0M618.0 392.4h0M516.9 318.4h0M632.9 355.5h0M494.4 358.2h0M487.4 304.8h0M618.0 287.8h0M626.5 391.7h0M574.1 374.0h0M509.1 381.8h0M530.3 315.4h0M646.8 392.8h0M494.2 295.9h0M540.4 337.4h0M485.6 374.7h0M579.0 349.1h0M565.1 370.1h0M580.0 399.6h0M616.4 342.8h0M638.2 398.1h0M538.2 321.6h0M584.7 400.7h0M501.2 333.9h0M637.7 384.8h0M646.8 385.3h0M631.6 388.9h0M588.3 355.8h0M564.7 289.0h0M527.2 294.8h0M558.8 351.6h0M598.8 316.1h0M502.2 352.9h0M569.0 298.0h0M558.5 378.5h0M615.9 334.2h0M498.4 299.1h0M532.6 375.4h0M561.3 336.9h0M598.2 372.6h0M596.7 310.8h0M557.1 339.7h0M622.4 398.3h0M586.5 366.1h0M574.8 389.3h0M481.5 343.2h0M571.8 323.4h0M519.3 396.2h0M578.6 305.5h0M555.8 369.2h0M534.1 360.8h0M566.0 377.6h0"/>
<path class="g" d="M542.2 343.0h0M481.0 376.8h0M510.0 390.3h0M489.7 371.1h0M546.1 336.2h0M543.0 282.0h0M523.0 354.4h0M520.0 336.2h0M534.7 377.2h0M526.1 327.8h0M606.7 395.8h0M614.8 389.7h0M585.3 394.8h0M592.0 392.8h0M484.8 393.9h0M518.5 395.5h0M508.6 379.1h0M496.3 375.8h0M527.8 387.6h0M554.0 397.4h0M567.2 342.8h0M599.9 391.9h0M540.8 288.0h0M611.4 374.3h0M523.3 363.8h0M534.3 345.0h0M484.6 343.8h0M498.2 392.3h0M494.9 342.9h0M489.9 323.6h0M581.8 329.9h0M480.2 364.9h0M559.1 389.5h0M551.9 303.3h0M498.7 355.9h0M520.8 272.4h0M537.8 370.0h0M485.6 376.8h0M564.2 350.6h0M490.5 359.6h0M634.0 342.1h0M571.2 356.7h0M527.5 377.5h0M573.0 380.7h0M533.1 397.1h0M496.1 370.9h0M533.0 361.2h0M492.0 263.5h0M495.1 347.9h0M511.9 286.3h0M609.5 353.4h0M494.7 388.9h0M509.1 325.7h0M493.5 398.4h0M469.7 338.5h0M549.4 352.4h0M489.5 317.2h0M462.8 331.0h0M500.6 382.1h0M517.2 368.9h0M500.6 329.9h0M597.6 375.6h0M511.9 264.3h0M462.8 304.0h0M494.2 315.0h0M586.2 389.0h0M562.6 318.2h0M564.7 303.3h0M566.1 389.2h0M540.6 359.7h0M499.2 399.7h0M517.2 389.8h0M516.5 382.8h0M514.5 325.1h0M526.8 394.7h0M549.8 308.6h0M587.2 368.2h0M485.2 282.0h0M485.2 361.9h0M611.6 321.4h0M531.3 327.7h0M520.8 306.5h0M527.2 304.4h0M612.3 400.2h0M539.3 391.5h0M538.8 384.0h0M436.6 321.0h0M510.1 366.6h0M539.0 399.4h0M539.4 354.6h0M471.8 364.0h0M526.6 357.2h0M486.7 383.7h0M526.0 347.8h0M504.8 300.1h0M489.5 350.2h0M512.8 346.3h0M489.9 391.8h0M560.5 397.0h0M478.6 326.8h0M605.1 380.6h0M476.1 334.2h0M491.9 379.7h0M471.8 304.0h0M600.6 357.0h0M494.4 336.1h0M619.7 390.0h0M541.4 348.5h0M588.7 360.2h0M556.2 311.8h0M548.4 390.9h0M484.1 371.0h0M596.2 369.1h0M550.9 382.1h0M537.8 335.4h0M579.9 355.6h0M490.9 364.3h0M460.7 376.8h0M465.4 390.7h0M568.5 316.1h0M530.5 370.2h0M456.2 396.6h0M523.2 332.3h0M576.4 281.0h0M513.9 375.7h0M518.1 349.7h0M560.6 382.7h0M562.6 299.1h0M524.3 338.5h0M569.0 351.3h0M588.2 342.7h0M510.8 333.3h0M512.0 384.3h0M511.9 278.8h0M555.3 348.7h0M477.9 341.0h0M521.8 390.4h0M487.8 308.6h0M575.3 387.7h0M613.9 379.5h0M549.6 372.1h0M575.2 400.3h0M572.2 291.6h0M510.2 298.0h0M600.3 349.2h0M469.7 323.6h0M507.0 398.1h0M507.0 370.3h0M502.7 314.0h0M506.9 336.8h0M498.4 321.4h0M567.3 286.3h0M573.2 347.0h0M502.3 369.8h0M515.8 362.0h0M604.6 367.6h0M517.8 342.9h0M553.6 336.0h0M480.7 387.9h0M505.6 363.2h0M489.9 281.4h0M508.4 351.7h0M544.6 376.9h0M476.1 372.6h0M507.0 305.5h0M473.9 289.5h0M575.3 373.9h0M478.6 317.2h0M498.9 337.8h0M562.3 355.4h0M454.3 312.9h0M548.6 343.9h0M452.0 318.9h0M507.0 271.4h0M483.1 293.7h0M534.7 310.8h0M592.4 334.2h0M563.9 375.0h0M612.7 369.4h0M518.7 289.5h0M534.7 319.3h0M600.9 383.5h0M577.5 340.6h0M581.4 351.1h0M585.0 299.1h0M522.9 284.1h0M521.9 320.4h0M484.8 351.8h0M541.5 338.1h0M581.9 369.8h0M539.0 378.8h0M440.9 384.3h0M600.9 337.4h0M407.9 344.2h0M543.4 306.5h0M534.7 387.1h0M518.7 296.9h0M554.1 270.9h0M527.2 287.3h0M514.4 309.7h0M563.6 291.6h0M534.3 392.4h0M473.7 357.5h0M511.9 339.2h0M556.2 292.7h0M505.6 344.2h0M522.8 375.2h0M478.2 355.4h0M585.0 320.4h0M582.8 310.8h0M619.0 379.2h0M487.8 296.9h0M551.9 279.9h0M480.7 347.0h0M507.4 315.0h0M598.8 320.4h0M539.1 300.1h0M593.2 397.6h0M503.8 394.0h0M483.1 319.3h0M545.5 312.9h0M544.1 371.3h0M436.6 343.8h0M473.9 312.9h0"/>
<path class="o" d="M578.5 373.8h0M526.6 345.0h0M515.5 337.1h0M601.6 380.0h0M615.9 355.5h0M539.4 353.2h0M525.4 365.0h0M550.5 383.6h0M560.3 341.0h0M547.4 341.8h0M531.3 333.5h0M532.0 340.1h0M597.6 355.4h0M552.8 357.9h0M579.2 391.8h0M544.0 360.6h0M552.6 368.6h0M549.3 336.7h0M583.2 395.4h0M560.9 372.6h0M542.7 400.3h0M518.9 341.7h0M523.8 316.2h0M628.9 370.7h0M604.4 384.2h0M601.9 391.1h0M565.9 325.8h0M619.1 359.8h0M562.8 322.4h0M581.6 357.5h0M576.1 396.4h0M555.3 392.4h0M562.8 345.9h0M575.0 367.4h0M487.5 381.8h0M531.9 385.5h0M521.7 380.0h0M554.3 351.5h0M513.2 325.0h0M526.2 397.0h0M590.6 389.0h0M506.8 357.2h0M513.9 355.5h0M617.2 369.0h0M577.6 338.3h0M563.0 363.7h0M606.3 375.7h0M561.6 388.6h0M531.3 396.4h0M547.9 370.5h0M533.5 380.5h0M517.9 321.7h0M538.5 394.8h0M517.7 373.3h0M564.1 400.4h0M546.8 376.4h0M538.9 382.4h0M543.1 367.6h0M592.2 362.1h0M532.3 369.1h0M520.0 327.1h0M538.1 362.6h0M557.5 358.5h0M547.4 396.5h0M559.9 380.7h0M488.8 352.3h0M520.7 364.4h0M556.3 329.3h0M568.6 376.6h0M594.1 381.5h0M531.1 355.4h0M527.2 321.7h0M545.1 383.5h0M582.0 340.7h0M569.7 333.7h0M579.0 384.2h0M557.1 397.1h0M534.2 345.5h0M595.2 400.0h0M519.6 384.4h0M580.4 346.7h0M524.8 332.3h0M595.9 391.5h0M567.3 381.2h0M522.9 351.6h0M562.5 394.8h0M643.6 368.3h0M510.6 351.2h0M557.3 369.6h0M512.6 372.7h0M557.6 324.3h0M534.4 392.3h0M590.0 352.2h0M542.2 340.0h0M597.4 370.4h0M550.7 325.1h0M503.4 331.2h0M579.8 378.3h0M573.1 382.9h0M554.8 315.3h0M532.4 324.0h0M524.7 356.7h0M585.2 387.1h0M519.3 389.5h0M590.3 384.4h0M527.2 327.9h0M492.7 374.4h0M520.0 335.3h0M583.1 373.5h0M586.3 359.1h0M556.0 375.9h0M566.1 391.6h0M578.7 329.2h0M654.7 366.8h0M592.5 330.9h0M489.1 388.4h0M572.0 342.2h0M588.1 373.2h0M529.2 391.7h0M611.8 379.1h0M525.8 382.8h0M572.6 390.7h0M658.6 374.9h0M569.9 348.7h0M623.5 375.9h0M598.0 348.6h0M516.0 393.1h0M545.2 355.5h0M557.0 364.5h0M587.2 342.3h0M528.7 311.2h0M558.0 385.5h0M570.0 395.4h0M537.4 339.1h0M544.5 326.3h0M574.8 356.6h0M564.1 356.3h0M530.0 362.2h0M623.9 387.9h0M610.0 359.6h0M585.4 366.1h0M608.5 347.9h0M512.3 361.2h0M545.7 320.3h0M594.5 310.8h0M498.0 356.6h0M527.0 376.0h0M568.2 361.1h0M634.0 367.2h0M540.6 375.2h0M601.8 360.7h0M500.8 338.7h0M492.0 383.2h0M542.6 379.4h0M509.2 337.0h0M614.5 385.0h0M586.7 337.5h0M590.3 395.8h0M598.7 342.8h0M556.8 334.6h0M544.1 335.2h0M569.7 370.5h0M550.4 348.7h0M539.4 387.8h0M609.5 342.7h0M611.1 374.4h0M615.0 364.5h0M647.8 376.8h0M550.4 331.8h0M580.7 334.0h0M508.0 372.3h0M586.9 378.1h0M504.9 377.9h0M598.5 385.2h0M543.0 347.1h0M481.8 378.5h0M595.7 376.5h0M610.5 369.3h0M508.8 397.2h0M512.0 388.4h0M505.7 365.7h0M555.0 345.0h0M504.8 341.0h0M566.8 305.5h0M477.9 375.9h0M497.8 368.0h0M549.1 389.7h0M580.2 352.0h0M513.9 380.7h0M510.9 346.5h0M569.2 355.3h0M562.6 312.9h0M580.5 368.7h0M496.7 349.8h0M559.6 354.2h0M551.4 399.0h0M664.9 370.9h0M592.5 368.3h0M531.6 374.5h0M607.3 391.4h0M538.9 358.0h0M580.7 323.6h0M612.9 393.6h0M545.5 306.5h0M507.8 386.2h0M585.0 299.7h0M516.5 348.1h0M637.2 372.6h0M539.0 324.9h0M500.6 325.7h0M626.3 361.6h0M503.0 353.2h0M570.9 327.3h0M530.6 349.3h0M575.4 322.4h0M519.8 369.2h0M491.4 347.4h0M566.8 291.6h0M599.9 337.7h0M574.3 310.8h0M586.3 326.5h0M567.8 385.9h0M529.4 317.6h0M578.3 362.5h0M562.9 333.6h0M650.0 372.6h0M539.1 334.7h0M625.9 367.0h0M533.9 316.5h0M632.9 381.1h0M594.3 338.8h0M567.8 318.9h0M535.5 399.6h0M539.4 319.3h0M616.7 379.7h0M580.6 399.9h0M537.0 283.1h0M502.7 321.4h0M521.1 399.1h0M492.3 334.4h0M498.4 394.9h0M575.4 316.0h0M521.9 346.5h0M500.3 372.6h0"/>
<path class="o" d="M527.4 344.7h0M533.9 337.0h0M583.3 397.5h0M564.0 375.3h0M575.3 371.6h0M533.4 381.9h0M558.5 346.6h0M506.3 360.2h0M535.3 387.3h0M519.1 380.2h0M589.0 389.5h0M573.5 363.2h0M592.5 361.1h0M514.3 373.2h0M559.8 364.1h0M531.8 332.8h0M603.9 385.6h0M548.6 386.0h0M533.9 397.1h0M548.6 375.4h0M596.1 379.0h0M576.6 389.6h0M620.0 370.1h0M514.0 356.5h0M554.3 396.7h0M534.8 355.1h0M549.0 370.5h0M541.4 362.4h0M578.2 395.8h0M584.5 392.8h0M571.6 376.8h0M536.6 349.2h0M565.7 396.3h0M522.2 315.5h0M632.5 369.1h0M578.3 342.6h0M560.3 390.8h0M552.7 350.3h0M559.8 397.8h0M489.0 352.7h0M567.8 331.9h0M545.6 381.3h0M516.0 323.8h0M593.4 398.1h0M549.4 323.2h0M558.7 383.7h0M536.5 341.6h0M550.7 338.9h0M559.0 374.6h0M560.1 322.3h0M533.8 369.6h0M547.2 394.7h0M557.8 333.0h0M576.0 380.9h0M617.1 357.8h0M608.3 381.9h0M615.4 367.3h0M594.1 353.1h0M528.4 364.4h0M536.6 324.9h0M625.2 371.7h0M582.2 376.2h0M569.7 324.2h0M542.4 386.0h0M542.3 397.3h0M528.7 393.1h0M558.1 369.6h0M529.0 357.8h0M553.3 385.2h0M656.4 372.6h0M595.0 383.6h0M523.7 383.1h0M593.6 368.6h0M526.2 335.6h0M565.1 342.4h0M542.9 341.4h0M562.4 359.9h0M526.9 321.3h0M487.9 383.4h0M594.9 389.2h0M568.3 390.4h0M527.0 349.6h0M590.7 344.5h0M507.7 355.7h0M579.1 355.3h0M540.6 368.8h0M524.6 356.1h0M512.4 335.7h0M599.6 344.8h0M521.0 338.8h0M546.8 357.6h0M568.0 356.6h0M553.2 391.7h0M600.9 392.8h0M581.3 382.8h0M586.9 385.3h0M525.3 375.2h0M548.9 353.2h0M538.4 380.3h0M523.3 397.1h0M547.8 346.2h0M578.9 331.7h0M577.3 326.4h0M532.3 327.0h0M556.6 359.5h0M505.4 333.5h0M519.2 328.8h0M590.7 333.6h0M517.4 366.4h0M514.1 390.0h0M568.0 373.0h0M534.8 364.0h0M525.6 329.0h0M574.6 352.3h0M591.1 374.7h0M612.2 353.5h0M604.5 374.6h0M615.4 386.6h0M607.0 359.6h0M572.7 397.3h0M557.6 327.7h0M583.6 330.8h0M588.5 369.6h0M579.7 360.2h0M606.9 367.3h0M584.7 356.5h0M583.4 340.6h0M523.2 391.5h0M572.4 338.7h0M572.5 386.3h0M505.2 374.4h0M581.7 347.3h0M621.8 391.0h0M541.6 356.4h0M587.9 360.9h0M611.3 364.3h0M511.0 380.3h0M512.8 342.4h0M554.4 344.2h0M501.2 340.2h0M565.2 320.9h0M515.5 396.4h0M599.1 353.4h0M518.8 361.2h0M532.4 345.2h0M491.0 392.1h0M529.8 385.4h0M540.9 347.4h0M504.9 381.7h0M498.2 357.9h0M568.6 364.6h0M651.3 375.2h0M565.9 327.5h0M506.6 340.8h0M552.2 327.1h0M559.9 314.0h0M503.4 369.6h0M611.1 372.8h0M584.7 324.8h0M528.3 378.8h0M610.6 393.3h0M540.8 327.1h0M574.0 334.1h0M548.2 331.1h0M535.1 376.0h0M512.1 385.0h0M563.5 369.4h0M599.0 387.3h0M588.4 338.1h0M554.7 379.7h0M663.3 370.2h0M540.7 334.0h0M500.2 364.3h0M496.7 372.5h0M519.1 372.9h0M530.5 373.2h0M489.2 372.9h0M625.7 362.9h0M528.0 369.2h0M577.9 400.6h0M510.4 400.1h0M481.9 381.1h0M598.0 360.9h0M500.1 351.0h0M561.2 379.3h0M602.0 337.4h0M589.1 379.2h0M567.5 349.5h0M559.4 352.7h0M509.1 348.1h0M616.3 380.5h0M515.4 351.0h0M505.6 397.7h0"/>
<path class="g" d="M487.4 340.6h0M530.7 378.5h0M499.1 372.7h0M507.1 383.1h0M518.5 337.3h0M551.0 397.5h0M499.4 355.5h0M518.0 274.6h0M493.9 393.3h0M501.1 382.6h0M511.6 392.0h0M546.8 340.5h0M487.1 369.4h0M496.3 349.1h0M514.6 383.7h0M518.0 398.0h0M526.4 354.7h0M511.2 324.6h0M492.4 369.6h0M539.3 390.8h0M540.2 342.3h0M525.0 390.3h0M485.2 364.2h0M530.2 364.5h0M560.6 390.7h0M517.3 368.9h0M522.9 269.2h0M521.7 346.5h0M536.7 361.7h0M532.2 349.1h0M585.0 329.9h0M599.3 372.4h0M585.7 389.4h0M479.5 362.3h0M563.6 385.5h0M482.1 324.0h0M534.6 372.1h0M536.9 395.6h0M522.1 340.6h0M503.8 399.0h0M484.7 358.2h0M491.7 374.6h0M605.4 397.7h0M511.0 372.9h0M600.9 355.5h0M570.3 340.0h0M546.0 345.4h0M490.1 345.9h0M508.7 364.7h0M572.2 295.9h0M534.3 336.5h0M481.1 345.7h0M476.5 336.3h0M483.1 386.4h0M487.8 387.5h0M515.5 375.5h0M614.9 386.4h0M494.2 342.7h0M543.6 333.6h0M532.0 341.1h0M529.3 323.6h0M533.7 325.3h0M535.7 356.1h0M580.6 354.2h0M519.3 385.7h0M495.3 364.5h0M516.5 326.4h0M483.3 379.5h0M566.6 348.0h0M539.3 348.0h0M542.0 368.6h0M523.5 396.8h0M495.0 377.9h0M512.3 296.9h0M516.5 392.3h0M551.4 379.5h0M573.4 383.7h0M586.8 368.6h0M476.6 365.9h0M516.6 362.0h0M610.5 369.6h0M536.8 288.4h0M503.1 306.5h0M602.7 386.9h0M613.7 400.4h0M508.4 377.9h0M492.0 312.9h0M524.3 376.6h0M565.9 371.8h0M620.9 393.2h0M596.1 349.1h0M514.0 344.4h0M618.3 383.2h0M608.6 381.4h0M489.9 300.1h0M479.3 356.8h0M489.8 381.9h0M506.5 338.2h0M527.6 346.2h0M525.4 335.4h0"/>
<path class="o" d="M562.7 346.9h0M536.3 383.6h0M590.9 359.9h0M589.3 393.2h0M589.4 387.8h0M574.1 368.9h0M528.5 347.6h0M522.3 381.6h0M549.6 382.1h0M619.7 372.5h0M530.6 399.6h0M578.4 372.4h0M577.0 396.3h0M530.5 330.8h0M551.6 372.2h0M554.1 347.5h0M566.4 396.8h0M513.6 369.8h0M563.2 374.9h0M515.4 321.5h0M562.5 383.4h0M581.6 393.7h0M541.4 363.3h0M557.2 374.8h0M514.5 356.7h0M545.4 398.9h0M531.7 353.8h0M535.6 390.2h0M566.2 327.9h0M545.3 375.4h0M550.6 397.9h0M537.0 358.6h0M557.6 366.3h0M579.6 379.3h0M573.0 382.2h0M618.0 367.2h0M510.7 354.1h0M539.0 353.3h0M515.6 383.2h0M571.6 374.6h0M563.1 393.1h0M524.4 365.9h0M507.5 359.1h0M632.4 368.1h0M525.2 343.3h0M546.4 339.1h0M549.7 393.3h0M544.3 381.3h0M575.5 340.7h0M530.9 362.6h0M545.5 368.8h0M560.7 397.2h0M550.8 336.6h0M592.5 355.1h0M515.9 333.0h0M594.5 383.8h0M614.5 359.1h0M561.8 322.2h0M551.4 355.7h0M532.9 379.5h0M535.3 337.8h0M603.6 394.7h0M593.3 396.9h0M624.4 374.7h0M537.2 345.9h0M585.3 383.2h0M525.4 386.2h0M518.3 341.3h0M594.2 370.1h0M527.4 395.6h0M579.6 387.7h0M535.2 320.8h0M523.8 351.9h0M574.8 360.6h0M601.4 387.5h0M553.0 387.2h0M529.0 337.8h0M516.0 390.3h0M611.6 366.1h0M613.1 353.4h0M518.2 368.8h0M603.1 358.0h0M535.5 370.5h0M584.4 376.1h0M515.8 376.0h0M577.5 327.7h0M545.6 357.0h0M526.3 313.6h0M586.9 368.9h0M612.7 382.1h0M572.6 334.1h0M590.4 331.7h0M554.5 382.6h0M603.4 381.3h0M551.4 327.2h0M521.0 393.1h0M523.6 330.1h0M581.4 360.7h0M601.3 349.0h0M607.2 375.2h0M514.2 365.2h0M577.6 345.2h0M583.2 352.5h0M527.1 325.5h0M621.6 357.5h0M548.2 321.3h0M553.6 342.6h0M519.8 315.0h0M526.3 334.1h0M543.4 389.9h0M555.0 362.1h0M563.4 365.1h0M618.5 385.2h0M489.9 383.5h0M513.0 339.2h0M585.6 340.6h0M556.0 398.4h0M598.9 377.1h0M503.2 357.3h0M555.4 333.4h0M508.8 377.0h0M537.2 377.4h0M533.9 327.7h0M608.1 381.1h0M594.0 350.6h0M521.0 357.4h0M584.2 388.4h0M576.5 391.6h0M509.1 343.0h0M597.4 355.0h0M556.1 356.8h0M544.1 327.7h0M532.5 342.9h0M612.5 397.1h0M598.8 394.5h0M545.9 334.0h0M594.2 390.9h0M535.3 365.8h0M582.2 330.7h0M597.3 366.1h0M530.7 385.0h0M520.2 325.5h0M521.5 373.3h0M568.6 369.4h0M548.2 388.2h0M556.6 323.3h0M508.5 335.1h0M496.6 360.6h0M530.9 368.5h0M566.8 358.3h0M547.5 347.4h0M521.1 362.1h0M528.9 374.3h0M629.3 372.0h0M585.6 358.7h0M543.8 352.4h0M508.5 382.0h0M560.8 330.5h0M526.2 358.0h0M556.8 391.1h0M568.1 391.8h0M499.0 365.9h0M520.7 335.2h0M525.6 378.2h0M570.2 363.2h0M543.0 343.7h0M614.5 391.5h0M626.5 358.7h0"/>
<path class="g" d="M535.0 379.6h0M491.6 393.1h0M497.8 375.9h0M516.7 397.9h0M530.3 362.3h0M535.3 347.7h0M529.6 345.4h0M523.4 390.5h0M523.9 345.7h0M507.8 386.3h0M484.5 364.6h0M515.9 338.0h0M479.9 366.3h0M490.5 368.2h0M550.2 395.7h0M514.4 366.2h0M522.4 336.1h0M611.3 388.5h0M498.4 382.1h0M561.7 387.3h0M476.3 336.4h0M491.0 340.6h0M531.3 368.9h0M536.1 373.5h0M521.5 396.8h0M488.6 347.9h0M540.5 343.7h0M498.4 392.8h0M539.6 390.7h0M502.7 385.5h0M518.0 359.5h0M488.2 375.7h0M535.7 395.2h0M517.2 387.8h0M548.4 376.1h0M522.4 356.2h0M485.2 342.7h0M538.7 287.3h0M512.0 389.3h0M505.9 378.0h0"/>
<path class="o" d="M588.9 389.1h0M535.1 385.0h0M572.8 370.8h0M549.1 385.1h0M544.3 362.2h0M550.3 369.9h0M551.6 395.6h0M531.8 399.8h0M546.3 381.2h0M545.5 372.1h0M592.4 358.2h0M539.6 363.6h0M592.3 392.5h0M527.3 365.2h0M524.5 383.7h0M562.6 347.6h0M584.5 393.2h0M514.8 373.8h0M558.3 363.5h0M534.9 390.2h0M541.6 379.7h0M560.2 395.7h0M567.5 394.9h0M590.5 363.2h0M533.2 352.5h0M573.2 382.7h0M559.5 377.2h0M548.1 352.9h0M526.0 346.2h0M621.5 369.7h0M513.8 333.6h0M531.8 381.5h0M576.9 393.0h0M530.1 333.2h0M569.5 326.9h0M555.7 349.5h0M510.6 359.3h0M521.7 341.0h0M563.9 388.7h0M549.5 376.3h0M578.0 374.1h0M577.8 369.2h0M545.1 397.8h0M603.6 390.6h0M548.9 342.7h0M559.6 325.8h0M522.1 378.3h0M538.7 340.9h0M558.7 382.1h0M525.4 355.3h0M550.5 358.5h0M524.9 394.0h0M517.2 384.2h0M530.6 347.1h0M556.2 387.1h0M589.1 383.1h0M597.8 383.9h0M512.6 391.8h0M614.7 363.4h0M572.3 338.3h0M533.0 357.8h0M576.5 360.5h0M611.3 384.6h0M593.3 400.8h0M555.4 370.8h0M585.3 375.4h0M532.3 370.1h0M566.3 374.4h0M580.7 383.3h0M542.7 385.1h0M522.1 389.5h0M580.7 389.2h0M550.0 347.9h0M584.6 380.6h0M618.1 358.8h0M578.4 329.5h0M526.0 398.9h0M514.8 343.6h0M594.4 373.6h0M551.9 335.4h0M524.0 315.1h0M605.8 359.8h0M524.1 328.4h0M614.2 354.0h0M523.9 334.3h0M631.2 365.5h0M522.6 363.4h0M587.1 358.0h0M553.3 324.6h0M598.3 389.1h0M511.6 353.7h0M503.7 354.6h0M528.0 387.2h0M529.3 321.7h0M597.0 378.2h0M626.3 376.0h0M555.2 399.1h0M548.5 330.2h0M611.5 370.3h0M533.4 336.8h0M609.5 374.5h0M590.7 332.2h0M566.7 364.6h0M509.3 373.7h0M544.1 357.3h0M591.5 352.0h0M509.4 343.9h0M587.7 370.4h0M517.4 336.5h0M602.7 378.3h0M553.3 330.3h0M541.7 351.6h0M541.3 325.3h0M541.3 333.9h0M513.4 381.2h0M614.8 394.8h0M518.3 394.3h0M565.0 357.3h0M535.8 344.5h0M599.5 347.0h0M565.2 322.7h0M530.3 393.5h0M546.4 325.8h0M496.2 359.0h0M588.6 340.6h0M528.2 360.6h0M524.5 322.7h0M581.0 353.9h0M507.4 379.2h0M616.3 369.7h0"/>
<path class="o" d="M590.7 389.5h0M532.4 383.7h0M575.4 372.4h0M541.6 362.5h0M546.3 381.7h0M570.8 373.2h0M591.7 356.4h0M531.8 400.8h0M553.0 384.9h0M549.7 393.1h0M574.1 367.6h0M541.5 377.9h0M585.8 391.3h0M534.1 394.3h0M527.5 345.5h0M576.2 396.0h0M548.1 370.9h0M564.4 394.8h0M557.0 397.6h0M581.5 396.6h0M561.8 364.4h0M537.4 389.8h0M507.9 362.1h0M555.3 348.9h0M533.4 333.4h0M522.1 384.4h0M518.4 373.0h0M552.7 372.6h0M577.9 390.3h0M556.3 376.8h0M582.3 373.2h0M562.0 373.8h0M530.8 337.5h0M514.4 389.4h0M589.6 384.9h0M527.0 362.8h0M525.5 355.4h0M615.1 360.3h0M555.3 368.8h0M562.1 389.9h0M534.1 356.3h0M620.2 366.9h0M544.2 394.1h0M578.1 383.0h0M549.7 326.0h0M537.9 343.9h0M551.4 354.1h0M586.1 353.6h0M598.0 380.0h0M530.5 325.1h0M522.1 395.2h0M584.2 380.6h0M521.2 360.1h0M573.7 334.4h0M564.0 326.6h0M601.3 392.3h0M595.9 358.7h0M554.1 362.9h0M516.5 335.8h0M596.3 384.8h0M551.0 333.7h0M561.4 383.0h0M611.2 370.4h0M560.9 348.8h0M570.1 385.5h0M528.7 387.4h0M635.3 365.8h0M521.9 329.9h0M544.7 387.8h0M579.5 358.7h0M546.1 375.8h0M532.9 368.4h0M547.0 346.3h0M596.6 350.0h0M603.3 357.0h0M528.8 350.3h0M546.8 341.1h0M558.8 322.7h0M535.4 338.7h0M611.6 354.9h0M613.2 384.3h0M514.8 382.9h0M505.2 374.7h0M512.8 343.1h0M591.3 400.1h0M551.9 399.4h0M519.0 379.9h0M517.0 393.5h0M544.5 355.7h0M588.7 369.1h0"/>
<path class="g" d="M520.7 396.9h0M523.5 349.8h0M534.5 377.5h0M504.2 385.0h0M499.6 379.1h0M534.5 345.6h0M494.2 367.2h0M526.9 363.7h0M512.0 369.7h0M515.9 335.3h0M515.9 394.9h0M485.8 362.8h0M492.5 340.7h0M525.5 387.1h0M520.9 338.9h0"/>
<path class="o" d="M590.5 387.3h0M546.3 378.4h0M594.4 355.3h0M540.9 378.6h0M532.2 381.0h0M553.0 384.8h0M590.1 392.6h0M524.2 344.2h0M539.1 388.8h0M556.9 397.0h0M569.6 372.2h0M575.8 369.3h0M560.8 392.6h0M556.3 351.3h0M554.0 370.1h0M514.1 373.4h0M579.0 387.9h0M533.8 386.5h0M583.9 373.9h0M584.8 396.5h0M535.9 353.1h0M530.4 334.2h0M534.0 357.8h0M545.9 371.4h0M566.9 394.3h0M542.5 363.3h0M529.0 362.1h0M513.1 388.4h0M528.9 353.7h0M519.6 384.4h0M519.5 391.7h0M532.2 396.9h0M548.3 396.3h0M556.6 380.5h0M567.6 327.4h0M556.0 365.2h0M531.9 341.0h0M523.2 394.6h0M574.2 391.7h0M598.9 388.2h0M523.8 380.2h0M507.8 357.9h0M550.7 329.5h0M531.5 329.6h0M548.0 337.0h0M518.9 374.7h0M553.7 357.0h0M577.2 375.3h0M533.5 391.3h0M596.3 383.4h0M617.6 367.6h0M525.8 357.1h0M537.4 361.5h0M535.5 370.6h0M532.6 323.4h0M521.3 329.0h0M563.8 349.6h0M548.1 351.1h0M515.0 340.7h0"/>
<path class="o" d="M591.6 390.7h0M593.9 354.3h0M546.9 380.9h0M588.2 387.3h0M549.8 384.7h0M541.5 381.9h0M557.1 383.3h0M580.6 390.0h0M525.8 343.6h0M533.7 354.9h0M541.1 388.8h0M553.0 369.9h0M555.7 348.6h0M545.5 368.9h0M574.2 369.3h0M515.4 375.3h0M537.4 357.7h0M539.3 362.4h0M531.3 383.7h0M529.8 337.2h0M586.2 370.7h0M515.4 387.8h0M568.0 375.8h0M574.2 395.8h0M508.2 360.0h0M544.6 362.7h0M526.7 349.8h0M522.6 387.2h0M563.7 395.2h0M592.9 384.2h0M579.5 374.6h0M545.0 394.4h0M536.6 391.3h0M530.7 395.3h0M567.1 371.1h0M531.1 362.2h0M518.1 393.1h0M519.3 379.7h0M531.9 370.1h0M550.1 337.8h0"/>
<path class="g" d="M521.5 348.6h0M499.6 379.3h0M534.3 378.4h0M493.4 366.5h0"/>
<path class="o" d="M591.2 388.3h0M591.5 353.8h0M544.0 378.5h0M555.0 383.3h0M575.0 371.4h0M550.4 384.6h0M537.0 390.2h0M541.8 362.0h0M550.6 368.0h0M555.1 347.6h0M533.6 352.2h0M527.9 352.6h0M583.7 372.3h0M512.1 389.8h0M532.2 357.9h0M518.5 378.4h0"/>
<path class="g" d="M534.2 377.5h0"/>
<path class="o" d="M588.2 388.6h0M544.1 380.5h0M551.6 385.8h0M577.5 369.1h0M570.6 370.8h0M549.5 380.2h0M544.1 362.5h0M534.3 386.5h0"/>
<path class="o" d="M590.0 386.6h0M544.4 381.1h0"/>
<path class="g" d="M533.1 380.0h0"/>
<path class="o" d="M588.6 388.3h0"/>
<line x1="407.9" y1="334.2" x2="668.1" y2="385.4" class="rl"/>
<line x1="407.9" y1="261.8" x2="668.1" y2="372.3" class="rd"/>
</g>
<rect x="394.6" y="249.7" width="287.4" height="156.10000000000002" fill="none" stroke="#5c5c5c" stroke-width="1.0"/>
<path d="M394.6 249.2V405.8H682.5" fill="none" stroke="#111" stroke-width="1.2"/>
<line x1="391.6" y1="400.80" x2="394.6" y2="400.80" stroke="#111" stroke-width="1.1"/>
<text x="389.6" y="403.50" class="tk" text-anchor="end">0</text>
<line x1="391.6" y1="364.02" x2="394.6" y2="364.02" stroke="#111" stroke-width="1.1"/>
<text x="389.6" y="366.72" class="tk" text-anchor="end">25</text>
<line x1="391.6" y1="327.25" x2="394.6" y2="327.25" stroke="#111" stroke-width="1.1"/>
<text x="389.6" y="329.95" class="tk" text-anchor="end">50</text>
<line x1="391.6" y1="290.48" x2="394.6" y2="290.48" stroke="#111" stroke-width="1.1"/>
<text x="389.6" y="293.18" class="tk" text-anchor="end">75</text>
<line x1="391.6" y1="253.70" x2="394.6" y2="253.70" stroke="#111" stroke-width="1.1"/>
<text x="389.6" y="256.40" class="tk" text-anchor="end">100</text>
<line x1="431.40" y1="405.8" x2="431.40" y2="408.8" stroke="#111" stroke-width="1.1"/>
<text x="431.40" y="416.90" class="tk" text-anchor="middle">1.1</text>
<line x1="497.10" y1="405.8" x2="497.10" y2="408.8" stroke="#111" stroke-width="1.1"/>
<text x="497.10" y="416.90" class="tk" text-anchor="middle">1.2</text>
<line x1="562.80" y1="405.8" x2="562.80" y2="408.8" stroke="#111" stroke-width="1.1"/>
<text x="562.80" y="416.90" class="tk" text-anchor="middle">1.3</text>
<line x1="628.50" y1="405.8" x2="628.50" y2="408.8" stroke="#111" stroke-width="1.1"/>
<text x="628.50" y="416.90" class="tk" text-anchor="middle">1.4</text>
<text x="394.3" y="240.89999999999998" class="ti">Soil Bulk density (0–30cm)</text>
<text x="347.5" y="232.1" class="lt">D</text>
<text x="538.3" y="430.2" class="xt" text-anchor="middle">Bulk density (g/cm³)</text>
<text transform="translate(367.6,327.8) rotate(-90)" class="yt" text-anchor="middle">Species ha<tspan font-size="7.5" dy="-4.5">−1</tspan></text>
<clipPath id="cE"><rect x="48.2" y="471.7" width="287.1" height="156.50000000000006"/></clipPath>
<g clip-path="url(#cE)">
<path class="o" d="M195.3 620.1h0M115.2 591.0h0M99.3 618.3h0M174.7 583.7h0M148.6 576.4h0M103.1 566.3h0M60.5 573.8h0M69.9 577.4h0M138.2 543.5h0M113.6 558.9h0M172.9 616.3h0M143.0 526.8h0M168.7 584.3h0M292.3 611.6h0M130.7 531.6h0M94.9 576.7h0M103.2 551.9h0M148.3 539.2h0M79.5 620.6h0M105.0 573.5h0M93.2 571.0h0M126.2 539.3h0M149.4 611.9h0M89.3 596.2h0M70.3 532.8h0M195.3 589.2h0M125.7 571.2h0M60.2 546.9h0M156.6 614.1h0M148.6 571.1h0M62.4 512.1h0M80.0 590.6h0M126.5 529.2h0M107.0 547.0h0M142.2 583.7h0M71.9 614.6h0M72.8 589.1h0M80.3 561.2h0M62.3 595.2h0M65.2 615.8h0M138.2 614.6h0M83.5 545.0h0M159.1 621.3h0M62.2 538.5h0M168.1 594.6h0M174.1 558.2h0M156.4 580.7h0M123.6 544.2h0M71.1 584.5h0M85.5 573.1h0M73.2 572.3h0M118.3 540.3h0M85.1 553.2h0M132.8 549.0h0M137.5 522.7h0M191.7 609.5h0M125.9 590.9h0M125.7 584.4h0M103.0 602.7h0M69.9 525.1h0M101.1 560.8h0M138.7 536.0h0M69.3 545.5h0M79.2 609.9h0M75.9 539.9h0M73.0 520.0h0M135.1 610.1h0M138.4 552.4h0M136.3 600.1h0M112.7 612.0h0M93.3 585.2h0M232.6 618.0h0M118.7 553.6h0M126.5 616.6h0M138.2 569.9h0M266.7 578.6h0M70.4 557.0h0M190.4 560.1h0M120.3 528.9h0M90.6 602.2h0M198.2 595.2h0M112.9 531.7h0M102.9 587.1h0M89.4 566.6h0M65.2 606.2h0M70.0 563.6h0M111.6 599.0h0M132.5 539.1h0M292.3 596.7h0M88.5 538.0h0M183.3 596.9h0M62.5 554.8h0M125.0 553.0h0M77.2 550.2h0M87.2 585.1h0M182.5 620.5h0M227.3 594.6h0M131.0 579.3h0M90.8 619.7h0M77.2 615.0h0M89.6 552.3h0M120.5 568.8h0M112.9 548.2h0M140.9 559.5h0M63.1 569.4h0M252.9 572.8h0M161.5 589.8h0M60.2 607.7h0M153.7 601.7h0M312.6 581.1h0M113.1 580.7h0M61.5 579.2h0M251.2 606.3h0M63.2 585.1h0M160.2 597.0h0M113.9 523.8h0M174.4 576.3h0M102.6 542.2h0M92.9 541.0h0M89.6 606.8h0M190.2 585.5h0M82.8 481.7h0M144.3 563.0h0M125.2 611.6h0M130.6 558.5h0M221.5 604.1h0M98.3 572.2h0M111.6 573.2h0M292.3 619.1h0M138.3 590.2h0M79.9 599.2h0M191.4 598.9h0M136.0 563.9h0M81.0 523.6h0M126.8 561.3h0M151.1 558.4h0M89.5 545.1h0M173.5 609.8h0M69.8 593.4h0M90.6 559.9h0M79.7 566.9h0M77.9 544.6h0M286.3 562.6h0M90.4 478.5h0M143.9 588.6h0M69.3 569.0h0M83.6 557.6h0M89.8 580.5h0M126.2 602.3h0M69.9 551.3h0M115.7 602.6h0M85.8 610.0h0M190.2 593.7h0M148.3 528.2h0M138.0 576.1h0M110.8 540.1h0M139.9 605.1h0M138.3 595.4h0M292.3 591.8h0M139.6 499.9h0M66.2 541.4h0M127.7 566.7h0M121.4 600.3h0M125.9 577.4h0M89.4 613.5h0M130.2 622.4h0M112.9 564.6h0M149.4 593.9h0M108.3 621.5h0M79.1 578.3h0M103.2 580.7h0M173.4 567.3h0M144.6 551.0h0M79.3 584.5h0M174.5 591.4h0M96.2 596.3h0M81.9 511.1h0M232.6 605.2h0M144.2 621.7h0M251.2 590.7h0M94.3 545.8h0M108.5 521.3h0M105.0 556.3h0M143.8 542.1h0M183.2 571.8h0M70.0 602.4h0M108.0 611.6h0M109.5 513.8h0M61.4 559.4h0M119.9 564.0h0M69.6 609.6h0M95.2 609.4h0M65.0 549.5h0M61.6 601.5h0M74.9 597.5h0M98.1 604.4h0M89.8 514.7h0M221.5 580.7h0M149.2 549.9h0M125.6 596.5h0M89.9 521.9h0M103.1 614.8h0M94.7 529.5h0M72.6 622.9h0M169.0 540.5h0M232.6 566.9h0M119.8 622.9h0M84.0 538.9h0M101.9 592.7h0M149.4 621.0h0M100.6 511.1h0M188.0 575.9h0M112.7 553.5h0M159.9 563.4h0M215.6 611.0h0M138.1 581.4h0M119.6 583.3h0M75.9 602.9h0M103.4 608.9h0M198.8 574.2h0M169.0 518.2h0M102.2 537.0h0M162.3 567.7h0M232.6 580.7h0M130.9 544.1h0M64.0 620.6h0M130.6 592.8h0M130.0 599.6h0M317.9 594.6h0M200.0 583.9h0M89.7 533.0h0M149.5 565.0h0M191.7 604.1h0M191.7 571.1h0M203.9 565.8h0M164.3 606.7h0M103.2 520.0h0M66.6 574.1h0M67.0 519.4h0M149.2 585.3h0M79.5 572.2h0M191.7 511.5h0M73.8 529.8h0M78.7 504.0h0M61.4 526.5h0M130.0 608.0h0M118.9 547.6h0M221.5 566.9h0M108.1 602.8h0M144.9 596.6h0M167.8 504.9h0M200.0 599.9h0M78.9 535.7h0M133.4 489.7h0M134.3 527.1h0M86.4 622.2h0M197.4 604.0h0M183.0 605.7h0M107.9 586.6h0M77.5 555.7h0M93.0 592.7h0M121.2 589.9h0M86.6 527.4h0M160.1 609.6h0M103.3 622.5h0M221.5 572.2h0M221.5 594.6h0M114.5 569.4h0M177.7 606.8h0M125.5 534.2h0M182.2 585.3h0M232.6 586.0h0M107.0 596.3h0M146.6 556.7h0M221.5 556.2h0M141.7 611.0h0M94.5 521.5h0M195.3 581.8h0M101.5 530.2h0M122.4 559.0h0M121.3 614.1h0M114.1 620.2h0M61.2 612.9h0M188.0 618.1h0M131.1 614.9h0M97.1 566.2h0M169.8 571.2h0M134.0 573.7h0M113.6 586.7h0M149.5 606.1h0M300.8 588.8h0M168.1 532.5h0M232.6 591.4h0M196.8 610.5h0M252.9 563.7h0M89.9 575.9h0M79.8 529.7h0M177.6 618.7h0M186.1 581.9h0M85.1 519.7h0M142.8 574.8h0M113.8 536.3h0M232.6 596.7h0M257.8 556.2h0M151.2 545.0h0"/>
<path class="g" d="M74.2 552.6h0M140.4 564.2h0M177.3 612.9h0M74.1 595.5h0M190.4 532.5h0M100.8 573.1h0M125.9 568.8h0M112.6 581.9h0M232.6 592.9h0M94.4 584.8h0M192.3 614.5h0M65.3 549.6h0M138.7 616.7h0M138.9 595.0h0M126.0 552.0h0M74.4 513.8h0M79.1 613.6h0M69.2 580.4h0M117.5 497.7h0M61.2 545.1h0M164.8 589.0h0M115.4 610.7h0M149.4 595.1h0M103.1 561.4h0M138.9 622.2h0M69.8 561.8h0M120.6 598.8h0M60.8 515.2h0M60.8 532.5h0M89.5 550.8h0M149.6 602.0h0M112.7 557.9h0M90.4 524.1h0M71.1 590.7h0M120.1 548.8h0M200.0 580.1h0M90.7 542.2h0M136.0 577.7h0M90.4 511.6h0M244.4 541.3h0M322.6 606.5h0M102.2 608.3h0M131.5 550.1h0M103.1 618.1h0M60.7 523.9h0M126.0 597.6h0M90.7 607.9h0M159.8 565.5h0M126.4 546.6h0M82.9 575.2h0M124.5 574.9h0M149.4 576.0h0M200.0 597.8h0M93.4 491.5h0M61.6 600.0h0M102.4 546.6h0M126.8 519.1h0M155.2 615.9h0M78.5 599.0h0M69.9 540.9h0M103.4 580.2h0M126.8 511.1h0M181.5 540.9h0M126.8 486.7h0M147.9 608.7h0M78.9 593.0h0M65.4 593.3h0M83.8 619.2h0M61.8 614.4h0M68.3 566.9h0M79.9 549.5h0M125.2 605.6h0M244.4 553.7h0M202.9 620.2h0M78.7 532.2h0M126.7 589.3h0M59.8 568.8h0M138.5 584.0h0M130.2 539.2h0M81.9 495.6h0M118.9 541.3h0M98.7 568.4h0M60.1 538.8h0M102.7 538.4h0M60.4 609.6h0M119.4 613.7h0M186.7 605.4h0M148.5 559.6h0M63.2 576.1h0M162.9 572.0h0M170.8 529.8h0M153.6 586.0h0M113.0 546.3h0M190.8 582.1h0M126.8 500.4h0M103.2 528.9h0M90.5 536.3h0M61.6 620.0h0M76.1 610.0h0M121.5 581.5h0M62.5 555.3h0M97.4 618.4h0M118.9 606.6h0M119.6 525.3h0M125.4 618.2h0M60.0 593.8h0M114.2 620.5h0M113.9 598.2h0M125.5 540.2h0M232.6 607.3h0M169.1 562.4h0M79.7 566.8h0M67.2 493.3h0M133.1 616.7h0M93.5 571.1h0M322.6 566.2h0M110.4 529.8h0M149.5 566.5h0M143.3 580.9h0M138.5 546.7h0M135.7 571.7h0M167.8 508.4h0M117.9 558.1h0M107.7 537.3h0M118.0 593.6h0M147.9 547.5h0M87.1 545.8h0M151.6 552.9h0M97.8 546.8h0M70.4 618.2h0M86.9 587.1h0M65.8 606.0h0M62.1 563.9h0M138.8 541.1h0M166.7 601.6h0M104.8 600.2h0M133.2 545.4h0M134.7 531.3h0M184.8 594.3h0M118.4 566.7h0M144.5 567.8h0M110.4 519.1h0M105.0 587.1h0M148.5 518.2h0M90.8 575.9h0M90.6 557.0h0M86.6 593.2h0M145.0 508.4h0M159.7 613.1h0M80.1 513.8h0M109.2 562.7h0M70.1 555.0h0M292.3 585.0h0M173.9 616.6h0M137.4 556.4h0M138.7 535.2h0M108.1 554.7h0M191.2 574.3h0M98.2 580.4h0M75.2 564.6h0M255.0 566.4h0M71.1 548.4h0M131.6 557.7h0M221.5 595.6h0M126.6 524.2h0M117.6 553.5h0M159.5 575.4h0M158.9 521.8h0M221.5 605.6h0M181.5 502.2h0M139.9 599.6h0M227.3 607.3h0M113.8 604.1h0M148.2 571.1h0M79.4 604.6h0M113.9 485.8h0M92.8 601.5h0M85.0 557.6h0M103.2 509.3h0M102.4 504.0h0M133.6 598.8h0M148.6 618.5h0M159.4 598.4h0M85.6 536.7h0M191.1 591.5h0M89.3 564.2h0M65.8 522.7h0M148.6 541.2h0M77.8 619.1h0M182.2 616.5h0M143.2 592.5h0M70.0 611.7h0M113.4 566.5h0M61.0 581.3h0M166.0 537.8h0M119.7 532.7h0M97.2 553.0h0M124.3 610.4h0M69.5 585.8h0M85.1 604.0h0M193.7 568.0h0M85.1 570.8h0M124.2 561.0h0M167.8 521.8h0M69.3 598.6h0M79.8 571.8h0M87.1 599.1h0M101.5 516.4h0M174.3 595.2h0M81.2 583.7h0M196.0 575.4h0M140.0 552.0h0M102.8 591.7h0M86.0 611.5h0M70.8 508.4h0M100.1 604.0h0M170.0 591.9h0M70.1 532.8h0M143.9 525.5h0M191.7 561.5h0M158.7 593.4h0M177.8 620.2h0M70.6 571.8h0"/>
<path class="o" d="M61.1 573.5h0M138.2 542.0h0M196.6 590.3h0M73.1 614.7h0M69.8 573.2h0M72.1 530.7h0M101.9 553.2h0M147.3 567.4h0M89.3 596.1h0M70.2 535.8h0M125.2 572.1h0M152.9 611.7h0M125.2 541.9h0M125.8 584.2h0M60.1 547.2h0M103.1 572.4h0M139.0 534.4h0M125.2 620.0h0M93.7 566.7h0M144.0 587.2h0M89.6 569.6h0M114.3 533.0h0M138.3 598.3h0M103.4 547.0h0M80.1 540.3h0M72.9 553.5h0M82.5 610.0h0M98.7 561.5h0M70.0 526.4h0M127.1 532.5h0M65.8 509.8h0M121.6 539.1h0M69.9 544.8h0M70.4 584.2h0M112.5 562.9h0M122.9 592.1h0M148.5 574.5h0M102.4 567.5h0M80.4 560.2h0M69.8 560.1h0M132.7 583.3h0M131.8 544.9h0M61.2 584.2h0M84.5 577.4h0M128.2 614.9h0M84.4 555.9h0M79.0 606.5h0M79.7 550.9h0M140.3 615.0h0M61.3 540.6h0M78.8 594.6h0M74.3 564.6h0M90.1 543.9h0M138.3 549.1h0M102.8 539.5h0M149.7 607.4h0M61.7 557.5h0M122.4 613.4h0M113.2 609.6h0M151.6 579.7h0M80.3 588.7h0M112.8 593.2h0M134.9 593.2h0M112.8 572.4h0M89.6 583.2h0M159.2 620.9h0M70.6 590.4h0M152.4 600.1h0M61.7 605.7h0M159.6 614.9h0M84.5 548.2h0M138.2 610.1h0M100.8 616.3h0M70.2 579.6h0M89.8 550.2h0M126.0 598.8h0M158.6 598.4h0M94.4 542.4h0M60.3 594.4h0M96.0 617.4h0M81.1 581.0h0M102.0 588.6h0M120.2 600.4h0M82.2 618.7h0M93.3 611.6h0M65.9 619.9h0M138.1 588.0h0M89.4 577.2h0M113.6 543.0h0M109.8 547.0h0M123.0 604.3h0M99.0 597.8h0M116.3 547.1h0M138.4 560.8h0M190.6 600.8h0M114.5 558.2h0M191.2 563.9h0M149.4 595.2h0M101.9 577.9h0M80.1 508.4h0M182.0 592.6h0M125.8 577.7h0M65.1 588.0h0M75.1 571.2h0M132.3 611.7h0M114.8 580.3h0M69.1 609.4h0M186.0 584.2h0M149.1 615.3h0M148.1 529.4h0M65.8 538.6h0M77.4 620.1h0M63.2 563.6h0M115.3 527.6h0M292.3 598.8h0M91.7 558.7h0M148.7 558.5h0M195.0 609.5h0M145.3 579.1h0M147.8 543.9h0M113.1 551.1h0M74.1 558.1h0M138.3 578.4h0M62.4 616.6h0M135.1 553.7h0M176.9 615.1h0M190.8 578.0h0M195.3 598.8h0M89.7 525.0h0M68.4 568.0h0M67.1 602.2h0M132.0 575.7h0M174.0 593.2h0M145.7 539.5h0M121.2 586.1h0M61.5 535.0h0M125.5 608.6h0M102.5 601.1h0M173.6 576.3h0M143.0 560.2h0M98.3 609.0h0M158.9 566.4h0M74.3 542.4h0M193.2 594.6h0M94.5 603.2h0M136.6 571.3h0M121.3 567.4h0M125.9 525.9h0M197.7 583.0h0M174.5 560.4h0M128.4 558.6h0M102.9 611.8h0M153.9 621.7h0M94.1 537.6h0M112.4 521.8h0M83.9 566.7h0M101.5 522.7h0M112.3 620.7h0M130.2 589.3h0M184.3 601.1h0M113.0 599.9h0M251.2 603.1h0M126.0 554.3h0M84.3 600.1h0M87.6 608.5h0M79.7 575.3h0M195.3 615.9h0M106.2 543.2h0M252.9 577.1h0M174.9 608.0h0M62.7 598.9h0M123.6 550.4h0M78.9 533.3h0M107.2 582.7h0M107.5 575.3h0M102.3 583.0h0M64.9 544.1h0M266.7 580.1h0M64.8 549.9h0M188.8 590.5h0M72.6 595.0h0M112.4 585.1h0M91.3 588.3h0M129.0 604.7h0M138.9 604.5h0M107.5 599.6h0M89.3 617.2h0M75.2 549.1h0M95.5 594.3h0M164.3 598.7h0M109.9 554.9h0M178.5 620.7h0M95.3 573.8h0M119.6 619.5h0M79.7 545.0h0M149.4 535.8h0M117.5 571.5h0M117.5 591.5h0M173.9 582.3h0M143.4 622.7h0M147.5 549.0h0M66.9 556.1h0M126.0 563.8h0M102.8 534.8h0M200.0 576.4h0M95.2 528.9h0M232.6 600.9h0M103.1 606.8h0M66.7 530.7h0M60.8 523.6h0M86.0 586.9h0M186.5 618.5h0M166.4 587.8h0M158.6 592.4h0M200.0 563.7h0M81.9 504.0h0M90.2 622.2h0M97.0 584.3h0M151.9 565.0h0M134.0 601.5h0M90.4 517.7h0M152.6 587.5h0M158.8 605.6h0M110.5 567.2h0M125.8 537.2h0M73.1 520.5h0M142.3 544.3h0M184.5 609.8h0M134.1 531.2h0M147.0 603.6h0M200.0 603.1h0M139.3 566.3h0M119.8 557.9h0M139.7 556.3h0M82.8 524.5h0M102.8 593.2h0M190.4 512.0h0M221.5 592.9h0M135.3 526.7h0M86.8 561.9h0M109.5 509.3h0"/>
<path class="o" d="M101.2 554.6h0M125.3 582.9h0M62.7 549.6h0M148.3 571.3h0M133.6 541.5h0M113.5 535.4h0M126.2 572.7h0M86.2 568.1h0M122.4 590.1h0M71.5 556.4h0M147.1 576.9h0M69.0 533.0h0M116.2 562.1h0M67.6 548.2h0M74.9 550.5h0M68.8 542.2h0M102.3 562.1h0M120.3 537.1h0M102.1 570.8h0M79.8 605.3h0M132.4 613.7h0M125.6 613.6h0M72.4 564.1h0M136.7 552.2h0M139.4 618.2h0M74.0 534.4h0M60.9 570.1h0M67.7 580.6h0M127.0 540.2h0M71.5 570.3h0M79.6 560.0h0M65.0 572.5h0M90.0 539.5h0M104.5 541.6h0M67.8 591.0h0M148.2 564.0h0M112.8 590.2h0M138.4 608.9h0M71.2 522.7h0M152.2 579.2h0M60.8 575.6h0M83.4 574.9h0M104.1 589.7h0M138.9 596.0h0M89.6 578.8h0M82.5 596.7h0M133.1 546.5h0M106.7 546.5h0M82.9 619.4h0M62.1 618.0h0M139.2 536.6h0M157.3 612.4h0M77.3 596.7h0M125.1 601.3h0M70.3 613.4h0M139.1 587.6h0M138.8 545.5h0M87.6 556.9h0M77.3 589.7h0M90.3 563.6h0M79.6 581.9h0M115.8 571.5h0M126.3 606.2h0M106.9 572.7h0M112.9 609.0h0M95.2 620.7h0M112.7 597.4h0M120.2 545.6h0M61.3 585.0h0M94.8 561.0h0M103.5 584.6h0M96.4 595.4h0M145.0 583.8h0M102.5 616.5h0M100.0 576.0h0M90.5 545.5h0M149.5 556.6h0M96.4 543.5h0M197.2 589.2h0M60.6 538.2h0M138.5 560.1h0M95.4 611.4h0M145.1 527.8h0M152.3 605.7h0M110.9 580.5h0M193.2 600.9h0M147.5 617.6h0M77.2 573.0h0M69.5 620.3h0M146.5 595.5h0M117.1 599.6h0M292.3 600.9h0M137.8 531.6h0M190.3 584.1h0M120.6 567.5h0M113.4 544.9h0M79.2 612.8h0M113.5 555.4h0M69.0 560.6h0M126.4 560.5h0M137.8 570.9h0M83.9 549.6h0M65.4 613.6h0M69.9 585.3h0M62.5 558.1h0M90.0 613.8h0M103.4 602.6h0M92.1 555.0h0M193.8 613.5h0M79.8 542.4h0M110.5 559.4h0M102.7 537.2h0M191.7 575.4h0M128.1 589.6h0M91.5 603.8h0M138.2 601.7h0M122.0 553.0h0M79.9 568.8h0M62.5 600.4h0M151.2 600.8h0M62.7 608.5h0M70.5 605.4h0M112.7 527.0h0M138.1 564.9h0M173.9 578.7h0M127.4 622.5h0M138.9 578.1h0M73.0 576.5h0M97.6 602.4h0M126.1 530.0h0M91.6 596.8h0M117.1 550.8h0M85.1 612.2h0M103.4 611.9h0M60.4 596.2h0M70.2 598.7h0M88.2 588.5h0M191.3 593.4h0M79.0 622.1h0M98.7 581.4h0M133.6 596.7h0M90.0 571.4h0M125.2 548.3h0M148.4 536.0h0M173.3 563.8h0M195.3 607.3h0M95.2 588.5h0M87.8 619.0h0M148.7 549.9h0M107.1 599.0h0M79.0 535.4h0M143.1 541.6h0M62.5 529.2h0M160.1 594.4h0M115.9 577.5h0M155.0 620.0h0M112.6 565.9h0M142.7 607.0h0M125.9 567.5h0M124.2 578.3h0M66.6 565.6h0M198.5 574.3h0M107.9 604.0h0M173.5 591.9h0M81.0 553.9h0M118.3 587.5h0M174.5 608.3h0M73.7 616.6h0M85.5 605.7h0M101.9 596.6h0M185.3 593.4h0M149.5 613.2h0M182.8 621.0h0M90.2 583.8h0M174.3 572.4h0M83.5 588.8h0M130.4 576.1h0M117.2 617.7h0M95.6 568.7h0M104.8 578.9h0M161.1 565.2h0M110.4 552.0h0M149.0 543.0h0"/>
<path class="g" d="M96.2 586.6h0M69.9 580.0h0M109.6 584.0h0M126.3 555.0h0M72.6 587.9h0M62.0 552.1h0M138.6 577.9h0M63.1 543.8h0M63.6 521.1h0M112.8 553.3h0M71.2 513.8h0M69.9 545.4h0M136.6 596.8h0M125.1 549.2h0M135.5 619.8h0M78.9 546.3h0M102.7 565.4h0M79.1 551.5h0M61.2 600.9h0M100.0 612.2h0M106.9 560.2h0M113.3 612.5h0M173.7 613.7h0M191.7 532.1h0M79.4 599.0h0M182.9 606.8h0M123.1 567.9h0M145.9 560.8h0M147.1 576.5h0M66.5 564.9h0M165.5 593.4h0M88.4 549.6h0M125.5 575.5h0M74.4 509.3h0M141.3 582.2h0M126.8 508.4h0M113.3 601.5h0M190.7 614.6h0M113.2 579.5h0M113.6 607.7h0M69.4 558.2h0M99.3 569.8h0M148.4 594.3h0M62.1 573.1h0M125.4 520.2h0M121.2 599.3h0M79.7 570.7h0M126.5 600.6h0M103.0 601.8h0M102.1 549.9h0M139.0 587.1h0M95.5 580.7h0M201.1 583.5h0M103.4 542.0h0M138.9 544.7h0M86.7 521.9h0M182.0 591.5h0M149.4 607.3h0M61.0 611.3h0M80.3 608.2h0M65.8 493.8h0M91.9 575.3h0M113.5 544.1h0M158.7 613.8h0M102.0 575.3h0M90.5 539.9h0M70.1 569.1h0M148.8 550.5h0M114.0 596.6h0M155.7 567.1h0M107.1 577.6h0M118.3 580.9h0M112.2 518.2h0M62.5 531.1h0M77.4 533.4h0M69.2 608.7h0M127.4 595.0h0M148.8 544.6h0M90.0 606.5h0M190.4 576.4h0M126.8 526.2h0M63.6 538.8h0M89.1 511.8h0M62.8 561.1h0M117.4 528.6h0M126.8 503.1h0M170.8 527.1h0M145.0 504.9h0M61.9 579.1h0M95.9 545.7h0M137.8 537.8h0M126.0 621.6h0M145.0 538.7h0M129.6 558.9h0M65.9 604.3h0M103.4 616.2h0M142.4 600.1h0M107.2 552.8h0M82.1 579.2h0M103.8 585.3h0M145.0 519.1h0M142.2 594.7h0M118.7 535.6h0M90.8 528.0h0M197.0 595.6h0M161.7 587.9h0M76.0 560.4h0M61.1 589.8h0M138.1 553.5h0M93.1 566.6h0M112.9 561.9h0M81.9 517.7h0M69.4 534.7h0M136.9 571.2h0M102.1 621.5h0M80.3 562.5h0"/>
<path class="o" d="M99.7 552.4h0M125.7 587.0h0M122.8 581.2h0M69.8 530.5h0M126.3 568.7h0M104.3 571.0h0M61.3 548.0h0M128.2 543.3h0M126.6 615.0h0M72.5 551.7h0M141.4 617.6h0M70.4 545.6h0M135.5 538.7h0M148.1 569.9h0M69.2 557.7h0M144.9 563.5h0M87.5 571.3h0M71.8 538.0h0M125.2 610.6h0M78.0 552.5h0M125.3 592.2h0M67.2 583.2h0M137.7 553.4h0M81.9 602.9h0M102.3 559.2h0M137.7 600.5h0M119.4 592.8h0M90.8 542.9h0M99.5 620.4h0M107.7 544.9h0M138.4 544.3h0M79.6 622.4h0M73.0 572.4h0M83.6 618.5h0M112.6 613.0h0M79.9 577.4h0M159.8 615.8h0M90.3 561.6h0M77.8 588.1h0M152.2 577.0h0M102.2 563.9h0M103.8 592.3h0M123.8 539.0h0M114.0 569.0h0M79.4 560.5h0M86.2 596.2h0M197.9 592.7h0M63.2 539.8h0M149.3 556.0h0M80.6 583.9h0M61.2 535.1h0M138.0 587.8h0M88.0 577.0h0M112.6 596.9h0M69.7 562.6h0M103.1 539.6h0M89.9 583.3h0M113.6 590.5h0M96.7 600.0h0M69.3 577.9h0M148.8 615.0h0M142.2 597.4h0M114.2 547.5h0M148.6 592.7h0M114.9 541.1h0M62.8 575.4h0M123.8 603.0h0M76.6 614.6h0M61.1 569.6h0M79.1 593.2h0M79.4 610.6h0M112.5 558.1h0M136.0 610.5h0M93.3 567.1h0M105.1 555.1h0M65.9 617.6h0M118.2 537.7h0M83.5 552.6h0M69.5 614.1h0M101.3 575.4h0M125.9 560.7h0M94.1 607.6h0M102.0 602.6h0M149.7 621.4h0M116.5 600.1h0M128.9 581.5h0M93.0 612.2h0M63.9 588.5h0M81.1 546.3h0M90.1 548.6h0M113.1 605.2h0M112.8 536.7h0M69.8 608.8h0M63.3 555.2h0M75.7 598.0h0M126.5 620.0h0M150.9 597.6h0M61.1 560.9h0M102.9 587.7h0M112.8 528.0h0M112.5 577.4h0M191.7 588.2h0M61.2 593.4h0M102.4 546.4h0M81.7 597.1h0M138.0 534.4h0M100.6 583.5h0M67.8 549.6h0M138.7 574.6h0M92.8 579.7h0M68.9 588.8h0M137.8 569.5h0M150.4 609.6h0M102.1 615.9h0M95.7 595.2h0M191.7 598.8h0M83.8 567.1h0M79.8 571.3h0M63.0 606.6h0M137.7 593.8h0M142.1 581.8h0M120.4 563.0h0M60.0 585.2h0M103.4 609.1h0M126.5 549.4h0M90.4 588.9h0M60.0 598.0h0M75.0 622.6h0M110.4 552.9h0M86.3 612.3h0M151.7 582.7h0M79.9 532.3h0M126.5 529.9h0M124.3 574.1h0M132.9 546.3h0M90.1 619.4h0M148.6 549.8h0M149.4 528.4h0M89.5 606.3h0M84.4 587.2h0M77.0 603.7h0M63.3 621.5h0M190.5 574.6h0M64.9 602.4h0M62.5 613.0h0M70.5 567.9h0M117.0 556.8h0M90.2 555.8h0M158.8 594.9h0"/>
<path class="o" d="M125.6 583.3h0M101.3 553.4h0M126.8 590.6h0M70.2 544.8h0M103.3 573.9h0M70.3 554.4h0M69.2 535.9h0M99.7 570.7h0M90.2 568.2h0M79.1 606.4h0M138.1 543.0h0M98.8 620.8h0M79.3 549.9h0M78.7 561.6h0M138.1 537.6h0M61.9 546.8h0M150.0 568.6h0M138.6 553.9h0M125.6 608.0h0M70.5 573.1h0M70.0 564.3h0M139.2 586.0h0M77.3 581.9h0M61.7 536.7h0M113.2 588.8h0M68.4 583.8h0M102.6 542.9h0M69.2 559.7h0M113.0 540.9h0M103.0 588.1h0M122.5 603.4h0M125.3 541.2h0M149.0 618.6h0M149.8 576.2h0M70.4 577.7h0M138.9 594.4h0M98.8 596.8h0M61.6 617.3h0M88.6 574.5h0M89.9 583.3h0M112.9 554.4h0M115.6 558.8h0M90.5 562.6h0M100.7 558.6h0M73.8 551.1h0M112.8 601.5h0M126.1 536.3h0M113.3 610.2h0M75.8 573.7h0M67.7 618.9h0M90.3 540.9h0M86.7 596.3h0M85.8 620.6h0M79.7 613.2h0M80.1 596.3h0M125.3 616.7h0M126.3 559.4h0M89.8 546.5h0M112.7 548.1h0M149.4 600.3h0M70.0 612.0h0M102.7 600.2h0M142.5 598.2h0M128.8 620.2h0M138.3 603.3h0M75.7 591.5h0M113.2 581.0h0M122.9 566.4h0M120.9 588.6h0M152.9 581.2h0M79.3 620.8h0M129.0 571.3h0M65.4 539.4h0M132.9 609.2h0M149.1 555.8h0M90.3 609.4h0M60.3 566.2h0M69.2 591.0h0M97.0 602.8h0M69.3 606.7h0M190.0 601.0h0M90.6 552.6h0M82.9 579.3h0M139.1 613.3h0M61.9 578.0h0M119.9 538.8h0M138.2 575.7h0M159.3 612.3h0M62.7 561.0h0M113.0 572.1h0M124.7 545.8h0M108.4 558.6h0M127.4 577.4h0M79.4 586.5h0M91.1 557.4h0M62.5 602.1h0M113.1 533.6h0M105.5 604.7h0M118.2 565.5h0M61.3 555.0h0M147.0 572.3h0M142.0 619.3h0M73.1 540.7h0M104.5 547.6h0M134.6 596.6h0M103.3 613.8h0M113.9 528.7h0M64.0 593.6h0M146.9 593.4h0M82.5 545.7h0M134.3 550.7h0M65.1 551.4h0M84.0 565.5h0"/>
<path class="o" d="M125.9 586.7h0M126.9 580.9h0M125.9 591.3h0M103.1 569.7h0M101.9 550.7h0M68.6 543.5h0M104.5 575.5h0M69.0 554.8h0M138.4 541.6h0M138.7 546.8h0M135.6 535.1h0M138.9 586.3h0M61.3 538.5h0M80.1 603.0h0M139.1 551.8h0M128.6 610.6h0M102.3 540.4h0M123.1 541.9h0M113.7 542.2h0M90.2 565.5h0M69.7 534.1h0M81.2 558.9h0M102.2 600.0h0M70.6 548.9h0M80.3 585.0h0M90.3 578.3h0M147.5 572.0h0M148.8 579.1h0M70.5 568.9h0M72.2 563.4h0M80.5 616.0h0M86.8 596.5h0M115.1 555.1h0M148.8 614.5h0M80.3 608.5h0M123.1 605.4h0M125.5 616.2h0M103.9 585.5h0M137.9 597.3h0M74.7 571.5h0M111.1 589.0h0M70.2 614.3h0M125.4 560.7h0M139.1 601.9h0M113.8 560.5h0M70.5 582.4h0M75.7 551.7h0M80.1 563.5h0M92.3 605.9h0M76.9 598.1h0M61.1 546.8h0M120.5 590.6h0M81.7 621.6h0M82.5 553.1h0M113.3 577.7h0M125.8 536.1h0M102.1 589.8h0M87.2 585.6h0M138.9 614.1h0M149.1 554.5h0M89.5 560.1h0M113.6 549.7h0M130.1 616.7h0M90.5 541.0h0M60.5 573.8h0M60.1 581.7h0M124.0 570.6h0M115.9 601.6h0M98.4 604.0h0M114.3 593.0h0M114.3 568.9h0M138.7 591.8h0M60.7 569.1h0M66.7 606.8h0M126.0 621.2h0M89.6 623.0h0M138.7 572.6h0M61.2 606.2h0M134.3 601.0h0M138.1 607.2h0M90.2 546.8h0M86.2 571.6h0M102.0 594.5h0M102.9 560.6h0M70.7 588.7h0M150.9 599.6h0M102.3 611.2h0M113.1 606.2h0M148.8 567.3h0M80.0 572.3h0M72.2 575.4h0M126.2 575.1h0M142.2 576.5h0M91.8 612.9h0M62.6 562.5h0"/>
<path class="g" d="M111.6 580.6h0M64.5 553.1h0M61.4 519.0h0M97.6 583.2h0M60.8 600.7h0M137.1 622.9h0M125.3 565.0h0M141.6 586.6h0M113.8 598.1h0M89.9 547.9h0M79.2 598.2h0M69.7 542.7h0M124.0 551.2h0M99.6 568.4h0M70.4 557.6h0M102.8 562.9h0M70.3 576.5h0M60.8 549.3h0M120.4 603.4h0M63.5 542.0h0M92.0 581.6h0M61.4 614.9h0M85.8 551.4h0M60.1 555.2h0M64.6 572.0h0M126.5 571.9h0M123.3 597.3h0M148.4 577.2h0M149.5 604.0h0M126.8 521.8h0M102.0 549.9h0M103.3 544.3h0M191.7 613.3h0M75.2 515.2h0M80.1 602.7h0M137.8 583.8h0M118.1 581.4h0M79.1 548.1h0M76.4 590.2h0M69.3 588.7h0M126.2 577.6h0M62.9 566.9h0M149.4 519.1h0M125.7 622.6h0M139.3 603.3h0M69.9 608.6h0M191.7 580.7h0M113.9 516.4h0M190.3 572.5h0M87.5 541.9h0M62.8 590.2h0M147.3 562.0h0M128.3 547.7h0M72.5 510.5h0M136.7 575.0h0M103.4 620.2h0M92.6 608.2h0"/>
<path class="o" d="M126.5 590.4h0M99.5 551.1h0M102.6 555.0h0M67.1 547.8h0M137.9 545.5h0M71.3 557.9h0M124.4 580.3h0M137.6 538.1h0M68.4 552.5h0M139.4 551.3h0M128.9 584.2h0M138.9 590.0h0M71.1 534.6h0M112.2 544.5h0M90.5 576.9h0M124.9 610.7h0M149.0 574.0h0M80.3 599.8h0M104.6 600.0h0M90.4 596.4h0M125.9 617.8h0M69.3 539.6h0M139.1 585.2h0M90.6 563.0h0M92.3 582.2h0M103.0 583.7h0M69.1 612.3h0M63.8 538.8h0M101.7 604.1h0M79.1 620.7h0M80.0 549.9h0M123.3 562.4h0M69.9 617.8h0M76.0 594.9h0M103.2 588.7h0M78.9 609.0h0M149.3 614.5h0M103.3 573.3h0M80.6 580.4h0M112.7 554.2h0M100.8 544.1h0M114.9 590.7h0M99.4 597.8h0M73.6 549.3h0M99.7 592.9h0M125.5 604.2h0M151.4 581.3h0M89.4 539.8h0M89.6 568.5h0M61.1 548.0h0M126.9 541.8h0M102.3 566.9h0M61.2 577.8h0M92.8 603.3h0M93.0 609.1h0M137.1 610.1h0M60.8 566.6h0M71.4 564.7h0M140.6 600.5h0M71.0 589.0h0M126.3 623.0h0M114.0 569.2h0"/>
<path class="o" d="M125.8 589.5h0M71.6 557.7h0M70.5 546.8h0M139.3 545.9h0M100.0 550.2h0M112.3 541.2h0M123.7 579.6h0M89.4 577.9h0M113.8 546.4h0M81.7 602.7h0M137.9 586.1h0M124.7 607.9h0M89.0 596.2h0M70.3 536.4h0M67.5 611.1h0M148.9 577.4h0M80.2 613.2h0M80.0 620.3h0M79.1 583.2h0M80.3 597.7h0M137.9 535.5h0M69.9 618.0h0M87.2 566.3h0M122.8 602.2h0M127.2 616.8h0M64.3 538.7h0M103.0 599.4h0M100.8 567.7h0M112.2 555.9h0M111.6 589.3h0M102.5 583.9h0M104.6 542.4h0M79.1 552.2h0M138.4 553.0h0M103.0 557.3h0M94.2 608.1h0"/>
<path class="g" d="M93.5 582.0h0M87.8 547.2h0M60.5 553.5h0M61.2 615.6h0M61.9 540.7h0M138.0 621.9h0M126.7 550.4h0M60.5 600.6h0M101.8 560.9h0M67.6 538.8h0M148.3 603.2h0M69.5 577.0h0M122.6 552.6h0M62.2 557.9h0M112.4 601.9h0M102.8 548.9h0M70.4 609.7h0M126.1 600.8h0M114.6 593.9h0"/>
<path class="o" d="M70.6 550.5h0M70.1 558.6h0M125.1 586.3h0M139.2 543.8h0M114.2 542.0h0M65.7 535.8h0M88.8 596.7h0M125.5 593.2h0M100.7 553.4h0M89.4 576.1h0M125.1 614.7h0M61.6 538.3h0M102.5 570.1h0M80.5 584.6h0M125.0 607.1h0M138.5 585.7h0M80.9 620.6h0M111.2 592.1h0M80.3 599.0h0M105.4 601.1h0M102.1 585.9h0M91.0 564.0h0M70.2 612.3h0M113.5 558.2h0M138.4 538.4h0M111.4 546.9h0M102.4 542.4h0M69.9 544.9h0"/>
<path class="o" d="M69.8 555.4h0M90.2 595.8h0M102.3 553.9h0M71.5 546.8h0M125.7 585.2h0M136.7 547.1h0M91.3 576.9h0M123.6 615.4h0M112.8 541.1h0M125.4 608.1h0M141.8 583.8h0M102.2 543.4h0M101.9 585.3h0"/>
<path class="g" d="M72.0 578.8h0M60.8 539.3h0M103.4 549.7h0M125.9 551.9h0M139.1 620.4h0M113.4 598.0h0"/>
<path class="o" d="M70.4 555.7h0M86.8 577.8h0M69.3 547.1h0M102.6 553.3h0M89.6 596.9h0M110.6 541.8h0M125.5 618.7h0"/>
<line x1="61.0" y1="584.1" x2="322.6" y2="600.4" class="rl"/>
<line x1="61.0" y1="535.1" x2="322.6" y2="573.9" class="rd"/>
</g>
<rect x="48.2" y="471.7" width="287.1" height="156.50000000000006" fill="none" stroke="#5c5c5c" stroke-width="1.0"/>
<path d="M48.2 471.2V628.2H335.8" fill="none" stroke="#111" stroke-width="1.2"/>
<line x1="45.2" y1="623.20" x2="48.2" y2="623.20" stroke="#111" stroke-width="1.1"/>
<text x="43.2" y="625.90" class="tk" text-anchor="end">0</text>
<line x1="45.2" y1="586.33" x2="48.2" y2="586.33" stroke="#111" stroke-width="1.1"/>
<text x="43.2" y="589.03" class="tk" text-anchor="end">25</text>
<line x1="45.2" y1="549.45" x2="48.2" y2="549.45" stroke="#111" stroke-width="1.1"/>
<text x="43.2" y="552.15" class="tk" text-anchor="end">50</text>
<line x1="45.2" y1="512.58" x2="48.2" y2="512.58" stroke="#111" stroke-width="1.1"/>
<text x="43.2" y="515.28" class="tk" text-anchor="end">75</text>
<line x1="45.2" y1="475.70" x2="48.2" y2="475.70" stroke="#111" stroke-width="1.1"/>
<text x="43.2" y="478.40" class="tk" text-anchor="end">100</text>
<line x1="61.00" y1="628.2" x2="61.00" y2="631.2" stroke="#111" stroke-width="1.1"/>
<text x="61.00" y="639.30" class="tk" text-anchor="middle">0</text>
<line x1="158.70" y1="628.2" x2="158.70" y2="631.2" stroke="#111" stroke-width="1.1"/>
<text x="158.70" y="639.30" class="tk" text-anchor="middle">1</text>
<line x1="256.40" y1="628.2" x2="256.40" y2="631.2" stroke="#111" stroke-width="1.1"/>
<text x="256.40" y="639.30" class="tk" text-anchor="middle">2</text>
<text x="47.900000000000006" y="462.9" class="ti">Soil Aluminium concentration</text>
<text x="0.6" y="454.09999999999997" class="lt">E</text>
<text x="192.2" y="653.8" class="xtr" text-anchor="middle">Soil Aluminium (cmol<tspan font-size="7.6" dy="2.2">c</tspan><tspan dy="-2.2" dx="0.8">/kg)</tspan></text>
<text transform="translate(18.4,550.0) rotate(-90)" class="xt" text-anchor="middle">Sha</text>
<clipPath id="cF"><rect x="394.6" y="471.7" width="287.4" height="156.50000000000006"/></clipPath>
<g clip-path="url(#cF)">
<path class="o" d="M454.1 601.4h0M460.4 619.9h0M438.6 566.7h0M445.2 555.2h0M516.6 616.9h0M445.5 595.8h0M479.2 565.8h0M417.0 568.8h0M466.8 615.2h0M457.2 574.5h0M538.8 593.3h0M454.3 578.5h0M436.2 586.3h0M451.2 563.9h0M504.2 581.1h0M426.0 531.7h0M447.7 586.7h0M466.8 561.8h0M485.3 589.7h0M466.4 581.6h0M463.7 595.7h0M488.9 567.9h0M435.7 562.6h0M441.6 615.5h0M507.3 568.8h0M526.2 591.9h0M500.9 565.6h0M434.2 570.9h0M544.5 558.3h0M466.7 549.1h0M488.0 598.3h0M523.1 611.3h0M451.3 570.1h0M514.3 583.0h0M469.2 481.7h0M449.4 606.1h0M485.2 564.0h0M497.9 584.2h0M454.4 607.2h0M529.5 604.4h0M436.6 544.5h0M473.2 606.5h0M494.8 604.2h0M429.3 605.1h0M485.6 545.3h0M457.6 560.0h0M662.8 532.1h0M503.1 611.7h0M612.7 600.9h0M419.9 592.7h0M482.2 605.4h0M565.8 571.1h0M558.3 571.1h0M479.2 576.1h0M420.1 603.9h0M479.5 503.0h0M466.6 587.7h0M426.2 594.4h0M447.3 511.5h0M472.9 585.4h0M482.1 616.5h0M429.4 580.5h0M443.2 604.3h0M431.3 549.3h0M470.1 602.1h0M565.8 511.5h0M457.3 594.7h0M485.8 581.4h0M468.6 505.1h0M478.9 597.9h0M451.0 591.3h0M464.4 607.3h0M517.8 606.3h0M415.3 573.3h0M490.3 616.2h0M473.2 612.0h0M423.0 581.2h0M565.8 606.3h0M502.7 530.6h0M498.6 607.9h0M525.9 570.5h0M532.3 569.5h0M479.4 612.2h0M510.2 518.9h0M460.5 590.8h0M494.7 545.8h0M477.8 585.9h0M540.2 569.0h0M500.9 575.9h0M502.8 616.9h0M469.4 555.2h0M460.3 564.9h0M406.8 594.6h0M441.7 582.5h0M407.9 603.1h0M479.6 557.7h0M473.1 516.5h0M441.6 609.1h0M501.1 558.5h0M473.2 562.7h0M475.9 536.6h0M457.2 584.0h0M517.6 510.4h0M496.4 613.2h0M419.5 548.1h0M565.8 598.8h0M492.0 620.5h0M541.3 587.1h0M494.9 595.3h0M461.1 526.4h0M450.9 620.6h0M470.7 509.3h0M507.6 622.6h0M488.4 577.1h0M524.7 576.2h0M472.9 617.2h0M555.1 563.7h0M545.5 604.1h0M485.3 557.9h0M417.0 543.4h0M450.5 539.2h0M448.1 579.7h0M468.9 574.4h0M476.3 549.3h0M477.1 507.2h0M426.0 549.8h0M538.1 562.6h0M429.0 621.4h0M492.0 581.8h0M466.7 622.0h0M436.9 557.8h0M488.8 607.4h0M519.7 593.7h0M460.5 578.9h0M495.1 561.5h0M466.8 525.4h0M423.9 609.9h0M471.0 567.9h0M473.0 596.9h0M478.2 602.6h0M454.7 509.3h0M429.4 613.7h0M519.6 621.9h0M501.3 590.6h0M612.7 611.6h0M481.4 518.9h0M530.5 610.8h0M501.1 621.7h0M420.3 586.6h0M527.9 579.7h0M473.6 576.3h0M489.2 553.3h0M500.9 596.7h0M575.4 551.5h0M460.3 556.2h0M451.0 614.6h0M538.8 611.9h0M450.9 555.7h0M512.6 594.9h0M508.8 602.1h0M407.9 582.8h0M513.5 603.0h0M469.7 532.8h0M455.8 617.3h0M461.6 600.8h0M555.1 489.7h0M491.9 588.6h0M589.9 580.7h0M532.6 596.3h0M523.2 605.5h0M476.4 581.2h0M470.0 542.4h0M529.2 585.4h0M498.4 528.5h0M423.8 544.5h0M463.8 572.4h0M546.6 551.9h0M545.5 583.9h0M519.8 575.0h0M532.1 523.2h0M438.8 499.8h0M504.3 600.7h0M589.2 548.8h0M493.0 556.1h0M546.6 532.8h0M565.8 587.1h0M420.0 613.5h0M426.3 561.5h0M476.1 592.4h0M574.3 574.3h0M522.8 586.9h0M513.7 556.5h0M444.7 621.9h0M476.2 620.8h0M482.5 585.4h0M546.2 505.1h0M438.6 601.2h0M420.1 576.7h0M538.7 599.4h0M483.3 571.8h0M565.8 555.1h0M481.0 553.1h0M435.6 594.1h0M418.5 526.4h0M549.8 522.1h0M491.7 573.3h0M565.8 614.8h0M442.7 542.1h0M451.1 520.0h0M491.0 539.2h0M445.0 565.3h0M485.2 478.5h0M510.7 587.3h0M545.5 614.8h0M450.1 597.0h0M641.0 595.0h0M519.7 547.7h0M573.2 583.9h0M533.6 534.9h0M547.7 517.4h0M554.1 594.6h0M562.6 576.4h0M498.0 569.8h0M444.8 570.1h0M460.1 513.6h0M429.8 557.1h0M612.7 592.0h0M476.3 571.7h0M558.3 588.2h0M425.1 568.2h0M524.0 616.9h0M544.5 522.1h0M574.3 564.7h0M611.6 564.3h0M525.1 622.0h0M523.3 598.5h0M504.2 572.3h0M455.8 531.7h0M424.4 589.2h0M481.4 530.6h0M529.1 565.4h0M611.6 575.4h0M424.2 598.6h0M435.3 616.3h0M515.5 514.7h0M438.7 550.6h0M438.5 575.7h0M433.4 528.5h0M624.8 556.6h0M466.6 514.1h0M435.5 609.2h0M435.4 579.1h0M575.4 594.6h0M576.4 559.4h0M413.9 578.7h0M502.7 538.7h0M436.6 536.0h0M571.1 569.0h0M482.6 594.4h0M511.7 566.8h0M510.5 579.4h0M434.5 540.2h0M600.5 618.4h0M545.5 569.0h0M555.1 541.3h0M533.2 583.0h0M475.0 530.6h0M463.3 532.8h0M507.2 593.0h0M539.1 575.4h0M445.0 575.5h0M507.5 551.0h0M468.6 521.1h0M612.7 619.1h0"/>
<path class="g" d="M526.4 567.6h0M430.2 573.3h0M440.5 521.1h0M454.2 577.3h0M557.7 537.7h0M570.0 595.6h0M429.5 554.6h0M487.8 487.0h0M574.9 556.6h0M460.4 577.7h0M480.3 543.4h0M477.6 599.5h0M473.0 547.9h0M558.7 593.1h0M555.1 560.5h0M520.0 620.0h0M513.4 603.1h0M477.2 571.4h0M516.1 508.9h0M490.0 601.8h0M460.4 599.7h0M541.3 612.7h0M454.2 583.5h0M460.4 572.4h0M462.2 558.3h0M498.2 545.9h0M507.0 585.6h0M417.0 515.1h0M470.3 568.7h0M482.1 581.2h0M504.8 611.6h0M515.5 518.9h0M528.3 537.0h0M441.7 614.2h0M500.9 588.2h0M590.3 497.6h0M520.0 592.1h0M420.0 597.2h0M513.7 597.3h0M433.4 525.3h0M510.7 612.8h0M507.6 547.7h0M521.9 577.5h0M503.1 603.2h0M471.6 610.2h0M477.5 604.7h0M669.1 535.5h0M438.6 551.4h0M529.4 579.5h0M485.6 565.4h0M535.8 563.3h0M538.9 583.9h0M476.1 510.4h0M438.8 620.1h0M501.4 555.9h0M478.8 532.8h0M513.3 617.0h0M555.1 545.6h0M535.8 571.8h0M471.8 576.5h0M519.8 611.6h0M546.6 508.9h0M444.7 552.8h0M441.6 565.2h0M476.7 520.0h0M544.5 552.4h0M481.0 564.4h0M466.9 616.2h0M429.2 522.1h0M437.7 544.5h0M426.0 586.0h0M451.5 560.5h0M426.2 577.5h0M446.2 618.0h0M484.6 518.9h0M488.6 544.3h0M556.2 600.3h0M484.1 573.9h0M565.8 532.1h0M485.2 513.4h0M489.9 560.5h0M466.5 587.0h0M451.3 592.3h0M451.2 613.7h0M426.0 533.8h0M555.1 586.0h0M504.8 577.5h0M434.5 556.2h0M454.4 604.5h0M460.3 613.6h0M473.0 591.9h0M466.9 592.8h0M469.7 515.7h0M436.6 607.3h0M464.3 522.6h0M516.1 504.0h0M513.7 551.8h0M485.6 616.2h0M543.4 575.4h0M485.8 603.9h0M555.1 574.3h0M478.2 501.9h0M488.6 597.0h0M487.8 621.2h0M517.6 541.3h0M511.1 569.7h0M530.4 586.0h0M459.3 608.7h0M532.5 613.7h0M496.3 551.9h0M573.2 573.3h0M451.5 530.6h0M590.3 544.5h0M513.7 592.4h0M512.6 563.5h0M481.4 609.5h0M488.4 503.8h0M488.5 607.8h0M535.3 607.1h0M442.0 541.3h0M494.2 526.0h0M444.3 581.8h0M445.0 557.6h0M555.1 612.7h0M534.6 579.3h0M496.3 618.0h0M565.8 561.1h0M441.7 598.8h0M464.3 534.9h0M454.3 537.4h0M486.8 584.4h0M432.4 514.7h0M435.4 584.0h0M507.5 604.8h0M426.0 566.9h0M574.9 586.0h0M454.3 619.4h0M491.7 580.9h0M487.8 509.3h0M542.3 598.8h0M504.8 564.7h0M419.6 556.2h0M444.7 603.9h0M452.4 566.1h0M423.5 603.4h0M466.8 548.9h0M457.9 541.3h0M520.0 585.9h0M500.6 534.9h0M479.3 556.2h0M432.6 549.7h0M612.7 585.0h0M507.3 553.6h0M545.5 529.6h0M442.6 528.5h0M542.3 591.4h0M486.0 537.3h0M510.5 557.0h0M547.2 524.3h0M447.3 528.5h0M451.1 608.6h0M497.9 597.2h0M487.8 526.4h0M424.9 620.1h0M430.8 603.7h0M479.6 591.3h0M466.5 540.2h0M521.9 562.6h0M561.5 575.4h0M534.7 522.1h0M526.1 607.3h0M585.0 604.1h0M504.0 571.1h0M534.7 494.0h0M470.1 525.3h0M517.6 556.2h0M431.3 581.8h0M481.8 495.5h0M501.4 616.3h0M432.4 598.8h0M465.2 601.6h0M590.3 604.8h0M508.1 620.2h0M510.8 588.8h0M444.0 593.7h0M488.2 552.1h0M525.5 544.5h0M589.9 572.8h0M494.2 590.3h0M532.5 545.6h0M565.8 613.3h0M494.2 571.1h0M445.1 574.0h0M574.9 561.5h0M448.0 598.5h0M526.1 493.4h0M641.0 607.3h0M522.9 508.7h0M475.0 539.2h0M451.1 510.4h0M532.5 558.3h0M487.8 532.8h0M574.9 568.6h0M494.2 541.3h0M451.1 504.0h0M524.0 549.8h0M574.9 604.1h0M476.1 527.5h0M520.8 491.7h0"/>
<path class="o" d="M479.5 567.5h0M441.9 556.8h0M460.5 617.0h0M457.2 574.1h0M510.4 565.5h0M444.9 591.4h0M463.9 593.0h0M463.0 562.0h0M448.2 560.7h0M441.5 613.9h0M540.2 596.7h0M481.3 588.8h0M501.3 563.7h0M450.9 585.9h0M445.8 604.0h0M612.7 596.7h0M435.3 569.5h0M485.6 591.8h0M482.6 561.3h0M497.8 607.6h0M483.8 596.5h0M469.9 587.4h0M482.4 607.6h0M485.6 601.1h0M454.0 595.0h0M502.9 580.2h0M522.8 593.9h0M491.1 570.7h0M460.7 557.0h0M463.8 547.2h0M474.0 589.7h0M469.9 607.8h0M477.6 573.4h0M488.7 588.0h0M485.7 618.6h0M422.8 603.7h0M494.9 616.2h0M476.3 609.6h0M491.8 565.2h0M565.8 600.9h0M545.5 556.2h0M526.8 566.2h0M465.5 615.3h0M516.7 603.3h0M490.6 600.4h0M467.0 598.5h0M473.0 618.5h0M449.2 607.7h0M484.6 569.4h0M468.4 578.4h0M472.8 602.6h0M454.4 563.8h0M473.3 581.1h0M504.2 570.6h0M471.6 551.2h0M611.6 604.1h0M479.3 593.6h0M485.8 575.7h0M542.3 566.9h0M488.9 614.0h0M498.1 595.9h0M513.9 586.3h0M466.9 525.3h0M499.9 585.4h0M469.7 563.1h0M438.5 609.4h0M445.0 586.8h0M526.0 576.7h0M419.7 579.2h0M507.6 583.7h0M522.9 619.1h0M532.5 573.5h0M440.9 582.7h0M482.4 580.1h0M494.7 586.7h0M463.4 576.9h0M430.9 602.5h0M428.0 611.7h0M418.6 566.6h0M448.0 577.6h0M488.8 595.4h0M456.3 585.6h0M451.4 568.4h0M510.5 622.0h0M469.8 558.4h0M451.1 552.7h0M425.9 594.9h0M457.1 620.3h0M429.0 578.7h0M438.6 560.8h0M479.3 546.3h0M516.7 613.4h0M491.6 609.3h0M498.2 589.8h0M453.2 581.4h0M472.8 575.3h0M426.1 553.9h0M491.9 575.7h0M439.5 566.2h0M462.9 608.9h0M457.5 607.0h0M504.2 592.1h0M529.4 614.7h0M521.1 609.1h0M484.2 555.3h0M451.1 620.6h0M481.4 503.0h0M473.0 595.4h0M457.6 567.6h0M491.8 555.4h0M519.6 622.4h0M498.5 567.9h0M450.9 600.6h0M463.7 623.0h0M502.9 598.4h0M504.4 610.9h0M495.1 548.4h0M435.8 547.5h0M436.1 581.7h0M475.9 561.1h0M473.0 612.8h0M470.6 541.8h0M497.9 557.3h0M479.3 600.6h0M465.2 569.9h0M443.5 620.3h0M497.9 577.4h0M480.4 612.5h0M501.9 619.6h0M470.0 569.6h0M435.3 594.9h0M507.2 602.3h0M479.0 554.5h0M416.8 524.3h0M492.0 534.9h0M451.1 573.2h0M448.0 616.1h0M442.2 552.0h0M453.7 523.2h0M519.1 578.5h0M538.4 585.5h0M422.9 559.9h0M457.3 601.6h0M543.4 581.8h0M435.3 574.7h0M542.3 607.3h0M477.9 581.3h0M444.7 566.8h0M519.8 598.0h0M498.3 602.5h0M510.3 593.9h0M543.4 548.8h0M538.1 602.0h0M532.5 565.6h0M558.3 564.7h0M490.8 583.3h0M498.2 612.6h0M440.4 571.6h0M488.7 623.0h0M488.5 605.5h0M504.8 532.8h0M418.7 585.4h0M529.3 586.5h0M511.3 553.7h0M488.5 558.6h0M420.6 527.5h0M439.4 589.3h0M565.8 575.4h0M574.3 593.5h0M457.4 579.4h0M452.7 613.1h0M557.2 596.7h0M516.6 511.5h0M419.8 610.3h0M433.4 534.9h0M430.2 529.6h0M432.4 552.7h0M473.9 505.1h0M513.8 560.4h0M454.1 589.8h0"/>
<path class="o" d="M454.2 575.2h0M460.4 575.5h0M538.1 593.5h0M460.5 558.1h0M612.7 598.8h0M481.2 598.0h0M448.1 605.8h0M488.7 569.0h0M493.9 605.8h0M466.7 546.3h0M479.6 562.3h0M498.3 563.1h0M463.9 592.8h0M504.2 563.0h0M485.3 602.0h0M463.9 612.4h0M488.6 617.4h0M501.4 584.5h0M479.2 589.7h0M466.6 561.7h0M491.4 574.3h0M476.3 573.5h0M466.6 579.7h0M438.5 612.5h0M485.4 608.2h0M448.0 590.8h0M452.2 587.1h0M463.7 620.2h0M460.3 563.5h0M485.6 594.4h0M489.2 598.4h0M432.5 569.7h0M498.3 603.6h0M495.1 596.4h0M474.5 593.1h0M451.0 559.4h0M519.9 606.5h0M488.8 578.6h0M510.3 568.0h0M471.1 621.7h0M473.1 605.7h0M466.9 566.6h0M474.6 599.6h0M430.4 611.8h0M496.3 620.1h0M478.4 580.3h0M479.6 607.7h0M451.3 570.7h0M444.6 595.2h0M504.5 580.0h0M448.3 575.8h0M441.9 617.5h0M494.8 614.6h0M454.1 617.7h0M466.9 574.5h0M454.5 563.2h0M450.9 594.6h0M513.4 606.0h0M497.0 586.7h0M466.6 599.3h0M473.4 612.2h0M426.0 595.4h0M466.6 616.2h0M439.8 557.3h0M441.1 565.2h0M460.7 584.5h0M438.6 607.2h0M485.0 564.0h0M501.2 608.2h0M492.0 562.8h0M420.6 607.3h0M525.9 612.8h0M491.7 590.6h0M438.9 569.9h0M441.8 580.3h0M499.2 616.4h0M429.2 581.8h0M494.6 553.7h0M460.3 570.0h0M450.9 609.7h0M488.9 556.6h0M441.7 585.3h0M454.3 606.3h0M447.4 599.8h0M457.2 595.8h0M447.8 580.6h0M469.9 587.2h0M485.6 584.9h0M482.2 554.2h0M435.6 550.0h0M462.5 550.1h0M448.2 554.4h0M460.3 609.0h0M460.5 603.6h0M422.9 576.5h0M504.2 596.4h0M438.9 592.5h0M476.0 556.2h0M516.6 575.7h0M473.3 539.8h0M520.0 591.6h0M470.0 557.2h0M466.7 605.7h0M447.1 562.2h0M495.1 558.5h0M482.2 569.8h0M496.6 580.2h0M454.2 581.5h0M482.2 617.9h0M513.7 585.3h0M457.2 588.2h0M498.2 570.0h0M516.6 597.1h0M526.0 594.6h0M504.1 574.2h0M470.1 595.1h0M504.2 590.0h0M498.3 591.5h0M444.6 572.3h0M519.4 619.5h0M504.0 612.9h0M472.8 565.1h0M514.4 620.1h0M441.9 601.8h0M484.3 577.6h0M442.6 553.2h0M529.3 577.7h0M572.2 591.4h0M426.3 603.6h0M426.2 562.3h0M491.7 546.1h0M448.4 615.5h0M428.2 556.8h0M532.4 584.2h0M417.4 569.0h0"/>
<path class="o" d="M463.7 559.9h0M466.7 545.4h0M479.5 563.4h0M489.9 618.0h0M488.5 569.7h0M482.5 588.4h0M466.8 579.3h0M457.2 557.8h0M442.0 611.5h0M485.5 592.3h0M457.4 575.4h0M497.8 607.5h0M463.8 593.1h0M485.7 603.3h0M460.3 565.2h0M444.9 605.0h0M447.7 610.3h0M466.6 609.9h0M437.9 615.7h0M504.2 563.6h0M479.4 596.8h0M453.6 583.9h0M451.4 605.9h0M491.5 598.3h0M448.1 557.1h0M479.3 611.3h0M488.6 578.5h0M450.0 563.7h0M479.1 582.6h0M498.0 613.7h0M497.3 588.0h0M467.1 566.1h0M476.2 587.9h0M463.8 574.1h0M454.3 593.0h0M472.8 615.8h0M469.8 620.7h0M478.7 575.8h0M488.4 613.5h0M497.8 563.1h0M439.1 570.8h0M457.6 620.3h0M448.1 570.8h0M523.1 615.7h0M472.9 592.0h0M451.0 577.0h0M492.6 593.5h0M486.4 608.2h0M488.4 557.8h0M495.3 620.3h0M520.1 604.1h0M488.8 552.9h0M456.4 604.0h0M463.5 553.6h0M447.9 583.6h0M502.3 617.4h0M435.2 567.8h0M445.1 564.0h0M491.9 608.1h0M438.4 585.6h0M435.5 548.8h0M451.4 617.3h0M457.0 596.8h0M438.5 592.9h0M500.9 583.3h0M494.8 549.4h0M445.2 616.6h0M450.9 597.3h0M448.1 590.4h0M470.2 601.4h0M469.7 560.4h0M479.1 558.4h0M475.9 571.4h0M444.9 576.4h0M467.0 584.5h0M494.5 574.1h0M463.8 605.2h0M471.6 587.0h0M460.4 601.4h0M438.7 608.0h0M475.0 553.0h0M497.9 557.3h0M482.4 619.9h0M473.2 605.2h0M491.7 562.9h0M455.8 588.1h0M451.3 552.2h0M483.5 554.3h0M454.3 567.7h0M500.4 602.3h0M457.1 615.5h0M470.2 538.9h0M473.0 565.5h0M522.9 595.0h0M463.6 569.2h0M444.7 594.6h0M426.2 580.6h0M520.1 578.0h0M516.1 606.8h0"/>
<path class="g" d="M479.2 542.8h0M476.7 571.9h0M476.2 603.1h0M483.5 485.9h0M476.0 608.9h0M474.5 578.5h0M479.0 579.6h0M513.6 612.7h0M448.3 552.7h0M438.8 562.6h0M526.1 569.0h0M513.6 620.2h0M440.1 618.5h0M442.0 612.5h0M539.1 585.0h0M540.2 609.5h0M460.3 611.4h0M460.3 558.4h0M476.3 550.6h0M522.8 614.2h0M460.4 572.5h0M554.1 556.2h0M555.1 549.8h0M469.8 547.5h0M487.6 603.0h0M466.7 620.2h0M501.1 556.1h0M479.4 584.8h0M476.7 513.6h0M487.8 516.8h0M502.0 579.9h0M529.4 586.2h0M517.6 590.3h0M443.0 564.7h0M534.7 564.7h0M559.0 544.1h0M495.1 620.4h0M451.5 615.9h0M541.3 573.9h0M473.3 592.0h0M513.4 573.3h0M476.1 504.0h0M434.4 606.0h0M504.5 564.7h0M485.6 543.4h0M590.3 543.4h0M498.0 614.1h0M531.9 572.7h0M523.3 587.6h0M535.7 580.4h0M491.0 511.5h0M481.9 602.2h0M427.8 619.7h0M507.5 549.6h0M424.9 579.6h0M494.7 547.4h0M532.5 603.8h0M454.2 589.3h0M429.4 573.9h0M489.9 545.6h0M469.4 578.7h0M517.6 603.1h0M501.2 596.4h0M554.1 611.6h0M473.0 613.5h0M534.3 616.5h0M470.0 567.9h0M513.4 560.5h0M494.1 579.4h0M470.6 585.2h0M510.5 555.0h0M484.8 575.9h0M554.1 570.7h0M448.3 602.8h0M481.4 516.8h0M424.4 599.0h0M438.9 595.7h0M451.3 574.6h0M547.7 511.5h0M501.2 601.1h0M482.3 556.2h0M487.8 500.8h0M485.7 526.7h0M516.6 522.1h0M507.4 620.1h0M514.3 551.5h0M521.9 594.6h0"/>
<path class="o" d="M460.5 558.1h0M495.2 605.3h0M457.2 573.1h0M482.6 602.5h0M465.7 559.7h0M457.4 566.5h0M488.4 573.7h0M482.3 561.6h0M438.8 612.6h0M468.8 577.2h0M491.6 568.2h0M460.7 593.1h0M497.9 591.2h0M454.0 559.7h0M454.4 577.7h0M451.3 584.9h0M460.7 562.8h0M441.6 618.4h0M463.9 597.1h0M502.4 564.2h0M469.6 617.0h0M498.8 614.8h0M485.5 568.5h0M491.7 612.0h0M479.3 566.8h0M457.7 620.5h0M448.1 602.0h0M466.8 546.2h0M485.5 579.4h0M494.7 596.0h0M449.1 580.2h0M475.9 609.0h0M451.4 606.8h0M451.2 569.1h0M451.3 592.4h0M463.4 554.3h0M492.1 589.7h0M485.3 595.4h0M501.4 610.0h0M454.4 588.7h0M485.6 553.5h0M494.7 560.3h0M447.8 609.8h0M498.3 584.3h0M489.4 620.2h0M476.4 560.2h0M441.8 604.4h0M451.6 616.0h0M481.4 581.7h0M466.6 592.4h0M501.4 619.4h0M454.2 596.5h0M470.0 621.6h0M479.0 596.2h0M444.9 585.2h0M491.9 555.2h0M476.0 576.8h0M488.9 600.7h0M470.2 597.0h0M466.8 587.7h0M472.9 593.2h0M494.7 571.6h0M460.6 576.4h0M474.4 571.7h0M488.9 608.2h0M485.4 588.7h0M435.4 591.5h0M470.2 561.2h0M470.1 610.6h0M449.9 573.7h0M482.3 609.9h0M438.4 569.9h0M488.7 562.8h0M448.0 555.8h0M501.2 601.5h0M442.1 594.2h0M476.2 589.0h0M473.0 605.0h0M447.7 565.8h0M479.4 614.3h0M471.7 565.6h0M428.7 580.6h0"/>
<path class="o" d="M491.6 570.1h0M463.5 593.1h0M485.8 599.3h0M482.2 562.3h0M452.5 562.4h0M501.1 563.2h0M463.9 556.4h0M441.7 610.3h0M457.4 617.0h0M467.0 620.3h0M441.8 615.3h0M490.5 594.5h0M454.6 622.0h0M460.5 561.3h0M494.8 588.5h0M451.1 608.1h0M466.6 581.0h0M445.7 580.9h0M501.0 607.9h0M495.2 609.0h0M491.6 599.1h0M457.5 572.3h0M482.3 606.8h0M485.2 567.0h0M478.9 581.8h0M476.4 608.7h0M499.4 617.0h0M469.7 577.1h0M482.5 595.1h0M476.2 595.1h0M476.0 577.6h0M501.3 583.1h0M455.6 596.8h0M441.6 583.7h0M491.7 618.9h0M498.2 559.5h0M448.2 571.9h0M454.1 586.0h0M445.1 604.7h0M451.0 603.4h0M450.9 567.2h0M444.9 587.5h0M466.2 573.9h0M457.8 577.5h0M488.9 553.5h0M469.6 588.1h0M491.6 562.9h0M485.5 577.7h0M445.1 592.9h0M435.5 590.8h0M479.7 569.2h0M463.9 550.6h0M457.1 566.5h0M494.6 574.9h0M469.6 612.4h0M495.0 553.9h0M488.5 603.0h0M473.1 564.7h0M451.4 580.5h0M473.8 569.4h0M444.7 555.7h0"/>
<path class="g" d="M438.9 565.9h0M516.9 622.4h0M441.6 610.5h0M501.2 553.0h0M482.9 580.7h0M472.9 551.9h0M489.1 603.8h0M500.6 558.3h0M488.8 546.1h0M469.0 616.9h0M504.5 564.7h0M513.8 571.0h0M460.7 561.0h0M485.1 543.3h0M532.5 575.4h0M476.2 602.4h0M509.1 545.6h0M453.2 584.8h0M485.3 517.8h0M458.4 575.1h0M554.1 557.3h0M498.2 597.7h0M535.4 614.0h0M529.0 583.0h0M494.3 549.0h0M504.5 581.4h0M530.1 587.5h0M491.5 502.3h0"/>
<path class="o" d="M488.6 568.2h0M504.5 565.9h0M454.2 559.5h0M478.2 564.1h0M460.8 558.9h0M481.8 560.9h0M491.1 594.8h0M457.6 618.4h0M441.7 610.4h0M482.4 598.2h0M468.3 617.5h0M454.2 574.2h0M498.0 559.8h0M470.1 579.3h0M448.5 580.2h0M496.0 605.2h0M495.6 588.7h0M482.4 584.3h0M479.2 610.5h0M495.2 600.2h0M454.3 608.6h0M475.9 577.3h0M442.0 615.8h0M476.1 595.1h0M488.8 572.8h0M445.1 606.2h0M497.0 612.6h0M466.7 575.8h0M444.9 589.4h0M457.3 594.5h0M461.3 577.0h0M486.8 579.1h0M454.1 587.0h0M441.6 582.5h0M473.0 609.6h0M451.4 568.7h0M488.6 620.8h0M473.8 571.7h0M485.1 607.1h0M451.3 601.3h0"/>
<path class="o" d="M488.7 570.1h0M481.5 565.7h0M489.5 591.6h0M482.2 560.4h0M452.4 563.6h0M460.4 563.4h0M467.7 617.9h0M448.2 578.2h0M457.1 617.9h0M463.7 558.2h0M451.3 605.2h0M441.0 608.5h0M479.6 577.4h0M457.7 576.3h0M482.1 594.9h0M488.5 598.2h0M445.2 604.0h0M467.9 581.2h0M451.0 611.5h0M476.3 610.1h0M482.3 581.5h0M488.4 564.3h0M498.0 605.7h0M438.5 616.9h0"/>
<path class="o" d="M467.7 616.8h0M447.9 580.5h0M454.2 575.2h0M479.4 562.0h0M442.1 606.7h0M491.8 595.5h0M479.4 578.1h0M454.4 559.7h0M460.8 574.3h0M492.0 601.2h0M491.7 590.4h0M468.0 577.2h0M460.4 617.3h0M438.9 612.5h0"/>
<path class="g" d="M441.9 566.2h0M473.1 550.4h0M485.1 605.2h0M479.6 583.1h0M463.6 559.9h0M500.6 594.6h0M533.6 618.0h0M442.1 610.4h0"/>
<path class="o" d="M447.1 576.1h0M488.6 594.4h0M482.3 565.3h0M442.0 609.4h0M461.5 574.9h0"/>
<line x1="407.9" y1="595.0" x2="669.1" y2="565.8" class="rl"/>
<line x1="407.9" y1="548.8" x2="669.1" y2="529.6" class="rd"/>
</g>
<rect x="394.6" y="471.7" width="287.4" height="156.50000000000006" fill="none" stroke="#5c5c5c" stroke-width="1.0"/>
<path d="M394.6 471.2V628.2H682.5" fill="none" stroke="#111" stroke-width="1.2"/>
<line x1="391.6" y1="623.20" x2="394.6" y2="623.20" stroke="#111" stroke-width="1.1"/>
<text x="389.6" y="625.90" class="tk" text-anchor="end">0</text>
<line x1="391.6" y1="586.33" x2="394.6" y2="586.33" stroke="#111" stroke-width="1.1"/>
<text x="389.6" y="589.03" class="tk" text-anchor="end">25</text>
<line x1="391.6" y1="549.45" x2="394.6" y2="549.45" stroke="#111" stroke-width="1.1"/>
<text x="389.6" y="552.15" class="tk" text-anchor="end">50</text>
<line x1="391.6" y1="512.58" x2="394.6" y2="512.58" stroke="#111" stroke-width="1.1"/>
<text x="389.6" y="515.28" class="tk" text-anchor="end">75</text>
<line x1="391.6" y1="475.70" x2="394.6" y2="475.70" stroke="#111" stroke-width="1.1"/>
<text x="389.6" y="478.40" class="tk" text-anchor="end">100</text>
<line x1="407.40" y1="628.2" x2="407.40" y2="631.2" stroke="#111" stroke-width="1.1"/>
<text x="407.40" y="639.30" class="tk" text-anchor="middle">0</text>
<line x1="469.90" y1="628.2" x2="469.90" y2="631.2" stroke="#111" stroke-width="1.1"/>
<text x="469.90" y="639.30" class="tk" text-anchor="middle">20</text>
<line x1="532.40" y1="628.2" x2="532.40" y2="631.2" stroke="#111" stroke-width="1.1"/>
<text x="532.40" y="639.30" class="tk" text-anchor="middle">40</text>
<line x1="594.90" y1="628.2" x2="594.90" y2="631.2" stroke="#111" stroke-width="1.1"/>
<text x="594.90" y="639.30" class="tk" text-anchor="middle">60</text>
<line x1="657.40" y1="628.2" x2="657.40" y2="631.2" stroke="#111" stroke-width="1.1"/>
<text x="657.40" y="639.30" class="tk" text-anchor="middle">80</text>
<text x="394.3" y="462.9" class="ti">Soil clay content</text>
<text x="347.5" y="454.09999999999997" class="lt">F</text>
<text x="538.3" y="652.6" class="xt" text-anchor="middle">Clay (%)</text>
<text transform="translate(367.6,550.0) rotate(-90)" class="yt" text-anchor="middle">Species ha<tspan font-size="7.5" dy="-4.5">−1</tspan></text>
<clipPath id="cG"><rect x="48.2" y="698.2" width="287.1" height="156.0999999999999"/></clipPath>
<g clip-path="url(#cG)">
<path class="o" d="M156.0 800.7h0M157.3 824.1h0M205.6 791.7h0M179.9 775.6h0M219.4 791.3h0M193.5 841.4h0M264.2 833.9h0M268.3 803.6h0M275.7 831.2h0M150.3 803.4h0M263.5 844.6h0M197.7 819.0h0M127.4 782.2h0M149.3 764.2h0M87.6 832.7h0M175.1 776.6h0M312.1 824.8h0M194.6 829.8h0M247.2 815.1h0M169.9 787.3h0M190.5 849.2h0M208.5 843.0h0M184.6 742.1h0M190.0 784.3h0M284.8 784.3h0M211.4 837.4h0M165.5 817.7h0M171.0 827.9h0M167.3 799.1h0M264.8 813.1h0M102.7 794.7h0M288.5 847.7h0M192.3 727.0h0M203.6 819.1h0M195.1 835.9h0M238.7 845.3h0M293.0 809.1h0M108.7 815.3h0M141.3 776.2h0M239.6 838.6h0M180.8 825.0h0M86.9 809.8h0M176.2 794.0h0M140.6 835.6h0M223.6 808.4h0M224.7 824.1h0M119.8 790.8h0M188.8 736.1h0M256.7 815.7h0M128.5 807.3h0M303.4 826.9h0M150.0 840.9h0M220.1 798.3h0M317.2 830.2h0M145.9 755.4h0M228.9 812.3h0M134.9 803.0h0M104.8 783.1h0M234.7 823.5h0M201.7 783.2h0M211.3 782.1h0M301.1 839.9h0M186.5 815.9h0M260.3 793.9h0M301.3 815.3h0M237.3 829.1h0M170.6 815.5h0M289.2 818.7h0M156.9 784.2h0M129.7 795.2h0M198.2 798.0h0M96.4 798.9h0M281.9 838.8h0M153.8 769.4h0M134.2 813.6h0M131.2 775.4h0M212.1 846.3h0M176.5 785.0h0M216.7 841.3h0M258.9 845.5h0M148.1 825.2h0M141.4 767.6h0M114.2 782.1h0M187.5 829.5h0M180.9 844.6h0M223.7 789.6h0M179.9 809.1h0M210.4 799.7h0M170.7 821.9h0M184.0 821.3h0M165.8 755.1h0M218.2 816.6h0M176.4 833.9h0M213.7 833.4h0M133.9 819.3h0M187.4 707.9h0M156.3 810.4h0M195.7 807.2h0M161.8 833.6h0M291.8 833.8h0M236.9 774.3h0M222.4 847.2h0M181.0 836.6h0M170.6 848.8h0M216.3 785.0h0M245.7 795.2h0M230.4 819.7h0M256.0 838.4h0M232.6 789.6h0M170.9 781.8h0M144.1 830.4h0M203.5 775.2h0M257.1 805.6h0M194.7 787.9h0M317.9 807.7h0M165.8 848.7h0M216.4 825.6h0M158.4 845.9h0M179.8 754.0h0M186.6 842.2h0M274.0 841.0h0M246.5 841.1h0M199.0 844.0h0M267.5 825.6h0M216.2 806.9h0M214.6 802.3h0M209.9 830.0h0M161.4 841.0h0M111.1 842.4h0M202.5 805.1h0M227.3 759.8h0M252.1 810.9h0M274.7 846.0h0M223.2 838.9h0M315.8 846.5h0M279.7 808.3h0M311.5 836.4h0M258.2 831.4h0M186.4 751.9h0M275.3 793.9h0M288.9 828.8h0M125.8 811.5h0M168.2 743.6h0M196.7 814.1h0M153.9 836.9h0M177.2 817.4h0M234.6 816.7h0M229.5 844.1h0M281.4 814.5h0M270.4 834.8h0M192.3 764.5h0M163.3 828.2h0M226.9 797.6h0M261.4 769.4h0M166.7 805.1h0M210.5 809.9h0M231.8 840.0h0M164.8 780.0h0M244.4 766.2h0M201.4 838.2h0M80.6 828.6h0M154.1 791.1h0M78.6 833.8h0M228.9 784.6h0M288.0 804.5h0M173.3 746.1h0M323.0 822.3h0M146.7 846.3h0M152.3 828.9h0M268.7 839.4h0M180.4 799.9h0M150.4 730.6h0M149.5 775.7h0M229.2 849.0h0M87.9 789.4h0M183.2 760.3h0M140.4 783.4h0M151.6 781.1h0M154.4 820.0h0M203.6 828.6h0M280.4 845.7h0M202.3 738.9h0M183.5 778.6h0M228.3 828.9h0M203.7 768.1h0M129.1 828.9h0M236.5 811.4h0M148.1 769.6h0M295.6 844.8h0M196.1 768.8h0M194.9 758.7h0M115.3 807.3h0M172.6 757.0h0M147.1 811.8h0M207.3 804.7h0M154.7 736.9h0M256.0 789.5h0M169.2 843.5h0M265.7 785.3h0M101.8 833.3h0M179.4 725.3h0M134.6 753.1h0M188.3 806.8h0M149.5 742.3h0M244.7 832.4h0M162.2 806.5h0M249.7 802.2h0M226.7 744.9h0M132.1 759.0h0M109.0 780.0h0M289.8 841.2h0M298.7 802.4h0M245.7 846.5h0M108.3 810.6h0M186.2 798.2h0M278.6 820.8h0M241.4 804.5h0M137.9 806.7h0M286.5 833.4h0M142.5 842.5h0M138.2 840.1h0M232.1 797.9h0M80.1 804.2h0M253.2 842.1h0M170.8 766.9h0M221.7 820.1h0M195.6 776.7h0M85.2 794.0h0M136.1 785.8h0M189.3 779.6h0M296.8 822.6h0M113.2 790.5h0M308.7 844.9h0M235.8 761.9h0M321.0 843.1h0M143.7 795.5h0M176.3 802.8h0M272.8 819.9h0M209.0 818.1h0M211.3 762.4h0M100.6 770.5h0M171.2 804.3h0M141.5 748.4h0M128.9 836.7h0M207.3 824.5h0M111.1 748.4h0M214.5 793.3h0M197.6 791.9h0M156.9 716.5h0M218.1 778.0h0M167.5 775.4h0M260.2 826.3h0M128.2 765.3h0M239.5 815.6h0M196.3 745.2h0M172.9 772.2h0M157.3 759.1h0M220.8 829.0h0M137.5 772.6h0M176.1 840.3h0M262.9 838.8h0M235.0 835.0h0M113.8 812.4h0M243.4 820.6h0M115.3 826.2h0M131.0 770.5h0M183.3 791.4h0M160.7 802.2h0M238.3 800.3h0M266.5 819.3h0M132.5 844.9h0M162.9 758.9h0M293.8 838.2h0M179.3 765.1h0M211.3 730.4h0M302.5 807.5h0M145.6 800.6h0M87.2 770.8h0M160.7 795.5h0M192.0 801.4h0M109.3 763.9h0M313.6 798.1h0M300.8 832.2h0M133.1 739.6h0M269.3 811.4h0M119.5 815.7h0M186.1 770.8h0M257.1 780.0h0M187.2 835.9h0M317.3 821.3h0M154.8 842.3h0M151.6 787.0h0M188.8 823.3h0M221.9 769.3h0M217.4 848.6h0M81.7 841.1h0M219.7 812.0h0M104.2 817.5h0M241.2 810.9h0M105.8 798.9h0M159.9 767.3h0M205.6 761.7h0M192.2 818.4h0M124.1 754.3h0M206.4 750.7h0M272.1 758.3h0M169.5 838.8h0M263.2 849.2h0M214.5 768.7h0M160.8 740.4h0M87.9 819.9h0M292.3 791.7h0M128.9 802.1h0M93.8 779.5h0M279.1 826.9h0M72.6 843.5h0M117.8 777.4h0M243.0 800.1h0M247.5 790.7h0M152.4 796.0h0M304.9 818.8h0M276.2 811.5h0M248.6 757.6h0M219.0 764.1h0M143.8 822.3h0M230.1 802.1h0M248.5 824.4h0M220.4 833.7h0M122.0 828.6h0M255.1 822.2h0M163.2 811.3h0M313.3 812.2h0M137.3 764.5h0M261.0 818.8h0M106.9 790.5h0M138.2 844.9h0M206.8 813.0h0M149.0 736.8h0M118.6 836.2h0M99.5 777.9h0M244.9 827.6h0M163.9 764.1h0M284.5 842.9h0M303.9 835.9h0M221.5 804.0h0M160.1 747.6h0M134.2 778.9h0M161.8 786.6h0M137.6 790.5h0M165.0 770.1h0M156.5 764.1h0M203.2 799.7h0M226.7 751.7h0M186.7 756.8h0M206.7 838.0h0M251.1 794.6h0M103.7 812.6h0M151.6 814.2h0M183.2 784.5h0M168.9 730.6h0M224.0 814.7h0M92.8 839.3h0M193.8 796.3h0M307.3 824.0h0M111.2 822.8h0M170.3 752.7h0M113.2 772.0h0M322.5 809.3h0M321.2 827.9h0M158.1 829.2h0M271.0 797.1h0M261.6 801.9h0M119.5 840.9h0M103.7 824.1h0M166.8 833.9h0M142.6 814.6h0M227.3 773.6h0M280.6 794.9h0M96.4 789.1h0M138.6 798.3h0M187.7 766.2h0M76.8 808.2h0M312.7 804.3h0M196.4 783.0h0M92.2 816.5h0M226.7 765.7h0M251.9 829.1h0M233.8 846.1h0M201.9 833.0h0M241.2 783.2h0M205.8 849.1h0M178.8 704.9h0M309.6 830.4h0M190.0 742.7h0M76.8 775.1h0M241.2 777.9h0M152.3 757.9h0M254.4 847.4h0M135.5 827.1h0M169.6 809.4h0M252.1 816.1h0M248.0 808.3h0M213.9 774.6h0M316.9 840.4h0M228.2 835.1h0"/>
<path class="g" d="M279.5 800.3h0M180.8 786.0h0M195.9 818.5h0M175.6 762.4h0M242.7 842.5h0M163.8 772.9h0M245.1 791.7h0M96.4 794.7h0M246.3 838.9h0M155.2 809.9h0M182.0 767.0h0M192.6 809.0h0M289.1 842.9h0M138.4 788.4h0M145.4 778.9h0M213.4 803.4h0M232.6 766.2h0M203.4 795.9h0M222.0 821.6h0M67.6 814.0h0M287.1 805.4h0M256.1 823.7h0M191.1 819.4h0M222.0 783.2h0M134.2 801.0h0M188.2 825.0h0M246.5 802.0h0M128.2 791.7h0M208.2 807.9h0M154.8 742.1h0M82.7 838.4h0M77.2 825.1h0M301.9 818.8h0M102.6 800.7h0M116.3 799.5h0M201.3 823.1h0M82.7 814.6h0M296.6 830.1h0M229.7 818.0h0M167.8 796.8h0M194.5 778.3h0M167.4 754.8h0M63.1 767.8h0M296.6 792.8h0M171.9 823.4h0M220.3 813.1h0M143.2 822.8h0M198.5 770.4h0M207.6 782.9h0M244.4 773.6h0M303.0 770.0h0M168.9 745.3h0M169.9 734.8h0M91.7 796.0h0M217.7 832.2h0M306.8 828.4h0M318.9 838.6h0M83.3 786.6h0M84.8 823.1h0M76.2 775.7h0M136.3 807.3h0M135.2 763.8h0M167.9 779.0h0M156.1 826.0h0M200.2 764.8h0M144.9 835.2h0M252.9 838.6h0M80.4 795.5h0M255.2 813.4h0M196.4 795.9h0M148.5 745.3h0M144.9 773.7h0M142.1 813.4h0M200.2 808.8h0M174.1 752.6h0M148.6 815.9h0M184.6 836.7h0M295.5 821.6h0M309.4 810.9h0M257.7 819.2h0M216.0 838.7h0M130.0 824.1h0M275.3 813.0h0M281.6 830.1h0M100.6 777.9h0M222.0 836.5h0M292.3 832.9h0M97.4 815.7h0M313.6 808.8h0M157.3 767.5h0M120.9 818.6h0M91.1 782.1h0M277.7 848.0h0M247.5 814.1h0M157.3 782.1h0M301.9 834.6h0M315.0 797.5h0M176.7 729.5h0M141.5 784.2h0M307.2 798.1h0M167.8 720.1h0M116.7 768.6h0M182.5 846.2h0M90.2 820.9h0M150.8 803.1h0M113.5 778.2h0M214.6 814.5h0M267.6 840.1h0M271.0 817.3h0M231.1 836.4h0M149.3 759.2h0M207.5 841.2h0M252.9 829.0h0M209.7 777.8h0M190.0 736.3h0M217.6 793.9h0M182.5 792.6h0M294.4 845.0h0M192.7 838.2h0M298.7 755.1h0M200.1 784.8h0M190.0 761.9h0M163.2 748.4h0M260.3 808.8h0M199.7 732.9h0M121.2 831.4h0M163.2 742.7h0M204.3 768.5h0M194.3 727.8h0M105.8 773.7h0M179.2 829.9h0M164.1 792.6h0M213.4 789.2h0M152.1 752.6h0M124.1 760.0h0M165.9 840.7h0M183.3 752.7h0M63.1 780.0h0M143.9 848.9h0M148.2 795.5h0M126.2 846.2h0M202.8 712.1h0M120.9 825.4h0M198.5 775.8h0M129.1 838.1h0M143.0 804.6h0M292.3 796.4h0M228.4 791.7h0M313.6 847.1h0M109.0 803.1h0M317.9 816.2h0M248.2 833.5h0M268.0 822.0h0M184.6 737.9h0M100.6 772.6h0M244.0 823.3h0M113.2 842.0h0M100.6 832.5h0M194.3 756.6h0M190.0 792.8h0M307.2 761.9h0M153.2 848.0h0M285.5 781.7h0M309.4 839.7h0M311.1 792.8h0M125.8 796.8h0M235.8 814.1h0M233.7 784.3h0M198.5 841.8h0M303.0 805.6h0M186.7 713.1h0M94.2 788.4h0M189.6 781.9h0M238.0 765.1h0M93.8 811.3h0M226.0 829.0h0M225.5 809.2h0M230.5 755.1h0M76.4 783.1h0M169.9 836.7h0M133.7 829.7h0M161.5 828.3h0M114.0 793.1h0M179.0 735.6h0M146.8 845.1h0M165.7 761.1h0M202.8 748.1h0M255.7 804.2h0M78.5 812.5h0M220.0 841.7h0M126.2 778.9h0M174.1 801.0h0M276.9 831.8h0M74.0 836.9h0M159.4 838.8h0M202.2 813.7h0M92.1 805.2h0M111.2 827.0h0M250.7 792.8h0M154.8 799.2h0M93.8 838.8h0M197.5 834.4h0M85.8 801.0h0M173.0 787.7h0M101.9 784.5h0M241.8 749.1h0M240.1 789.6h0M315.8 823.7h0M126.2 831.5h0M248.6 778.9h0M194.6 749.2h0M170.7 847.1h0M180.0 747.7h0M159.4 754.7h0M153.1 771.6h0M140.5 832.5h0M170.8 830.2h0M227.8 804.8h0M163.2 719.4h0M163.2 735.8h0M211.3 837.9h0M178.0 778.6h0M221.6 791.2h0M84.8 829.4h0M132.6 814.7h0M61.0 832.5h0M164.9 810.2h0M158.4 716.9h0M181.8 721.5h0M146.4 808.8h0M294.0 768.3h0M155.2 777.9h0M183.9 782.2h0M320.5 832.8h0M241.0 798.3h0M285.9 836.5h0M238.0 825.8h0M294.4 806.6h0M298.7 838.6h0M147.9 724.3h0M175.2 740.0h0M309.4 786.4h0M174.1 840.9h0M106.9 815.7h0M92.1 767.4h0M307.7 818.4h0M207.7 772.1h0M164.5 817.0h0M158.2 790.4h0M282.2 807.1h0M198.5 744.4h0M166.7 785.2h0M186.7 803.1h0M133.7 774.7h0M316.8 842.9h0M232.2 848.8h0M215.6 767.2h0M124.2 810.9h0M271.1 808.3h0M81.3 781.7h0M222.1 769.7h0M129.2 818.1h0M274.5 823.3h0M155.1 736.3h0M146.9 789.2h0M111.1 809.4h0M211.3 721.9h0M213.4 743.8h0M240.1 778.5h0M240.1 755.1h0M71.8 845.1h0M191.4 847.9h0M61.0 792.6h0M253.9 797.1h0M154.3 817.4h0M188.2 773.2h0M195.8 738.8h0M89.0 777.9h0M194.7 785.1h0M279.5 783.2h0M88.7 838.7h0M89.1 832.0h0M153.1 822.0h0M209.4 831.9h0M71.3 791.8h0M71.9 806.8h0M116.5 787.2h0M269.0 846.6h0M181.6 730.4h0M102.7 828.3h0M180.2 825.3h0M213.4 827.9h0M266.7 806.1h0M283.8 842.9h0M167.8 768.4h0M209.2 821.6h0M138.5 798.0h0M263.5 834.3h0M239.9 833.5h0M226.4 787.4h0M78.5 817.8h0M188.8 730.6h0M145.1 763.7h0M161.3 764.9h0M247.9 846.1h0M71.5 785.3h0"/>
<path class="o" d="M267.0 809.5h0M244.8 818.8h0M179.8 793.8h0M212.5 834.7h0M167.8 798.6h0M167.4 819.6h0M171.6 813.2h0M273.5 829.8h0M202.2 785.4h0M151.0 845.1h0M271.0 804.5h0M242.9 841.4h0M158.6 826.1h0M164.0 756.3h0M178.2 771.8h0M220.1 802.3h0M158.4 802.3h0M197.5 802.1h0M215.2 839.5h0M148.7 761.8h0M228.0 810.5h0M198.5 838.9h0M111.1 818.6h0M300.2 842.6h0M210.2 779.4h0M168.7 848.0h0M174.0 823.0h0M140.1 830.2h0M246.8 813.3h0M190.9 839.5h0M253.7 816.9h0M235.6 848.4h0M159.5 846.0h0M234.7 822.6h0M289.1 835.1h0M274.9 841.6h0M161.1 839.1h0M260.3 842.6h0M175.3 789.4h0M141.8 772.3h0M317.1 809.1h0M149.4 766.4h0M304.8 823.9h0M135.5 799.0h0M209.4 845.3h0M197.7 807.8h0M144.8 824.6h0M182.2 817.2h0M226.3 800.7h0M300.2 837.0h0M183.4 837.8h0M190.5 786.6h0M196.7 815.1h0M137.7 810.9h0M232.8 837.0h0M169.3 828.7h0M321.5 830.9h0M198.8 833.4h0M221.2 821.5h0M279.8 816.1h0M138.0 778.6h0M197.0 796.4h0M188.4 814.5h0M260.9 804.4h0M187.6 833.5h0M283.2 837.7h0M303.5 816.0h0M305.3 829.3h0M129.6 771.5h0M168.5 806.3h0M193.3 844.6h0M186.2 780.6h0M107.9 843.0h0M203.0 830.1h0M279.4 845.8h0M220.6 814.0h0M238.2 844.0h0M165.5 786.9h0M231.0 831.9h0M219.6 847.7h0M236.8 829.8h0M127.8 782.3h0M281.6 806.6h0M77.4 829.0h0M210.7 806.4h0M219.9 840.9h0M129.8 832.6h0M195.4 827.5h0M320.0 825.8h0M195.3 789.6h0M141.4 763.4h0M86.1 806.4h0M206.1 825.4h0M196.1 822.3h0M178.5 779.1h0M157.0 806.7h0M184.3 844.2h0M165.7 746.3h0M171.8 776.5h0M216.5 807.9h0M205.4 768.4h0M178.4 834.5h0M232.4 843.5h0M235.9 817.5h0M134.8 804.4h0M315.4 821.9h0M232.6 774.7h0M181.0 825.0h0M211.4 796.5h0M233.7 761.9h0M186.8 806.1h0M281.7 824.1h0M243.3 770.4h0M248.6 766.6h0M195.8 763.4h0M174.0 831.8h0M315.8 832.2h0M257.1 846.1h0M264.7 815.4h0M234.2 809.7h0M188.9 847.9h0M175.7 806.7h0M100.6 783.1h0M216.0 791.1h0M227.9 826.8h0M206.9 773.4h0M268.6 826.7h0M204.5 838.8h0M154.5 787.5h0M174.7 799.2h0M264.6 835.0h0M159.8 834.1h0M322.0 842.2h0M174.1 759.0h0M186.1 774.9h0M241.4 835.3h0M191.4 804.9h0M226.4 847.4h0M223.2 827.7h0M288.4 814.6h0M266.7 845.0h0M215.0 823.0h0M111.1 777.9h0M164.0 802.9h0M241.1 847.8h0M175.1 784.1h0M131.0 776.8h0M221.1 832.0h0M185.9 826.9h0M289.6 845.0h0M218.9 796.8h0M310.5 825.8h0M206.6 820.0h0M212.3 759.4h0M134.1 841.4h0M147.2 771.7h0M211.5 830.1h0M235.1 797.3h0M201.8 817.1h0M172.8 767.6h0M274.2 822.3h0M239.8 798.0h0M162.0 815.7h0M304.0 806.0h0M270.6 818.4h0M308.9 843.3h0M250.4 838.7h0M172.7 839.7h0M274.5 848.4h0M240.9 823.7h0M311.2 834.0h0M153.7 757.7h0M188.0 821.4h0M179.6 754.6h0M115.7 786.3h0M268.8 838.5h0M180.0 812.1h0M256.1 806.8h0M166.6 779.4h0M246.3 831.1h0M207.1 791.7h0M229.6 815.6h0M129.0 807.9h0M95.4 794.5h0M193.2 735.3h0M160.4 765.2h0M181.5 800.0h0M75.7 837.3h0M251.2 801.1h0M179.6 766.1h0M142.9 834.3h0M155.5 815.6h0M154.5 836.8h0M137.3 834.1h0M174.3 754.2h0M247.5 845.0h0M135.3 784.8h0M239.4 802.7h0M317.5 847.8h0M221.0 786.6h0M288.5 822.8h0M263.7 791.1h0M143.7 813.2h0M176.8 818.1h0M163.2 824.5h0M194.2 833.0h0M294.6 810.6h0M177.4 847.0h0M137.7 788.7h0M186.7 750.5h0M231.7 792.5h0M258.2 791.7h0M205.3 803.5h0M296.3 833.0h0M176.2 746.3h0M139.3 768.1h0M132.0 794.9h0M146.8 838.8h0M211.7 811.4h0M154.7 820.7h0M103.2 770.5h0M148.6 821.5h0M196.0 754.5h0M301.2 832.3h0M114.2 812.4h0M165.7 772.6h0M168.2 842.9h0M161.1 809.7h0M193.2 774.4h0M298.9 822.7h0M118.4 817.9h0M159.2 756.5h0M134.6 846.2h0M252.5 843.6h0M160.5 751.6h0M217.0 828.3h0M313.8 814.2h0M149.8 812.0h0M256.1 835.2h0M211.3 785.3h0M275.0 835.5h0M262.9 796.9h0M160.6 789.1h0M155.0 735.0h0M256.9 824.5h0M289.4 803.5h0M243.9 809.6h0M258.3 813.9h0M144.5 847.1h0M236.0 788.2h0M134.6 736.3h0M229.4 755.1h0M260.7 828.4h0M192.4 781.7h0M117.4 794.7h0M203.6 811.4h0M250.6 808.3h0M213.9 773.1h0M260.0 821.0h0M193.2 743.8h0M186.2 741.5h0M117.5 772.1h0M106.9 825.2h0M169.9 749.5h0M227.3 786.4h0M165.5 811.4h0M197.0 782.4h0M283.8 796.0h0M98.5 790.5h0M225.2 839.1h0M121.6 836.7h0M309.1 819.2h0M226.2 794.2h0M190.8 795.5h0M202.8 845.0h0M265.2 821.0h0M203.9 778.9h0M133.3 790.3h0M212.6 767.1h0M202.2 792.6h0M170.1 790.0h0M261.9 847.1h0M119.5 825.2h0M212.8 815.9h0M143.5 778.8h0M149.1 801.9h0M241.4 830.3h0M159.9 771.9h0"/>
<path class="o" d="M169.4 815.6h0M166.9 802.8h0M161.4 829.6h0M165.0 818.3h0M175.1 814.7h0M247.0 818.5h0M217.5 805.3h0M159.5 797.9h0M190.0 843.1h0M211.2 839.2h0M170.2 825.2h0M269.6 806.4h0M151.6 769.6h0M146.3 761.8h0M209.3 848.7h0M253.2 818.2h0M159.7 839.2h0M202.1 808.3h0M182.3 839.2h0M194.1 807.6h0M182.9 815.7h0M231.3 813.2h0M231.4 825.5h0M200.7 841.5h0M217.2 819.4h0M161.4 847.1h0M241.6 845.1h0M233.9 841.1h0M187.0 833.2h0M230.7 820.8h0M226.8 810.7h0M178.3 773.7h0M189.3 811.2h0M192.2 833.7h0M244.3 837.5h0M197.4 835.8h0M216.9 843.3h0M139.0 764.7h0M190.1 782.7h0M160.3 803.8h0M146.8 846.6h0M177.0 778.6h0M264.0 811.5h0M135.7 814.5h0M222.4 846.9h0M272.7 843.3h0M171.6 849.0h0M208.4 832.6h0M237.1 832.5h0M232.5 847.1h0M207.4 844.2h0M166.5 847.8h0M300.7 813.4h0M211.0 806.3h0M210.6 794.1h0M237.5 819.0h0M215.4 836.5h0M176.4 825.8h0M194.8 819.5h0M298.5 845.1h0M198.7 816.7h0M163.7 754.5h0M191.8 838.7h0M237.2 827.1h0M249.7 811.2h0M178.9 831.3h0M185.3 844.8h0M168.8 785.8h0M283.1 806.8h0M188.0 806.3h0M180.7 796.2h0M131.0 829.4h0M170.1 831.5h0M213.1 832.1h0M229.1 842.3h0M223.9 798.5h0M207.3 803.4h0M215.3 825.7h0M177.4 809.6h0M261.4 832.9h0M199.3 829.7h0M297.2 835.3h0M174.8 798.6h0M221.9 831.8h0M210.4 821.6h0M114.1 816.7h0M199.9 784.2h0M198.0 791.4h0M232.2 797.3h0M190.9 848.1h0M137.2 805.4h0M305.1 808.8h0M291.6 813.2h0M205.5 784.1h0M156.7 843.8h0M133.6 773.0h0M175.3 757.5h0M261.4 837.9h0M270.4 801.7h0M209.6 781.6h0M237.3 846.7h0M237.1 810.9h0M275.0 828.0h0M174.9 821.0h0M127.5 773.3h0M176.3 805.0h0M218.5 787.4h0M195.7 763.8h0M231.8 834.8h0M243.3 797.0h0M138.4 772.6h0M243.6 824.4h0M203.6 816.6h0M206.3 777.1h0M267.7 839.3h0M258.1 809.5h0M186.0 800.0h0M85.6 808.4h0M142.4 836.8h0M208.2 826.1h0M207.5 788.3h0M184.9 822.7h0M203.5 834.4h0M84.1 803.4h0M172.0 777.9h0M204.0 828.8h0M161.3 763.3h0M114.6 776.5h0M126.8 768.4h0M182.5 769.5h0M170.6 806.7h0M292.6 821.3h0M216.8 810.8h0M180.6 763.3h0M286.3 846.1h0M313.2 837.0h0M165.1 839.9h0M189.8 828.8h0M176.4 844.7h0M291.7 807.3h0M137.3 835.9h0M303.5 821.4h0M243.0 831.6h0M287.2 825.4h0M313.8 821.3h0M322.1 822.6h0M305.1 825.8h0M206.1 795.8h0M292.4 833.2h0M177.9 792.2h0M258.5 846.7h0M152.0 763.4h0M157.3 759.9h0M253.6 844.3h0M194.2 802.5h0M220.3 827.3h0M221.2 822.8h0M223.3 813.7h0M154.7 790.0h0M224.2 841.4h0M243.0 802.5h0M274.9 837.9h0M165.4 797.3h0M203.2 790.2h0M312.8 832.2h0M145.0 815.2h0M315.8 810.0h0M112.0 788.7h0M203.7 821.6h0M232.1 788.4h0M157.4 824.1h0M321.4 810.2h0M207.6 810.8h0M296.9 825.9h0M247.8 831.1h0M238.8 804.6h0M226.7 832.7h0M234.8 766.2h0M248.3 800.5h0M173.1 793.3h0M106.9 840.9h0M148.4 838.9h0M198.5 757.6h0M143.5 842.0h0M160.1 790.5h0M132.1 792.5h0M286.9 818.8h0M174.5 839.6h0M154.6 737.3h0M256.5 823.5h0M272.5 848.5h0M205.2 772.2h0M256.5 828.8h0M309.4 827.9h0M261.2 825.6h0M152.2 820.4h0M268.6 816.7h0M165.3 810.8h0M276.8 823.4h0M102.8 780.8h0M136.2 844.6h0M213.1 788.0h0M237.6 837.5h0M152.3 810.7h0M189.9 820.8h0M174.0 788.3h0M298.0 820.6h0M164.7 825.3h0M199.4 803.0h0M286.6 834.5h0M227.6 784.1h0M211.3 758.7h0M259.9 798.3h0M248.8 846.7h0M135.4 780.0h0M277.8 832.9h0M270.7 822.0h0M147.5 823.3h0M263.9 848.3h0M146.0 832.5h0"/>
<path class="g" d="M173.7 762.9h0M209.7 805.5h0M222.4 818.4h0M294.4 827.9h0M196.2 778.8h0M177.5 765.9h0M192.3 806.3h0M126.7 790.5h0M141.3 825.1h0M156.7 823.1h0M191.6 815.5h0M290.2 834.3h0M216.9 812.7h0M176.7 727.4h0M202.8 819.4h0M224.9 833.5h0M172.2 821.4h0M247.7 817.5h0M85.7 785.9h0M143.3 817.6h0M96.4 811.5h0M161.3 775.8h0M165.7 742.1h0M138.7 788.8h0M246.5 798.1h0M196.3 772.7h0M277.0 802.4h0M215.6 842.9h0M178.3 759.0h0M200.4 764.5h0M170.6 746.2h0M195.5 795.9h0M266.7 838.6h0M191.5 823.7h0M124.8 844.8h0M219.8 824.8h0M298.9 823.8h0M188.4 764.7h0M242.6 795.4h0M166.3 783.2h0M163.0 769.7h0M151.5 799.9h0M137.9 804.5h0M244.4 776.8h0M290.7 841.8h0M158.2 765.9h0M98.5 798.8h0M167.8 753.8h0M224.2 840.0h0M78.5 839.9h0M255.0 819.4h0M147.2 794.7h0M190.9 786.3h0M124.7 816.7h0M143.6 837.8h0M314.7 819.4h0M154.0 783.5h0M153.4 768.5h0M175.0 753.8h0M215.6 789.2h0M271.2 822.2h0M227.8 810.7h0M127.6 824.6h0M118.5 799.0h0M178.3 832.5h0M202.5 774.7h0M190.0 796.0h0M111.1 775.8h0M88.1 799.3h0M196.4 845.0h0M311.5 788.5h0M134.4 765.3h0M213.8 799.9h0M136.3 826.2h0M129.8 843.6h0M146.4 843.4h0M154.0 808.3h0M215.1 831.2h0M296.6 819.4h0M144.7 805.2h0M296.6 798.1h0M224.1 790.7h0M200.7 732.1h0M94.2 822.0h0M167.8 847.2h0M305.1 802.4h0M192.1 747.0h0M169.4 777.1h0M93.2 785.2h0M241.2 826.9h0M183.8 785.8h0M247.4 837.5h0M218.9 784.0h0M198.6 816.5h0M179.9 753.6h0M287.1 807.0h0M106.2 801.1h0M168.1 795.7h0M252.1 833.9h0M144.7 771.6h0M182.5 748.4h0M210.0 788.0h0M225.8 828.0h0M197.4 786.3h0M261.1 818.3h0M192.3 840.7h0M161.6 789.0h0M180.6 843.1h0M196.4 730.0h0M79.1 781.6h0M266.0 818.0h0M205.3 751.4h0M174.0 738.8h0M272.9 814.0h0M120.5 819.6h0M98.0 781.4h0M160.4 742.3h0M165.9 733.0h0M86.9 830.4h0M199.0 831.5h0M290.2 797.7h0M184.8 772.1h0M111.0 828.3h0M94.2 768.4h0M120.0 769.9h0M148.9 815.7h0M203.1 808.8h0M153.1 750.8h0M106.9 769.5h0M117.4 791.5h0M199.8 750.4h0M235.0 818.0h0M190.9 735.8h0M224.1 805.7h0M153.4 778.7h0M91.8 816.7h0M78.5 822.0h0M191.1 775.2h0M174.5 786.1h0M273.3 827.6h0M86.9 835.7h0M311.5 814.1h0M257.1 803.0h0M253.9 806.6h0M174.4 749.1h0M150.0 759.0h0M153.0 773.2h0M127.7 831.8h0M296.6 809.8h0M144.1 779.3h0M160.7 758.8h0M181.3 736.7h0M321.1 839.7h0"/>
<path class="o" d="M166.6 799.7h0M246.8 816.7h0M163.2 838.5h0M196.6 810.7h0M238.9 844.2h0M219.2 819.6h0M176.0 814.5h0M208.2 841.9h0M182.2 840.6h0M199.4 839.0h0M169.8 821.0h0M188.0 833.1h0M189.7 847.2h0M211.3 837.9h0M268.0 812.8h0M183.7 817.7h0M230.8 846.8h0M207.4 846.6h0M221.0 841.2h0M138.2 765.5h0M157.5 839.1h0M227.4 808.3h0M174.3 826.7h0M270.3 841.2h0M159.9 826.8h0M168.4 826.8h0M169.5 814.7h0M189.8 842.1h0M169.5 848.2h0M157.8 803.1h0M180.8 826.9h0M198.5 817.8h0M236.4 823.4h0M148.7 766.1h0M217.8 845.0h0M267.2 805.2h0M188.2 812.1h0M237.3 830.7h0M197.5 832.5h0M195.8 804.4h0M224.6 798.4h0M253.7 812.9h0M171.2 787.2h0M174.5 807.3h0M179.4 778.5h0M235.9 839.6h0M162.6 848.7h0M207.0 820.7h0M229.0 838.6h0M148.7 848.8h0M296.2 836.8h0M217.3 805.6h0M224.0 849.2h0M279.9 804.8h0M163.2 805.0h0M184.6 804.3h0M201.8 826.7h0M236.2 848.9h0M208.1 828.0h0M275.3 842.9h0M228.6 823.6h0M236.7 817.2h0M204.2 781.7h0M178.4 822.0h0M174.5 776.3h0M242.9 835.5h0M223.5 827.5h0M196.9 826.8h0M182.7 800.1h0M261.7 832.8h0M263.8 809.5h0M214.7 829.4h0M143.6 832.5h0M191.2 803.3h0M180.0 808.2h0M207.7 807.4h0M289.2 826.2h0M292.6 813.3h0M228.9 818.2h0M220.1 833.4h0M189.0 825.5h0M205.9 816.0h0M205.0 832.7h0M161.0 843.3h0M297.0 844.8h0M314.7 824.1h0M172.8 832.0h0M212.5 847.5h0M319.5 822.1h0M193.1 817.5h0M205.1 793.7h0M257.8 845.3h0M214.5 813.9h0M168.0 776.1h0M243.0 819.3h0M198.5 784.3h0M157.3 756.8h0M246.3 840.8h0M262.5 845.0h0M180.0 768.1h0M140.8 773.3h0M167.0 784.0h0M190.0 781.8h0M234.8 791.7h0M179.1 762.4h0M174.5 841.6h0M168.6 795.2h0M138.8 804.8h0M231.0 794.5h0M317.4 809.4h0M221.8 813.7h0M249.9 844.9h0M118.8 776.4h0M215.1 841.2h0M205.9 799.6h0M143.5 764.2h0M257.8 823.0h0M232.6 809.9h0M213.5 808.4h0M176.2 771.5h0M271.7 848.5h0M215.5 822.5h0M269.1 835.4h0M202.8 789.6h0M168.0 804.3h0M305.7 808.3h0M144.6 817.6h0M219.8 791.7h0M133.1 846.4h0M204.2 769.2h0M162.1 755.7h0M175.4 793.6h0M200.2 806.2h0M279.4 822.7h0M236.8 798.1h0M192.8 830.9h0M271.7 819.1h0"/>
<path class="o" d="M238.1 840.4h0M199.2 807.6h0M178.0 839.0h0M212.2 837.3h0M158.9 800.5h0M184.8 834.9h0M176.5 825.6h0M242.7 842.4h0M192.4 840.6h0M188.5 813.2h0M246.6 816.3h0M162.0 836.3h0M200.5 835.7h0M157.0 837.3h0M147.7 765.3h0M223.0 797.1h0M194.9 803.3h0M233.8 845.6h0M215.1 818.6h0M213.7 806.5h0M224.8 811.8h0M264.6 808.8h0M169.2 788.0h0M267.0 802.9h0M201.9 816.1h0M172.0 817.6h0M200.1 841.2h0M170.5 830.5h0M265.5 814.5h0M196.2 837.4h0M184.5 818.0h0M225.4 846.5h0M215.7 843.6h0M220.4 849.2h0M185.7 846.6h0M163.7 805.2h0M240.1 828.7h0M193.0 847.1h0M166.0 820.3h0M211.3 845.0h0M186.9 840.6h0M201.5 782.4h0M274.3 845.1h0M205.9 819.0h0M226.7 801.3h0M191.1 832.6h0M215.1 832.2h0M194.5 809.5h0M234.1 837.7h0M177.3 814.9h0M159.1 846.9h0M219.0 829.5h0M247.6 821.1h0M229.2 810.0h0M160.5 830.6h0M204.0 824.4h0M222.7 837.8h0M221.5 818.6h0M189.4 803.9h0M267.8 843.4h0M208.0 829.2h0M140.5 767.4h0M238.5 823.4h0M259.4 808.7h0M221.1 844.4h0M231.8 820.3h0M165.0 849.3h0M209.7 811.6h0M182.6 823.3h0M173.2 846.7h0M229.5 842.2h0M228.5 825.6h0M196.6 832.7h0M169.0 814.1h0M314.8 825.2h0M189.8 826.2h0M165.5 828.2h0M208.4 804.3h0M193.4 822.1h0M184.6 799.7h0M260.2 834.7h0M219.1 803.8h0M242.8 833.4h0M204.0 791.5h0M254.9 841.8h0M319.5 810.1h0M206.0 836.2h0M168.0 782.3h0M239.0 846.1h0M201.4 787.0h0M158.2 758.9h0M172.0 837.8h0M222.9 826.7h0M181.8 764.1h0M294.4 836.1h0M170.0 803.7h0M208.2 798.0h0M195.9 816.9h0M234.2 789.8h0M230.4 849.0h0M276.7 839.7h0"/>
<path class="g" d="M172.0 765.3h0M193.5 775.4h0M213.6 810.8h0M218.0 815.1h0M228.4 834.3h0M277.1 798.5h0M194.9 779.8h0M153.3 823.2h0M293.8 837.1h0M245.4 815.2h0M294.2 830.5h0M84.8 785.7h0M162.5 773.7h0M196.9 796.7h0M179.1 766.2h0M217.7 798.1h0M189.7 793.9h0M207.1 807.7h0M191.5 764.2h0M176.6 831.2h0M133.9 802.9h0M133.3 828.3h0M224.6 813.1h0M145.9 820.3h0M192.1 815.2h0M151.5 795.2h0M129.4 787.5h0M124.7 790.1h0M198.2 761.5h0M177.8 753.4h0M169.4 798.4h0M89.3 783.5h0M167.8 775.0h0M160.5 769.5h0M185.8 768.4h0M170.2 780.9h0M200.7 735.9h0M161.5 792.6h0M204.5 821.1h0M171.8 848.2h0M200.7 835.0h0M232.6 817.3h0M158.2 782.1h0M122.9 820.0h0M118.2 791.2h0M94.2 808.3h0M224.0 823.5h0M176.5 759.8h0M119.5 796.8h0M247.4 838.0h0M145.9 792.3h0M171.4 740.2h0M111.1 824.1h0M145.2 797.4h0M98.5 795.1h0M178.4 784.8h0M196.4 817.3h0"/>
<path class="o" d="M196.6 809.5h0M238.2 843.6h0M212.4 836.4h0M196.3 838.7h0M216.1 819.6h0M187.5 833.5h0M172.6 826.8h0M217.6 843.6h0M188.2 847.8h0M158.5 836.3h0M228.4 845.0h0M238.2 829.3h0M189.2 841.4h0M227.5 809.8h0M168.5 817.6h0M273.4 841.6h0M161.8 801.7h0M218.0 831.2h0M202.8 782.1h0M247.4 816.1h0M245.4 839.2h0M167.4 822.3h0M201.0 842.4h0M199.8 816.7h0M207.6 819.8h0M136.3 767.4h0M203.2 824.1h0M204.4 829.4h0M233.8 849.1h0M201.7 837.1h0M223.3 796.4h0M195.9 831.3h0M263.3 813.0h0M217.3 806.1h0M212.4 847.8h0M168.5 848.9h0M222.8 833.7h0M189.0 822.3h0M210.7 805.0h0M212.1 828.9h0M222.7 848.5h0M233.5 842.3h0M204.0 789.9h0M231.7 822.3h0M174.5 840.0h0M256.2 844.0h0M224.6 814.6h0M207.6 838.1h0M319.3 810.5h0M220.5 827.3h0M179.1 839.5h0M230.5 836.5h0M172.8 786.1h0M207.1 809.2h0M158.4 845.9h0M226.8 801.2h0M174.0 803.1h0M221.6 819.0h0M203.2 806.6h0M217.4 835.9h0"/>
<path class="g" d="M228.9 834.7h0M193.0 775.0h0M193.4 783.8h0M177.6 764.6h0M220.7 816.4h0M143.3 816.7h0M176.5 749.7h0M290.0 832.1h0M159.3 772.7h0M175.2 754.3h0M134.9 806.2h0M195.2 815.5h0M189.0 818.2h0M200.5 763.5h0"/>
<path class="o" d="M198.9 809.6h0M235.4 846.0h0M211.3 835.8h0M170.5 826.5h0M197.3 841.5h0M185.1 843.1h0M230.8 846.6h0M188.9 848.3h0M219.5 818.9h0M192.7 843.0h0M214.4 829.4h0M219.8 845.0h0M227.7 809.5h0M202.8 818.7h0M167.5 819.0h0M208.0 831.0h0M222.5 831.1h0M245.7 819.2h0M203.6 835.1h0M194.1 831.1h0M215.1 840.5h0M158.6 802.6h0M169.7 846.2h0M190.4 838.2h0M219.2 827.8h0M188.1 823.7h0M158.6 839.0h0M231.7 839.3h0M198.3 834.4h0M206.9 809.6h0M220.1 806.3h0M170.8 839.7h0M239.4 832.8h0M172.7 830.6h0M207.5 825.5h0"/>
<path class="o" d="M236.4 842.8h0M200.6 809.1h0M212.2 838.7h0M172.4 827.4h0M191.7 848.7h0M214.4 831.8h0M198.3 838.7h0M196.4 806.1h0M204.2 835.0h0M228.6 843.0h0M222.3 847.1h0M220.8 828.0h0M185.9 843.0h0"/>
<path class="g" d="M192.4 776.5h0M182.1 765.3h0M176.8 752.3h0M134.5 805.4h0"/>
<path class="o" d="M236.8 844.1h0M172.4 826.9h0M213.2 836.2h0M217.2 829.5h0M191.8 848.4h0"/>
<path class="o" d="M171.6 829.4h0M238.0 844.0h0M216.2 833.4h0M212.1 835.9h0M233.1 842.3h0"/>
<path class="g" d="M196.1 776.7h0"/>
<path class="o" d="M174.0 828.9h0"/>
<line x1="61.0" y1="796.4" x2="322.6" y2="826.9" class="rl"/>
<line x1="61.0" y1="741.1" x2="322.6" y2="799.0" class="rd"/>
</g>
<rect x="48.2" y="698.2" width="287.1" height="156.0999999999999" fill="none" stroke="#5c5c5c" stroke-width="1.0"/>
<path d="M48.2 697.7V854.3H335.8" fill="none" stroke="#111" stroke-width="1.2"/>
<line x1="45.2" y1="849.30" x2="48.2" y2="849.30" stroke="#111" stroke-width="1.1"/>
<text x="43.2" y="852.00" class="tk" text-anchor="end">0</text>
<line x1="45.2" y1="812.52" x2="48.2" y2="812.52" stroke="#111" stroke-width="1.1"/>
<text x="43.2" y="815.23" class="tk" text-anchor="end">25</text>
<line x1="45.2" y1="775.75" x2="48.2" y2="775.75" stroke="#111" stroke-width="1.1"/>
<text x="43.2" y="778.45" class="tk" text-anchor="end">50</text>
<line x1="45.2" y1="738.98" x2="48.2" y2="738.98" stroke="#111" stroke-width="1.1"/>
<text x="43.2" y="741.68" class="tk" text-anchor="end">75</text>
<line x1="45.2" y1="702.20" x2="48.2" y2="702.20" stroke="#111" stroke-width="1.1"/>
<text x="43.2" y="704.90" class="tk" text-anchor="end">100</text>
<line x1="52.60" y1="854.3" x2="52.60" y2="857.3" stroke="#111" stroke-width="1.1"/>
<text x="52.60" y="865.40" class="tk" text-anchor="middle">-25</text>
<line x1="113.40" y1="854.3" x2="113.40" y2="857.3" stroke="#111" stroke-width="1.1"/>
<text x="113.40" y="865.40" class="tk" text-anchor="middle">-20</text>
<line x1="174.20" y1="854.3" x2="174.20" y2="857.3" stroke="#111" stroke-width="1.1"/>
<text x="174.20" y="865.40" class="tk" text-anchor="middle">-15</text>
<line x1="235.00" y1="854.3" x2="235.00" y2="857.3" stroke="#111" stroke-width="1.1"/>
<text x="235.00" y="865.40" class="tk" text-anchor="middle">-10</text>
<line x1="295.80" y1="854.3" x2="295.80" y2="857.3" stroke="#111" stroke-width="1.1"/>
<text x="295.80" y="865.40" class="tk" text-anchor="middle">-5</text>
<text x="47.900000000000006" y="689.4000000000001" class="ti">Latitude</text>
<text x="0.6" y="680.6" class="lt">G</text>
<text x="191.8" y="878.6999999999999" class="xt" text-anchor="middle">Latitude (decimal degrees)</text>
<text transform="translate(21.2,776.2) rotate(-90)" class="yt" text-anchor="middle">Species ha<tspan font-size="7.5" dy="-4.5">−1</tspan></text>
<text x="459.9" y="753.4" style="font-size:14.3px;fill:#000">Vegetation</text>
<rect x="460.2" y="765.1" width="20.3" height="23" fill="#F08F2A" stroke="#000" stroke-width="1.6"/>
<rect x="460.2" y="791.9" width="20.3" height="23" fill="#2A7018" stroke="#000" stroke-width="1.6"/>
<text x="489.6" y="782" style="font-size:11.5px;fill:#000">Savanna Formation</text>
<text x="489.6" y="808.2" style="font-size:11.5px;fill:#000">Forest Formation</text>
</svg></body></html>
